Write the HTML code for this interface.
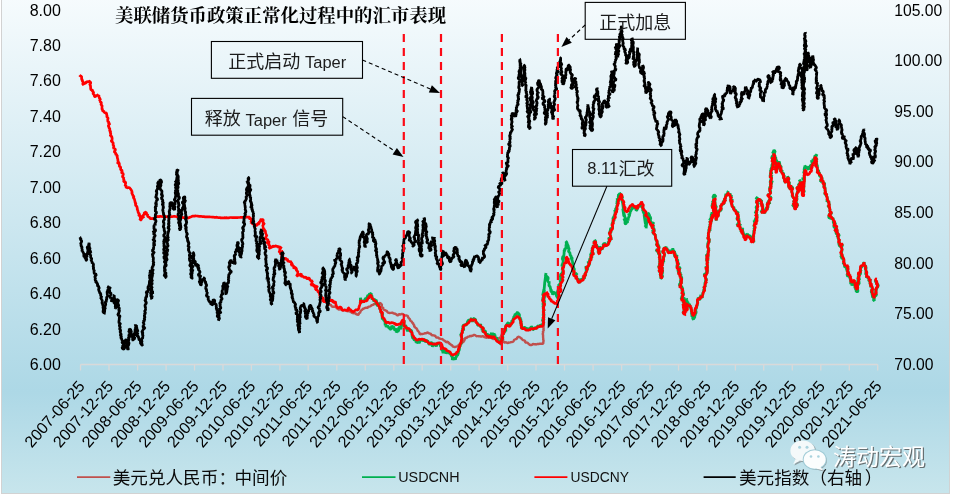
<!DOCTYPE html>
<html lang="zh"><head><meta charset="utf-8"><title>美联储货币政策正常化过程中的汇市表现</title>
<style>
html,body{margin:0;padding:0;background:#fff}
body{width:955px;height:498px;overflow:hidden;position:relative;font-family:"Liberation Sans",sans-serif}
#chart{position:absolute;left:1px;top:-3px;width:948.8px;height:496.7px;box-sizing:border-box;border:1.2px solid #d2d2d2;background:linear-gradient(to bottom,#f6fbfd 0%, #add8e6 79.5%, #c7e5ec 100%)}
svg{position:absolute;left:0;top:0;will-change:transform}
</style></head><body>
<div id="chart"></div>
<svg width="955" height="498" viewBox="0 0 955 498">
<g stroke="#d9d9d9" stroke-width="1.3" fill="none">
<path d="M80.5 364.5H877.7"/>
<path d="M80.5 364.5V370.5M109 364.5V370.5M137.6 364.5V370.5M166.1 364.5V370.5M194.5 364.5V370.5M223 364.5V370.5M251.4 364.5V370.5M279.9 364.5V370.5M308.2 364.5V370.5M336.8 364.5V370.5M365.3 364.5V370.5M393.8 364.5V370.5M422.2 364.5V370.5M450.7 364.5V370.5M479.1 364.5V370.5M507.6 364.5V370.5M536 364.5V370.5M564.5 364.5V370.5M593.1 364.5V370.5M621.6 364.5V370.5M650 364.5V370.5M678.5 364.5V370.5M706.8 364.5V370.5M735.4 364.5V370.5M763.7 364.5V370.5M792.3 364.5V370.5M820.8 364.5V370.5M849.3 364.5V370.5M877.7 364.5V370.5"/>
</g>
<g fill="none" stroke-linejoin="bevel" stroke-linecap="butt">
<path stroke="#c0504d" stroke-width="2.4" d="M320 297L320.8 297.3L321.3 297.9L321.3 299.1L322.3 299.3L322.7 300L323.3 300.5L324.2 300.7L325.2 300.9L325.9 301.2L326.2 302.1L326.6 302.8L327.2 303.4L327.6 304.1L328.4 304.4L329 304.9L330 304.7L330.8 304.6L331.2 305.7L331.9 306.3L332.5 306.9L333.4 306.7L334.2 306.6L335 306.9L335.9 306.8L336.5 307.3L336.8 308.7L337.7 308.5L338.3 309.3L339.1 309.5L340 309.2L340.7 309.5L341.5 309.5L342.1 310.4L342.9 310.6L343.8 310.1L344.7 310L345.4 310.4L346.2 310.5L346.9 310.7L347.5 311.7L348.7 310L349.3 310.9L350 311.4L350.7 311.9L351.5 312L351.8 313.1L352.9 312.6L353.4 313.3L354.4 313.1L355.1 313.3L355.9 313.4L356.3 314.6L357.3 314.2L357.8 315L358.6 314.7L358.9 313.8L359 312.9L360.1 312.9L360.3 312L360.6 311.2L361.1 310.6L361.6 310L362.3 309.6L362.8 308.8L363.6 308.7L364.4 308.2L365.2 308L366 307.7L366.9 307.7L367.8 307.7L368.2 306.8L369 306.6L369.9 306.5L370.6 306.2L371.2 305.6L371.9 305.1L372.7 305L373.4 304.6L374 303.9L374.9 304.1L375.6 303.8L376.4 303.3L377.2 303.5L378 303.4L378.9 303.3L379.6 303.1L380.3 302.8L380.6 303.5L381.3 304.1L381.9 304.7L381.8 305.7L381.3 306.8L381.5 307.6L383.4 307.6L383.2 308.6L383.6 309.3L384 309.9L384.8 310.1L385.5 310.6L386.3 310.6L386.9 311.2L387.4 312L388 312.6L388.8 312.7L389.4 313.2L390.4 312.9L391.3 312.9L392.3 312.5L393 313.1L393.7 313.7L394.6 313.4L395.3 314.1L396.2 313.9L396.7 315L397.6 315.5L398.3 315L399 314.1L399.9 314.7L400.6 314.4L401.4 313.9L402.2 314L403 314.1L403.6 314.5L404.1 315.4L404.9 315.7L405.8 315.5L406.7 315.5L407.5 315.8L408 316.5L408.1 317.4L408.8 317.9L409.1 318.7L410 319.1L410.1 320L410.4 320.8L411.2 321.2L412 321.7L412 322.6L412.7 323.1L413.4 323.6L413.2 324.8L414.3 324.8L414.2 326L414.3 326.9L415.2 327.2L415.4 328.1L416.5 328.2L416.8 329L417.3 329.6L417.4 330.5L417.9 331.1L418.6 331.6L419 332.2L419.5 332.9L419.5 333.9L420.7 334.3L421.4 333.8L422.3 334.2L423.1 333.8L423.9 333.6L424.7 333.3L425.5 333.2L426.4 333.4L427.1 332.3L428 332.7L428.7 333.1L429.4 333.5L430.2 333.6L430.9 333.9L431.4 334.8L432 335.3L432.8 335.3L433.7 335.4L434.4 335.7L435.3 335.7L435.7 336.6L436.2 337.4L436.9 337.8L438 337.2L438.6 338L439.2 338.5L440 338.6L440.8 338.9L441.5 339.1L442.4 339L443 339.6L443.5 340.3L444.3 340.4L444.8 341.2L445.6 341.2L445.8 342.4L447 341.9L447.9 341.8L448.2 342.9L449.2 342.8L449.4 343.9L450.2 344.2L450.9 344.5L451.4 345.2L452.3 345.3L452.6 346.2L453.3 346.7L454 346.9L454.8 347.2L455.5 346.8L456.3 346.5L457 346.6L458 346.6L458.3 345.7L458.6 344.8L459.6 344.9L459.9 344L460.8 343.8L461.6 343.7L462 342.9L462.4 342.2L463.4 342L463.7 341.2L464.3 340.6L464.6 339.9L464.8 339L465 338.2L465.8 337.7L466.7 338L467.3 337.3L468 336.7L468.8 336.6L469.5 336.3L470.2 335.9L471.2 336.3L471.9 335.8L472.7 335.7L473.4 335.2L474.2 334.9L475 335.2L475.7 335.5L476.4 336.3L477.2 336.1L478 336.1L478.7 336.2L479.5 336.4L480.3 336.2L481 336.6L481.9 336.5L482.8 336.1L483.6 336.3L484.3 337.2L485.1 337.4L485.9 337.6L486.7 337.7L487.7 337.1L488.4 337.8L489.2 337.8L490 337.8L490.8 337.6L491.5 338.2L492.2 338.4L492.9 338.8L493.6 339.1L494.5 338.4L495.4 338L496 338.9L496.9 339L497.6 338.1L498.6 338.9L499.3 338.1L500.1 337.5L501 337.8L501.1 338.7L502 339L503.2 339.1L503 340.3L503.3 341.1L503.5 341.9L504.2 342.3L504.7 342.6L505.5 342.2L506.3 342.4L507.2 342.8L508 343.1L508.7 342.5L509.5 342.6L510.3 342.4L511.1 342.1L511.8 342L512.7 341.8L513.4 341.5L513.8 340.7L514.1 339.8L514.9 339.5L515.7 339.1L516.5 339L517 338.2L517.4 337.4L518 336.9L518.8 336.8L519.4 337.2L520.2 337.4L520.7 338.1L521.5 338.4L521.9 339.1L522.5 339.7L523.2 340.1L524 340.3L524.6 340.7L525.3 341L525.2 342.5L526.2 342.5L527 342.6L527.7 342.9L528.2 343.6L528.8 344L529.3 344.6L530 345.1L530.8 345L531.6 345L532.3 344.6L533 344L533.8 344.2L534.6 344.3L535.4 344.2L536.3 344.5L537 344.2L537.7 343.9L538.5 344.2L539.3 343.9L540.1 343.6L540.8 343.8L541.6 343.5L542.4 343.9L543.1 343.7L543.4 342.9L543.2 342.1L543.5 341.3L543.6 340.5L543.1 339.7L543.3 338.9L543.2 338.1L543.1 337.3L543.1 336.5L543 335.7L543.2 334.9L542.6 334.1L543 333.3L543.2 332.5L542.8 331.7L543.4 330.9L543.8 330.1L543.3 329.3L543.6 328.5L543.6 327.7L543.2 326.9L543.8 326.1L543.5 325.3L543.7 324.5L543.4 323.7L543.5 322.9L543.5 322.1L542.8 321.3L542.6 320.4L542.9 319.6L543.3 318.8L543.4 318L544.4 317.3L543.9 316.4L543.9 315.6L543.7 314.8L543 314L543.3 313.2L543.1 312.4L543.1 311.6L543.6 310.8L543.6 310L543 309.2L543.3 308.4L543.1 307.6L543.8 306.8L543.5 306L543.1 305.2L543.4 304.4L543.8 303.6L543.4 302.8L543.5 302L544.1 301.2L544.5 300.4L543.1 299.6L542.9 298.8L544.1 298L544.1 297.2L543.7 296.4L544.5 295.6L543.5 294.8L543.5 294"/>
<path stroke="#00b050" stroke-width="2.8" d="M360.1 303L360.3 302L360.8 303.6L360.5 299.5L360.4 301L360.5 297.8L361.4 301.8L362.4 301L363.2 302.5L364.1 299.9L365 300.7L364.8 299.2L365.8 298.5L366.6 299.1L367.3 296.6L367.3 297L367.9 297.2L367.2 296L368.1 295.3L368.7 298.4L369.1 295L369.6 293.5L370.3 294.1L371.3 293.1L371 295.1L372 295.7L372 299.8L372.9 297.6L372.8 298.5L373.5 299.2L373.8 301.6L374.5 299.6L375.4 299.8L376.1 304L376.2 299.9L376.7 302.1L376.9 304.1L377.4 306.2L378.3 303.5L378.4 303.1L379 306.8L379.8 306.5L379.5 307.3L379.8 308.9L380 309.6L379.9 309.5L380.5 309.8L381.4 312.6L380.1 313.2L381.2 312.7L382.2 313.1L382.7 315.2L381.7 315.7L382.1 314.8L382.2 316.6L382.3 319.4L382.9 318.7L383.7 319.9L383.9 320.6L384.5 320.9L384.3 321.8L384.9 320.2L385.2 325.3L385.7 324L385.4 323.7L386.2 326.8L386.7 326.3L387.5 325.8L388.5 327.1L389.1 328.6L389.1 327.9L390 328.8L390.9 329.6L391.7 325.8L392.4 326.7L393.3 328.6L393.2 326.1L394 328L394.9 330.4L395.7 329.7L395.4 330.9L396.2 328.2L396.3 332.4L397.2 331L398 331.4L398.7 330.3L398.9 327.4L399.6 327.3L400.4 327.2L401 329.5L401.1 325.2L401.7 324.8L402 323.9L402.1 323.6L403.2 322.5L404.5 322.1L403.8 321.9L404.3 320.1L403.9 324.6L404.2 325.1L404.1 326.9L403.7 326.3L404.1 326.1L405.2 326.7L405.3 325.1L405.8 326.1L406.2 326.4L406.6 328.7L407.6 331.1L408.4 329.3L408.9 330.5L409.3 329.7L409.9 330.3L410.1 330.5L410.3 331.5L410.7 329.7L411.8 331.3L411.7 331.5L412 334.3L412.1 335.2L412.2 336.5L412.9 338.4L412.8 336.3L413.7 338.4L413.6 339.9L413.8 339L414.5 340.4L415.4 339.7L415.3 338.7L416 342.2L416.7 341.9L416.8 343L417.7 342.2L417.9 342.5L418.3 339.2L419.1 343.1L419.8 341.6L420.7 340.2L421.5 338.9L422.3 340.1L423 340.6L423.9 340.6L424.1 341.5L423.9 339.1L424.8 340L425.7 342.3L426.4 341.2L426.4 339.9L426.9 340.9L427.7 340.3L427.8 341.4L428.8 344.1L428.8 343.5L429.3 344.9L430.2 343.7L431 342L431.8 343.1L432.4 346.9L433.3 343.9L434.2 343.3L434.8 346.2L435.1 344.6L435.7 344.8L436.4 346.5L437.2 342.4L437.9 344.3L438.6 343.5L439.5 343L440.3 344.7L440.6 346.9L441 346.7L441.8 345.4L441.9 347.3L441.9 350.8L442.1 350.7L442.3 349.4L443.1 353.3L443.2 350.8L444 350.2L444.9 351L445.6 352.5L445.8 353.4L446.3 352.6L446.4 352.1L447.3 352.1L447.4 351.9L447.6 353.3L448.1 352.4L449 353.5L449 352.1L449.8 353.3L450.5 354.1L450.8 354.8L451.3 354.9L451.5 356.2L452.4 357L452.3 360L452.6 359L453.5 357.4L454.2 359.4L455.1 358.5L455.6 359.8L455.6 357.6L456.5 356.7L456.3 355.4L457.3 355.2L458.3 354.8L457.9 354.1L458.6 352.4L458.2 352.5L458.9 350.5L459.4 349.5L459.4 347L459.4 348L459.9 346.1L460.1 345.3L459.8 346.2L460.5 346.9L460 345.8L461 343.1L461.5 342.7L461 343.3L461.4 343L461.2 341.7L461.7 339.5L462.2 339.3L461.6 337.4L461.6 336.9L461.7 335.3L460.4 335.5L461.9 332.8L461.5 333.2L461.5 334.6L462.1 332.1L462.5 332.7L462.3 330.1L461.9 330.1L463 330.5L462.4 327.8L462.9 328.2L463.8 330.8L463 326.3L463 325.4L463.4 325.3L464 325.2L464.7 324.6L465.7 325.5L466.3 324.6L467.3 323.1L467.3 322.3L468 320.7L468.7 320.1L469.2 320.1L469.3 321.5L470.2 319.7L470.6 320.3L471.1 318.7L471.4 318.6L472.4 321.9L473.2 319L474 318.6L474.7 318.1L474.4 320.4L475 319.1L475.4 318.9L475.7 320.7L476 322.8L476.5 322.3L477.5 323.2L477.6 325.1L478.6 325.6L478.4 326L479.1 324.3L479.9 325.7L480.5 325.8L480.7 323.9L480.9 328L481.3 326.9L482 326.7L482 330.2L483.1 327.8L483.6 327.7L482.8 329.4L483.2 331.2L482.6 332.6L483.7 331.1L484.3 330.6L484.6 331L485.1 331L485.6 331.6L485.4 333.3L486 333.8L486.3 334.8L486.6 334.3L487.3 334.4L488.4 334.8L488 335.6L488.9 337.1L490 334.2L489.7 336.7L490.5 335.6L491.6 332.8L491.5 336.5L491.7 335.8L492.4 332.7L492.7 335.1L493.3 334.9L494.2 333.6L494.8 337.1L494.3 336L494.9 334.8L495.3 337.8L496.2 337.9L496.3 337.6L496.6 337.1L497 340.5L497.8 340.1L498.8 341.7L499.3 342.6L499.4 342L500.1 341.7L500.9 344.6L501.7 344.1L501.2 341.7L501.1 339.6L502 339.1L501.7 338.5L501.3 340.3L502.6 338.7L502.9 337.2L502.1 335.2L501.7 335.8L502.3 333.7L502.7 334.1L503.6 334.6L503.5 334.2L504.1 332.4L503.7 330.7L504.3 331.5L504.8 332.6L504.7 330.6L504.6 328L504.8 330.3L505.7 328.4L505.8 331.5L505.6 326.1L505.9 325.8L506.5 324.8L506.3 325.5L507 324L507.7 323.1L508.5 322.7L509.2 325L510.3 323.9L510.5 322.6L510.7 325.2L511.6 323.3L511.5 322.7L512 320.4L512.2 321.1L513.2 319.5L513.3 318.5L513.1 318L513.7 317.9L513.8 316.5L514.4 316.4L515.3 313.7L515.4 314.6L516 314.9L516.9 312.9L517.7 312.1L518.1 314.3L518.5 313.5L519.4 314.6L519.4 317.6L520.2 317.1L519.9 320.2L520.6 319.6L520.2 320.2L521.1 321.7L520.7 318.7L520.8 321.6L521.9 320.9L520.4 322.6L521.5 324.3L521.7 326.9L521.1 326.3L521.7 328.8L521.6 326.5L522.3 327.3L522.9 328.3L523.6 328.4L524.1 327.4L525.1 327.3L525.7 328.7L526.5 327.5L527.2 330.5L527.5 329.9L528 330L528.8 329.2L529.6 328.1L530.8 328.6L530.5 329.4L531.2 326.4L531.9 327.1L532.7 329.7L533.5 329.4L534.3 328L535 327.7L535.8 327.8L536.6 328.8L537.2 326.2L537.2 325.9L538.3 326.3L539 327.4L539.8 325.1L540.8 325.3L541.5 325.2L542 324.5L542.5 324.4L543.1 324L543.3 323.7L543.1 321.3L543.9 318.7L543.8 318.7L543.2 320.4L542.6 321.1L543.1 318.4L544 316.8L543.4 316.5L544.2 314.1L543.8 314.3L542.9 315.7L543.2 314.7L543.8 312.6L543.7 311.9L543.8 312L543.5 311.8L544 309.4L543.3 310.7L543.3 310.7L543.5 307.7L544.6 300.2L543.7 306.3L543.5 303.9L542.9 307.5L543.9 302.7L543.8 302.7L543.6 302.8L542.8 304.9L544.6 296.1L544.5 295.4L543.3 300L543.6 299.9L542.6 300.7L542.7 299.1L543.9 296.8L543.9 297.2L542.7 298.3L543.8 295.6L543.7 294.3L543.4 295.8L544.5 289.9L542.6 295.6L543.9 289.5L543.8 293L544.7 283L544.7 282.6L546 273.1L545.4 276.2L546 276.2L547.2 277.1L547.9 276.6L545.6 276.5L547.4 277L548.2 277.8L547.9 279.8L547.4 279.9L548.1 281.9L548.8 282.3L549.2 281.2L549 285.8L550 286.4L550.8 289.8L551.3 288.5L550.7 290.5L551.5 292L551.5 290.7L552.5 293.5L552.7 294.8L553.8 292.3L554.3 291.9L555.1 294.1L555.9 293.6L556.5 295.9L556.5 296L558.1 298.6L557.1 296.1L557.6 294.3L556.8 294L558.1 290L558.6 291.9L558.4 290.6L558.2 290.4L558.2 290.9L559.1 289L559.3 289.8L559.5 287L558.6 287.5L558.7 285.8L558.3 285.4L559.7 284.3L560.4 282.8L560.8 283.6L560 283.8L560.6 284.6L561.1 281.2L559.9 280L560.4 281.5L560.9 277.1L559.3 277L560.3 277.5L560.7 274L561.6 274.1L561.5 274.8L562.3 272.5L563.2 271.6L562.4 272.5L563.2 270.4L562.2 268.9L562.3 269.6L563 266.8L563.2 268.4L562.9 265.8L561 265L562.5 264.9L562.9 262.4L564.1 262.2L563 261.7L563.7 257.3L563.2 259.5L562.7 260.1L562.4 258.8L562.7 256.9L564 255.8L563.5 256.9L563.9 255.3L564.1 253.2L564.1 252.2L564.8 248.6L564.8 250.8L563.7 251.8L565.4 248.8L566.6 247L565.1 246.3L565.8 246.8L566.1 244.9L566.3 244.1L566.3 242.6L565.9 241.6L566.6 241.9L567.4 243.9L566.9 243.5L568 245.6L568.3 246L568.4 248.3L567.2 247L569.1 248.4L568.5 251.8L569.8 252.4L570.3 255.5L571.3 256L571.2 257L571.2 259.3L572.3 258.7L571.8 257.4L572.1 260.9L572.4 260.5L572.7 263.9L572.1 265.7L573.3 266.3L573.9 268.5L574.5 269.4L574.1 270.2L574.6 270.3L573.2 271.3L574.1 272.9L574.9 273.7L575.5 274.5L577.3 273.2L575.2 275.9L576.4 276.7L576.6 277.3L577.4 278.8L577.5 280.1L577.9 278.4L578.1 279.1L578.4 279.3L577.9 280.4L578.9 282.2L579.8 282L580.4 281.9L580.8 279L581.3 279.3L582 280.1L582.9 279.4L583.8 278.2L582.3 278.1L584 278.3L582.8 276.1L584.4 279L584.6 276.2L583.7 277L583.3 276.6L583.8 276.4L585.9 274.6L584.8 272.6L585.2 273.4L586.2 272L586.2 267.8L586 267.4L586.2 269.7L587.4 269.1L586.7 267.5L586.3 267.9L585.4 266.1L587.5 269.5L587.9 266.5L588.5 266L589.5 264.3L587.8 261.2L589 263.2L590.1 261.8L589.1 261.4L590 260.7L589.5 261L589.9 258.6L590.9 259.1L591.2 257.8L590.7 256.1L590.8 255.6L591.2 256.8L592.1 257.8L591.4 254.8L590.4 255.4L591.2 253.2L592.1 253L593.4 254.5L593 252.9L591.8 249.7L592.3 250.4L592.5 249.9L591.4 251.7L593.1 250.5L591.8 248.5L593.7 247L592.3 246.2L595.2 245.2L595.5 244.9L594.9 242.2L595.4 242.3L593.2 240.9L594.4 241.9L595.3 240.9L594.4 240L595.4 240.8L595.7 242.6L595.8 244.1L595.2 242.9L596 244.8L596.5 245.2L596.6 245.8L596.6 244.6L597.3 248.2L599.1 246.5L598 252.6L599 252L599.1 249.3L598.3 252.1L599.6 252.7L599.5 251.9L600 252L599.4 250.2L599.3 250.9L600.8 249.9L599.5 246.7L601.3 248.5L602 249.5L602.4 248.4L603.5 246.5L603.1 244L604 243.8L604.6 244L604.2 242.3L604.7 245.2L605.4 244.6L606.3 245.5L607.1 243.9L608 244.5L608.3 241.5L608.7 244.2L609.3 240.1L608.4 239.8L610.7 237.9L608.3 239.1L609.2 237.9L609.1 239.1L610.3 239.3L611.2 239.7L611.1 237.8L610.4 236.1L610.1 234L609.1 232L611 231.6L611.8 230.9L610.8 232L610.3 228.7L610.9 228.5L610 231.5L611.7 228.8L610.8 228.5L612.7 228.1L612.5 226.9L612.3 225.4L612.6 226.1L612.7 223.4L611.7 224.7L613 221.6L613.1 220.6L614.4 221.4L613.3 219.3L612.9 218.6L613.2 220.2L613.3 220.2L612.9 218.4L614.2 216L613.5 218.2L614.8 215.5L614.6 215.6L615.3 211.5L615.5 212.5L614.9 211L614.6 209.8L615.3 211.1L616 210.1L615.7 208.5L615.1 208.4L615.7 209.3L615.4 209.3L616.7 207.2L616.7 206.4L617 205.5L617.5 203.7L616.8 203.3L616.8 204L617 203.6L617.1 200.6L617.7 201L617.9 200.4L616.8 198.1L618.8 201.9L618 199.3L618.5 199.2L618.6 196L618.2 196.2L618.5 198.5L618.4 194.5L619.2 194.6L620.4 197.6L620 197.3L620.1 196L619.5 192.7L621.3 196.4L622.8 198.3L621.9 196.6L621.2 194.6L620.6 194.4L621 195.7L621.9 197.7L622.2 199.2L621.3 198.1L621.2 197.2L622.5 202.6L622.4 201.2L623.8 211.6L623.2 204.1L624.3 211.6L623.8 208.3L623.5 209.7L623.2 208.9L624.2 216.7L623.8 215.1L623.3 211.3L623.8 215.8L622.8 208.6L625.1 217.8L625.2 221.7L623.9 218.5L625.6 220.8L624.8 223.5L625.7 223.9L626.4 222.9L626.2 221.4L627.4 222.9L627.7 217.5L628.3 220.8L628.1 218.7L629 216.4L629.7 215.2L628.7 213.4L629 215.2L629.9 213.8L630.2 211.5L630.7 211.2L631.8 208.9L631.6 206.3L632.8 205.8L633.1 207.5L633.7 205.3L633.3 207.2L634 208.8L635.3 206.7L636.7 207L636 210.9L637 209.8L638.2 207.1L637.8 207.6L638.4 206.1L639.3 205.5L639.3 206L640.5 206L640.3 204L641.1 205.1L641.5 203.4L642 205.2L642.1 205.2L641.9 203.3L642.1 207.6L643.4 208.1L643.2 209.2L641.8 209.3L643.3 210.2L643.1 211.7L644.3 214.2L644.2 215.5L645.3 223.1L645.5 223.5L645.8 224.6L646.1 222.8L646.6 220.3L646.1 225.4L644.8 227L646 225.5L646.5 222.9L646.1 228.4L646.7 222.6L647.7 217.8L647.6 217.2L648.6 213.1L648.9 212.8L648.2 215.8L649.1 215.4L648.6 214.8L649.7 214.7L649 217.7L650.4 216.7L650.8 219.4L649.9 218.3L651.2 223.5L652.2 224.7L653.9 222.1L651.4 225.6L651.9 226.7L652.2 225.2L653.1 224.7L653.9 232L654.2 230L654 228.3L654.1 230.9L654.3 231.6L652.6 229.7L653.2 233.5L654.5 234L655.1 234.4L655.4 234.2L654.4 235.9L655.4 234.2L655.4 237.4L655.9 237.2L655.6 238L655.6 238.8L656.4 240.9L657.1 241.1L657.1 242.1L657 244.7L657.5 242.3L656.2 245.1L658.9 245.6L657.9 246.6L657.8 244.1L659.2 247.1L658.2 249.6L655.9 249.8L658.5 252.6L659.8 251.1L658.7 250.9L658.4 253.8L659.1 254.4L660.3 252.8L658.8 255.3L659.2 252.5L660 255.3L659.2 255.9L660.6 257.2L658.9 258.4L659.7 258.1L660.7 259.3L658.9 258.8L660.3 258.9L660.2 258.6L660.3 258.9L660 261.2L659.6 258.3L660.1 260.6L659.5 262.3L660.5 264.3L659.1 264.1L660.6 266.4L660.1 265.7L659.7 265.7L658.5 265.8L659.4 268.3L661.7 270.9L659.1 270.4L659.1 269.7L659.5 272.3L660.7 269.9L661 271.2L660.1 274.8L660.5 275L660.3 276.3L661.1 276.1L661 275.7L660.7 276L661.2 275.3L660.7 278.9L662.6 275.9L660.9 273.1L660.9 274.3L661.2 275.3L661.9 272.9L661.7 270.4L661.1 276.6L662.7 272.1L660.9 272.5L661.9 272.7L662.7 270.8L662.2 269.6L662.3 267.6L661.8 269.7L661.7 267.4L662.9 268.4L661.2 267.4L660.9 265.4L662.6 263.5L662.5 263.7L660.6 263.9L662.8 263.2L663.6 260.3L663.8 262L660.4 260.9L663.7 261.9L662.9 260.4L663.7 260.1L663.5 257.8L662.8 257.4L663.1 257.7L663.9 256.2L663.8 256.6L664.1 257L664.6 254.4L664.1 252.4L662.3 252.1L664.3 248.9L664.5 248.7L663.2 249.6L664.8 247.6L665.4 249.5L665.8 248.8L666.1 246.4L665.7 247.9L666.6 248.2L666.9 248L667.1 249.9L667.4 249.7L667.8 249.6L668 252.1L668.6 252.1L669.3 252.5L670.1 250L671.2 252.2L671.9 251.1L672 250.5L672.7 250.6L672.5 250.3L672.8 248.1L673 250L673.7 250.6L674 251.7L674.7 250.8L674 254.7L674.9 253.2L674.7 254.6L676.2 254.2L674.8 253.8L674.4 256.1L676.2 257.1L677 254.7L676.3 259.7L676.4 259.7L677.2 259.5L677 259.3L678.2 260.9L676.2 260.9L677.7 262.1L677.6 262.2L678.3 263.5L678.9 262.5L677.9 264.8L676.8 265.7L677.2 267.2L677.6 267.8L680.3 267.5L678.4 271.5L677.8 269.6L678.3 269.7L679.4 269.3L679.1 271.2L678.1 270.7L678.5 272.9L680.6 271.7L679.9 272.8L679.9 274.5L680 276.1L680.1 275.2L679.5 274.6L681.6 273.7L680.4 274.8L681.8 277.9L681.5 279.3L681.1 277.9L680.7 279L680.6 280.5L681.5 278.6L681.4 280.7L680.1 282L681.3 283.7L681.5 281.3L679.2 284.7L680.3 285.9L681.5 285.9L681.5 286.7L681.6 287.5L683 287.6L682.4 288.5L682.2 288.6L682.4 290.7L681.9 290.4L681.3 291L682.8 291L683.7 294.2L682.5 294.9L682.7 295L682.1 294.4L683.1 298.8L682.1 297.5L682.1 295.9L681.1 299.2L682.9 298.5L684.1 297.5L684.2 298.9L682.6 301.4L685 299.9L683.9 302.5L682.4 303.5L684.8 302.3L685.1 304.1L682.5 305.7L684.3 305.5L683.9 306.6L683.1 308.1L684 306.6L684.4 307.7L684.6 307.4L685.3 308.4L684.7 309.5L685.5 309.7L684.3 312.2L685.4 311.1L684.5 312.6L685.5 312.7L684.2 313.2L682.9 312.8L685.4 307.7L686 308.1L686.7 308L684.8 307.7L688.1 307.2L685.9 304.5L687 304.4L686 306L686.5 303.5L687.9 301.7L686.7 301.7L686.5 298.3L686.8 300.1L687.1 301.6L688.2 302.9L688 302.6L688.5 304.4L689.5 304L690.4 307.6L691.1 308.7L691.1 307.2L691 309.7L692 309.5L691.2 310.2L691.6 311.7L691.5 314.7L691.8 313L692.8 313.3L691.5 316.7L692.8 315.4L692.9 316.8L692.6 317.9L693.5 319.9L693.4 318.3L693.7 318.9L694.9 316.9L694.2 315.1L694.4 315.9L695.2 315.2L695.3 313.5L695.1 311.9L694.8 315.5L696.1 312.6L696 310.9L694.2 311.4L694.8 311.4L695.8 309.6L696.9 306L696.1 305L697.2 306.2L696.8 306L697.3 305L697.3 304.6L697.6 303.4L697.8 303L697.4 303.5L697.4 301.1L697.5 300.1L698.6 300.7L698.1 297.2L699.5 300.1L700.1 298.3L700.2 297.2L700.1 298.3L700.9 294.8L700.9 296.1L702.3 297.9L702.3 295.5L702.5 294.8L702.9 292.8L703.2 293.4L703 292.9L703.6 291.5L703.8 289.5L704.8 289.1L704.6 289.6L704.2 288.5L704.7 289.1L703.7 286.4L705.3 286.9L704.9 283.6L705 282.5L705.4 284.3L705.4 281.3L706.6 281.6L706.3 281.7L705.3 279.7L706.8 280L705.6 279L706.2 280.5L706.5 278.6L705.7 278.5L705.7 278.1L705.6 278.3L705.1 274.9L706.1 276L703.7 274.9L706.7 272.8L706.3 272.5L707.1 272.9L707.4 272.1L706 273.3L707.7 270.3L708.1 270.6L706.5 271.6L706.8 268.4L707.1 267.7L706.2 267.7L708.7 267L704.8 267.7L707.2 267.4L707.5 264.7L707 262.8L706.8 262.8L708.1 259.8L707 260.4L706.9 260.5L706.4 259.3L708.1 257.5L708 256.1L705.9 255.8L707.9 254.1L706.2 256.5L707.1 255.9L708.2 255.5L707.4 255.9L708.7 254.1L707.7 254L707.8 253.5L708.3 253.1L707.8 250.8L708.2 250.7L708.6 250.9L708.9 249.9L708.1 247.4L709.1 249L708.7 249.2L707.8 246.9L707.7 243.4L708.1 243L708 242.7L708.4 241.5L708.6 241.4L708.8 243.2L708.5 240.2L709.7 242.7L708.6 240.8L709.2 240.3L709.4 238.8L707.3 238.1L708.7 237L708.2 235.3L708.7 234.4L708.1 233.7L708.6 232.8L708.3 233L709.2 231.1L708.9 228.8L708.8 231.2L709.5 229.2L709.3 229.4L710.1 231L709.9 227.8L709.1 228L709.4 226.7L710.6 225.4L709.3 225.8L710.3 224.7L710.4 223.9L709.8 220.8L710.4 223.2L711.5 221.2L710.7 219.4L709.5 220.5L711.4 217.2L711.9 218.9L711 215.4L711.3 217.3L712.5 215.2L710.6 215.3L713.6 213.2L711.6 215L711.9 212.3L712.7 213.3L712.7 213.6L711.9 213.5L712.6 213.6L714.3 210.9L714.1 207.9L713.6 209.3L713.2 208.9L713.3 207.5L713.9 205.3L712.7 206.8L711.9 206.2L712.5 203.9L713.3 202.7L712.1 202.4L713.7 200.8L713.4 200.4L713.8 199L713.3 197.6L712.9 197.1L714.2 194.6L716.1 196.8L714.6 196.6L714.9 196.1L713.8 197.2L714.7 197.1L714.1 198.6L714.6 199.4L714.9 201.5L715.1 202.4L714.3 202.3L716.1 202.7L714.1 203.1L715.1 204.4L716.7 207.9L714.8 205.6L715.9 207.6L715.4 207.8L715.6 208.1L715.5 209.4L716.7 210.7L715.4 210.2L716.9 211.2L715.7 214.4L716.2 214.5L715.8 213.8L716 214L715.8 214.6L715.4 213.7L716.1 214.8L716.1 216.7L716.7 215.7L716.6 216.7L716.2 220.7L715.7 216.6L716.8 216.3L716.8 216.1L717.5 215.6L718.2 216L718.3 215.4L718.6 213.5L718 212.4L718.4 213.4L717.8 212.2L719.1 211.4L718.8 211.4L720.2 210.5L720.3 211.5L719.9 210.3L719.6 210.6L720.8 210.3L721.4 209.5L720.8 207L720.6 205.6L720.1 205.2L721.3 205.8L721.9 205.4L722 203.1L722.5 204.2L724 203.4L724.3 202.9L723.7 201.3L722.7 200.4L724.3 202.2L724.8 199.7L726.2 199.3L724 200.7L724.8 199.4L725.7 197.4L725.2 198.3L725.9 193.8L725.9 196.3L726.4 195.3L727.1 194L728.6 194.4L728.3 193.8L727.6 192.4L728.4 191.1L727.5 193L729.1 195L730 194.1L730 193.3L730.2 194.1L730.4 197L731.5 195L731.4 195.6L730.7 197L730.7 198.4L731.5 196.1L730.2 200.7L731.4 199.8L732.5 200.4L732.3 199.8L730.5 201L731.5 202.9L731.7 203.4L731.7 203.8L732.2 204.7L732.1 207L732.5 206.9L733.5 207L734.1 206.6L733.4 209.3L734.2 209.3L733.9 208.6L734.7 210.7L734.6 211.2L735.2 210L735.8 210.4L736.1 211.9L736.7 210.6L735.4 211.1L738.2 213.3L737.7 211.8L737.3 213.2L737.3 213.5L738.2 214.9L738.5 216.7L738.4 215.8L736.8 218.6L738 220L738 220.4L738.8 218.2L738.9 221.7L738.7 223.8L739.4 220.3L739.1 221.7L736.9 225.4L739 225.1L739.4 224.9L740.3 225.2L740.3 224.1L739.5 226.3L740 227L740.1 228L741.1 229.3L743.1 229.6L742.2 228.4L741.9 229.4L740.5 232.1L742.6 228.6L742.7 231.6L743.2 230.6L742.7 231.9L742.7 234.2L743.8 233.4L743.4 233.4L744.2 233.3L743.2 232.9L744.2 235.8L744.6 233.7L744.8 236.7L745.4 238L744.4 236.2L746.5 237L745.4 237.5L746.4 237.2L746.5 237.7L746.6 234.3L747.5 234.2L747.5 233.5L747.9 235.7L749.1 235.4L750 235.9L749.8 238.2L750.7 236.2L750.9 237.7L751.9 238.6L750.8 240.7L751.9 238.8L752.7 240.1L754.1 242.4L752.5 237.9L754.6 237.4L753.9 237.4L753.6 236.3L753.8 237.7L752.8 234.7L753.6 234.9L753.9 230.6L753.8 231.4L753.7 230.3L754.2 230.8L754.2 230.4L754.4 229.5L753.9 229.1L754.6 227.3L754.8 227.5L754.5 228.1L754.8 225.9L753.7 226.6L754.5 223.9L755.5 224.5L753.9 220.3L754.9 222.8L754.9 219.4L754.5 219.4L757.4 222.2L755 219.8L755.9 220.2L755.9 218.2L755.1 219.2L756.8 218.5L757.2 217.8L756.2 215.2L756.6 215.7L757.6 215.8L755 211.5L757.2 213.4L755.6 210.8L756.8 210.5L756.2 209.7L757.2 209.1L757.4 210.8L756 207.2L756.8 206.3L757.3 207.2L757.3 204.9L757.2 204.8L757.7 204.9L758.1 203.2L756.4 201.6L757.1 203.4L757.5 202L756.9 200.1L756.8 201.2L757.7 199.9L755.8 197.3L758 198.7L757.6 199.4L758.6 198.7L759.5 201L760 200.8L760.3 201.2L760.4 200.7L761.8 199.8L761.4 200.4L761.5 204.4L761.3 202.7L760.4 202.8L762.7 204.6L761.3 206.6L762.8 205.1L762.7 208.3L762.2 210.3L762.9 209.9L762.1 209.2L763.6 211.1L762.7 209.3L760.9 212.2L764 211.6L764.8 213.3L765.5 209.2L766.3 208.7L766.9 208.2L767.1 209.4L768.1 206.8L766.2 208.1L768.3 205.5L768.2 205.2L767.3 203.6L767 204L768 202.6L769.8 203L770.2 202.6L768.5 202.3L768 201.1L768.1 202.5L769.1 202.1L768.6 200.4L769.4 200.2L770.6 199.1L771.2 197.3L769.3 196.6L768.7 194.7L767.2 195.4L769.7 193.9L769 193.4L770.1 194L769.6 193.9L770.6 192.7L770.6 190.8L770.1 190.3L769.8 191.7L769.8 188.2L769.5 187.3L771.3 186.4L770.5 184.8L771.1 184.1L769.7 185.2L770.8 185.2L772.4 180.6L770.9 184.5L770.3 183.5L770.9 181.1L771.6 181.3L770.5 180.3L770.1 182.7L771.3 177.3L771.8 178.7L770.9 176.4L772.1 175L770.8 177.4L770.1 176L770.4 174.2L770.9 172L771.7 172.6L771.5 174.1L770.6 171.6L770 171.4L771.8 170L771 170L770.9 168.6L771.5 168.2L771.9 166.5L773.3 163.7L773.2 163.3L771.4 166L773.5 162.6L773.6 163.6L772.2 164.2L773.3 162.3L772.5 161.3L773.3 157.7L772.7 161.4L773.3 159.8L771.4 157.5L773.3 155.9L773.7 157L774 154.1L771.7 157L773.3 155.3L774.5 152.1L774.9 150.6L772.5 153.6L774 150.1L775.1 151.3L774.2 151.2L775.2 150.9L774.2 154.4L774.9 157L775.2 155.5L774.3 156.2L774 158.9L775.1 156.7L774.3 159.7L776.6 158.4L774.5 157.6L775.6 159.5L775.2 158.2L777.2 161.8L776 163.5L776.1 164.1L775.4 163.9L775.8 169.2L775.7 168.4L775.5 166.8L776.7 171.3L776.9 171.3L776.5 170.6L776.5 171.6L775.4 168.2L776.7 169.1L776.9 169.9L777.4 167.3L777.8 169.1L777.3 164.1L777.6 164.5L778.1 163.1L777.7 164.4L778.1 163.8L779 163.9L778.6 164L779.3 162L778.9 162.7L779.2 162.3L778.3 163L779.3 161.5L779.9 164.7L779.4 166.2L779.9 165.4L781.2 167L779.1 164.9L780.2 166.8L781.4 165.9L780.5 168.1L780.5 170.3L782.4 170.8L780.4 170.4L780.4 170.9L781.8 171.4L782.2 169.7L781.7 172.8L782.7 172.8L783.9 173.8L783.1 175.2L783.6 176.6L784.6 175L783.1 178.4L784.5 178.1L784.7 180.3L784.5 179.7L784.6 180.7L785.2 178.9L784.5 182.3L785.5 181.9L786.4 178.9L786 181.9L785.9 180.7L786.9 179.4L787.2 181.5L787.2 178.9L788.4 178.9L788.6 178.5L787.7 176.3L787.5 178.8L788.6 177.5L789 179.4L786.4 182L788.6 181.5L789.4 182.6L789.4 185.1L788.1 183.1L789.2 186.1L787.9 186.8L789.5 187.1L790.3 187.5L791.8 186.4L789.2 185.9L790.1 188.9L789.4 188.7L791.6 186.9L793 187.9L791.7 190.2L792.6 190.6L791.7 190.8L791.7 191.9L792.3 192.5L792 193.3L792.8 193.4L792.1 195.7L792.7 196.7L793 195.6L792.9 197L794.1 198.4L794.1 197.6L794.6 199.6L794.6 199.8L793.5 202.5L793.8 200.6L794.6 202.3L792.5 206.1L794.4 205.6L795.2 204.2L792.9 206.6L795.4 204.2L795.5 207L796.3 205.1L794.8 207.8L794.3 206.9L795.2 208.8L796.3 208.3L794.4 208.6L796.1 206.9L797.3 207.5L795.6 205.9L798 205.9L795.8 201.6L795.9 200L795.6 201L795.9 202.8L796.2 201.5L796.5 199.9L797.6 198.1L796.3 200.3L795.5 198.3L796.6 199.7L796.3 196.8L797.1 197.5L796.4 194L796.8 195L797.5 191L797.9 192.3L797.9 191.9L799 189.4L797.4 188.1L797.8 190.2L798 188.3L796.3 186.7L797.4 187.8L797.9 187.4L799.4 186.5L798.3 183.5L798.9 184.3L799.7 183.4L799.6 184.8L800.5 183.4L800.4 180.9L800.2 181.5L799.2 179.6L801.5 183.5L799.7 183.2L802.4 182.9L800 185.7L800.7 185.6L801.3 183.6L802.1 184.3L801.1 185.9L799.2 189.2L801.1 186.9L802.9 187.6L802.5 189.3L802 189.8L802.7 189.9L802.1 193.5L802.3 191.8L803.3 191.6L803.8 192.3L804.5 190.3L803.5 192.7L803.5 188.9L803.3 188.6L803.8 189L803.9 184.2L803.2 186L803.1 185.1L802.5 185L803.9 184.7L803.9 181.9L804.1 182.7L804 180.7L803.9 181.7L804.5 178.5L803.5 179.2L804.2 178.4L801.6 178.8L804.4 178.9L804.4 175L804 176.9L804.5 172.8L804.2 172.4L804.8 171L803.5 173.3L805 168.5L805.3 170.2L804.4 170.8L804.1 168.9L804.9 168.1L804.4 168L804.7 166.6L804.8 166L804.6 165.4L805.5 167L806.1 166L806.2 166.6L806.8 167.8L806.5 167.7L807.6 166.5L807.3 167.7L807.8 167.8L808.5 170.1L808.5 167.6L809.3 167L809.9 167.1L809.4 166.4L810 169.4L810.2 165.3L812.1 166.4L811.4 167.9L811.6 167.7L811 163.9L811.2 165.2L812.5 163.6L811.6 160.9L811.3 161.2L812.6 162.6L813 163.2L813.4 160.7L812.9 158.7L812.9 159.5L813.5 159.8L814.3 158.6L815.4 159.7L814.6 158L814.9 156.1L814.6 155.3L814.8 156.4L816.1 155.2L815.4 157.7L817 154.2L815.5 156.5L816.5 160.1L817.1 158.5L816 158.9L816.2 160L815.6 159.2L816.8 164.2L815.4 165.3L816.2 162.9L816.9 165L816.4 164L817.3 165.5L817.4 167.5L817.1 168.6L818.6 171L818.4 171.1L817.4 169.7L817.5 170.9L817.1 172.5L818.6 170.2L818.9 172.4L819.5 172.4L819.4 176.1L820.7 176.4L820.9 175.5L821.5 178.9L821 177.6L822.5 177.4L820.1 181.8L822.2 180.3L822.6 181.7L822.3 179.8L822.9 182.2L823.9 182L822.9 182.9L822.8 182.6L825.4 183.9L823.8 184.4L824.8 184.6L823.8 186.9L824.1 184.2L824 185L824.7 186.3L823.8 186.3L823.8 186.9L825 187L825.1 189.7L825.1 191.7L825.9 191.2L825.5 191.3L824.6 194.3L825.7 194.3L825.6 193.2L827 195.3L826.3 194.8L826.4 195.8L827.2 197.1L826.9 197.1L827.5 198L826.8 201.9L827.7 200L828.2 200.3L827.4 201.9L829.1 202.2L828.8 201.2L829.1 204.8L830.1 205L829.3 204.4L829.2 206.2L828 205.4L828.4 207L828.9 206.8L830.2 207.1L829.5 207.2L829.5 209L829.6 208.6L830 209.8L829.8 211.4L830.3 212.2L831 212.2L831.6 213.9L829.4 214.2L828.6 217.4L830.9 218.5L830.4 216L831.1 217.8L832.1 217.2L832 219.7L833.1 217.7L833.4 223.4L834.4 222.5L833.9 223.7L834.8 223.7L834.2 222.6L835.5 223L834.7 224.9L833.7 225.5L835.5 223.3L833.6 226.3L835.1 228.1L836.7 228.3L836.9 227.9L836.6 228.8L836.2 229.9L834.5 231.5L837.1 229.9L837.2 233.1L837.7 232.1L835.8 232.2L836.6 234.3L838.3 233.7L837.1 233.7L837.2 234.1L838 234.1L839.3 234.9L839.1 235.4L836.9 237.2L837.7 235.6L838.6 236.1L837.9 237.5L838.3 238.9L838.9 239.9L839.4 241.9L839.6 242.8L838.1 242.4L839.1 243.3L839.7 244.6L839.5 243.4L839.8 246.4L838.7 243.9L842.9 244.9L840.1 247.7L841 247.5L840.5 245.6L841.6 247.9L841.9 249.7L842.1 249.1L841.4 254.1L840.4 253.6L842.3 255.1L842 258.6L840.7 255.4L841.2 255.9L841.9 257.2L841.9 256.8L842 256L843 256.6L842.4 258.9L843.6 259.5L844 262.5L844 262.3L843.1 264.3L844.9 263.2L844.1 264.6L844.9 265.2L844.1 266.1L845.8 267.4L845.3 266.1L844.9 266.9L846 267.3L846.2 266.9L846.7 270.4L848.3 266.1L846.8 270.8L847.9 271.7L848.5 270.2L847.6 272.5L847.8 273.3L847.3 273L847.9 274.8L849.2 274.3L848.7 276L846.6 275.6L847.5 274.7L849.6 277.1L850.7 278.6L848.8 279.2L851 278.5L850.1 279.5L851.1 280.8L850.8 281.7L850.6 283.1L850.8 283.7L852.7 281.5L851.8 285.8L851.8 282.9L851.7 285.3L852.7 283.8L852.8 283.7L853.6 282L854.6 283.1L854.5 283.7L855.1 284L853.7 285L855.3 285.1L855 285.8L854.9 288.4L855.2 286.6L855.6 287.8L855.6 289.5L856.6 290.2L857.8 289.9L855.7 290.5L857.1 291.9L858 291.3L857.4 288.4L857.3 290.5L857.7 285.7L857.2 285.4L857.5 284.1L857.8 282.7L856.4 283.1L857.9 285.3L859.4 282.9L858.3 281.7L858.1 283.4L859.2 280.6L858.8 281.9L858.7 279.9L857.7 282.1L858.3 276.6L859.2 278.2L859.5 280.2L858.2 276.1L858.4 275.2L858.6 273.7L859.3 275L860.3 274L860.6 273.4L860.3 271L860.3 270.7L859.5 270.8L861.7 269.3L860 270.7L860.9 269.9L860.4 269.9L860.5 267.6L861.5 267.3L862.2 266L862.9 265.5L863.1 265.6L863.8 262.4L863.9 264L864.3 262L864.1 264.1L864.3 264.3L864.7 264.9L865.5 266.2L865.7 265.7L866.2 268.9L865.1 267L865.7 270L865.7 269.4L866.2 269.8L865.7 271L866.5 272.5L866.1 271.8L866.7 271.6L866.8 273.6L865.4 274.6L866.3 271.9L866.7 273.8L866.6 277.5L866.2 276.6L867.5 276.9L868.3 278.7L868.8 277.5L869.1 280.2L868.2 279.7L869.5 281.1L870.3 279.1L870.3 279.4L870.1 283.4L870.1 282.6L870 283.8L871.5 286.2L871.4 286L869.5 286.1L871.7 286.3L872.2 288.3L871.9 289.9L872.8 290.4L871.9 290.6L873.3 289L871.2 291.4L871.5 292.8L872.4 292.3L872.7 292.7L871.9 293.4L872.3 295L871.8 292L872.6 296.6L871.5 296.4L873.3 295.5L873 296.1L875.1 297.4L873.1 298L873.2 296.9L874.2 299.6L874.5 300.9L873.1 299.5L874.1 298.9L874.3 297.2L874.8 296.3L875.7 294.2L876.1 295.7L875.5 295.5L876.7 295.3L875.3 292.4L876.1 291.6L875.9 290.7L875.4 289L876.9 289.2L876.3 290L876.4 288.5L878 286.6L877.3 285.3L878.7 284.9L877.4 287L877.3 284.5L878.5 285.5L876.7 283.3L876.2 284.7L877 282.5L875.2 280.9L875.8 279.9L875.4 282.5L877 280.8"/>
<path stroke="#ff0000" stroke-width="2.7" d="M79.5 75.1L79.9 75.6L80 75.6L80.8 76.2L81.6 76.3L81.6 77.3L81.7 78.7L82.1 77.9L81.3 79.1L82.5 80L82.2 81.3L83 81.7L83.7 82.9L83.3 83.4L83.5 84.4L83.7 85.2L82.3 83.3L84.6 83.4L85.6 83.2L86.3 82L87.1 81.7L87.7 81.8L88.6 81.8L88.8 81L89.7 81.5L90.6 82.2L90.7 83.1L90 84.5L89.5 85.3L91.2 85.2L90.5 85.8L90.5 87.2L90.9 87.6L90.6 88.3L90.7 89L91.1 89.9L92.3 90L92.5 90.3L92.4 91.7L93.9 91.8L93.2 92.9L93.1 93.6L93.2 94L93.8 94.4L94.2 95.2L94.5 96.5L95.2 96.8L95.7 96.2L95.9 95.9L96.4 95.2L97.3 95.7L97.5 94.9L97.8 94.9L97.7 96.1L98.8 95.4L99 96L98.9 97.2L99.5 97.6L99.3 98.1L99.5 98.5L100.6 98.7L99.8 100L99.6 100.8L100.4 101L99.8 101.3L100.1 101.6L101.3 102.4L101.4 102.9L101 104.3L101.1 104.9L102.1 105.4L102.1 106.3L101.8 107.3L102.6 107.5L101.6 108.6L102.3 109.3L102.6 110.1L102.5 111.3L103.9 110.5L103.7 111.7L104.4 112.4L104.9 112.9L105.9 112.7L106.2 113L106.7 113.9L106.5 114.7L107 115.3L107 115.7L106.8 116.7L107.2 117.4L108.1 117.9L107.9 119.1L107.4 120.6L106.9 120.9L108.5 121.2L108.2 121.4L108.9 122.3L108.4 123L108.4 123.2L110 123.3L109.4 124L108.8 124.9L108.2 125.8L108.8 126.7L108.9 126.9L108.9 127.8L109.9 128.7L109.7 130.1L109.6 130.8L111.1 131.8L109.5 132.9L110.3 133L111.1 134.2L110.8 134.2L110.7 135L110 136.1L111.6 135.7L111.5 136.3L112.1 136.4L111.8 136.9L112.2 138.3L111.9 139.2L112.8 139.5L111.3 140.5L111.3 141.1L112.6 142.1L112.9 142.9L113.7 143.6L112.5 144.4L113.1 144.8L113.9 146.1L113.4 147.5L113.6 147.8L112.6 147.8L114.2 148L114.5 148.9L115 148.8L115.5 149.7L114.8 150.9L114.2 151.6L114.7 152.4L115.6 152.4L115.5 153L116 153L115.1 154.1L116.5 154.4L116.6 155.3L117.7 155.2L116.7 156.8L117.7 157.3L117.5 157.6L117.7 157.6L117.1 158.6L117.7 158.8L117.8 159L117.9 160.7L118.4 161.8L117.6 162.6L117.8 163.3L118.9 162.8L119.5 163L118.7 165L119.4 164.3L119.4 165.2L119.2 166.4L120.3 166.7L120.7 167.5L120.6 168.8L120.7 170L121.6 170.2L122.3 170.7L121.5 172.6L121.9 173L123.3 173.2L122.6 173.4L123.5 173.8L123 174.9L123 175.5L122.2 176.7L123 177.1L123.2 177.6L124 177.3L123.6 178.2L123.6 179.4L124.3 180L123.6 181L123.8 181.6L125.1 181.9L125.9 182.9L125.1 184L125.9 184.7L125.1 185.3L125.1 185.6L126.1 185.5L126.1 186L125.8 187.3L126.6 187.5L127.3 187.7L128.1 188L128.3 187.6L128.7 187.5L129.6 187.7L130 188.3L130.9 189.3L130.9 190L131.2 190.1L131.8 190.9L131.4 191.2L132.6 191.7L131.8 192.5L131.9 193.4L132.4 194.2L133 195.2L132.7 195.4L132.7 195.5L134 196.5L133.6 197.6L132.9 198.4L134.1 197.8L133.9 198.1L133.6 199.4L134.1 198.4L134.7 200.2L134.9 201.3L135.3 201.8L134.8 202.7L136 203.3L135.3 205.2L135.8 205.5L136.4 206L135.9 206.2L136.4 206.2L137.2 206.5L136.9 207.3L137.4 208.3L137.1 209.3L137.4 209.7L137.7 210.2L138 211.4L138.2 212.4L138.4 213.2L138.8 213.1L139.5 214.3L138.8 215.1L138.8 215.3L139.4 215.7L140.7 215.7L140.5 217.2L140.4 217.6L139.9 218.4L141.3 218.7L141.3 220.1L140.7 220L139.6 218.6L142.4 219L141.6 218L142 217.3L143.1 217.4L143.8 218L142.7 215.5L143.5 215.2L143.7 214.6L144.3 214.3L144.2 213.4L144.3 212.7L145.4 212.4L144.7 212.1L145.7 212.3L146.3 212.8L146.6 213.3L146.5 214.4L146.6 214.8L147.7 214.1L147.4 215.6L147.8 216.3L148.3 216.8L149 217.2L150 217.9L149.8 218.4L150.7 218.6L151.5 218.7L152 218.5L152.2 218L152.7 218.4L153 219L153.7 218.6L154.5 218.1L155.2 217.6L156 216.9L156.7 216.5L157.5 216.4L158.3 216.7L159.1 216.6L159.9 216.4L160.7 216.4L161.5 216.5L162.3 216.6L163.1 216.5L163.9 216.5L164.7 216.5L165.5 216.4L166.3 216.7L167.2 216.8L168 216.7L168.8 216.8L169.7 216.7L170.5 216.7L171.3 216.6L172.2 216.6L173 216.5L173.8 216.4L174.7 216.4L175.5 216.5L176.3 216.6L177.1 216.8L177.8 216.7L178.6 216.8L179.4 216.9L180.2 217L181 217.2L181.7 217.4L182.5 217.4L183.3 217.7L184.1 217.7L184.9 217.6L185.6 217.7L186.4 217.8L187.2 217.9L188.1 218.1L188.8 217.7L189.7 217.4L190.5 217L191.3 216.7L192.2 216.3L193 216L193.8 216.1L194.6 216.1L195.4 215.9L196.2 216L197 216L197.8 216.1L198.6 216.3L199.4 216.3L200.1 216.3L200.9 216.3L201.7 216.5L202.5 216.6L203.3 216.7L204.1 216.7L204.9 216.8L205.7 216.8L206.5 216.9L207.3 216.7L208.1 217L208.9 216.9L209.7 216.9L210.5 217L211.3 217L212.1 217.1L212.9 217L213.7 217.2L214.4 217.3L215.2 217.4L216 217.3L216.8 217.2L217.6 217.5L218.4 217.7L219.2 217.6L220 217.8L220.8 217.7L221.6 217.9L222.4 217.9L223.2 218L224 217.8L224.8 217.7L225.6 217.8L226.4 217.7L227.2 217.8L228 217.9L228.8 217.8L229.6 217.7L230.4 217.5L231.2 217.5L232 217.6L232.8 217.7L233.6 217.6L234.4 217.5L235.2 217.6L236 217.7L236.8 217.6L237.6 217.6L238.4 217.5L239.2 217.5L240 217.5L240.8 217.3L241.6 217.3L242.4 217.3L243.2 217.3L244 217.4L244.8 217.3L245.6 217.3L246.4 217.1L247.2 217.1L248 217.1L248.8 217.1L249.6 217.1L249.6 217.8L248.5 218.7L250.9 218.1L251 219.1L251.7 220L250.8 222.5L250.6 222.3L251.8 222.5L252.3 223.5L252.5 224.2L254.6 223.4L253.7 225.3L255.2 226.1L255.1 225.8L256.1 225.8L255.5 225.7L256.1 226.4L255.9 226.2L256.9 224.9L257.7 225.5L256.7 223.2L257.2 223.7L259.3 224.1L258.7 222.4L259.6 222.1L260.4 220.7L260.8 222L260.4 220.1L260.1 219.7L261.7 219.3L261.5 219.4L263.4 220.1L261.9 219.5L263.3 219.5L263 221.2L263 223L262 223.4L264.5 222.9L262.5 226L263.6 226.6L264 226.5L262.7 227L263.6 227.8L262.6 229L264.1 229.2L264.9 230.7L263.4 230.6L263.1 230.3L265.3 230.7L265.4 231.4L265.7 233.9L266.9 233.6L265.6 234.7L267 235L265.6 237.7L265 238L265.7 239.7L266 238.5L267 238.6L265.7 239L267.1 239.4L268.2 239.9L267.9 241.1L267.5 242.3L266.1 243.3L269.4 241.1L268.4 243L268.9 243.4L268.7 244.7L269.4 245.9L270.8 245.8L268.7 248.5L271 247.5L271.7 247.1L272.5 247L272.5 246.4L273.8 246L274.4 247.5L274.4 246.7L275.2 246.1L276.1 245.8L276.6 246.5L277.8 246.5L278.8 247.8L278.7 245.7L277.9 247.2L278.8 246.8L279.2 247.8L280.9 247.1L281.4 246.6L279.7 249.9L279.7 250.7L279 252.4L283.2 251.2L280 252.4L281.8 252L279.9 253.3L281.6 254.4L281.8 255.2L283.5 254.3L282.2 255.5L281.5 257.2L281.2 257.9L284.1 258L283.6 259.8L284.3 259.2L284.8 258.3L286.6 258.8L286 260.4L287.1 259.1L287.9 260L287 261L288.5 261.1L289.3 261.5L290.1 261.7L291.5 261.9L291.1 262.5L291.3 262.9L292.3 263.1L291.9 263.8L291 265.2L293.7 265.2L293.3 265.3L293.7 266.8L293.4 267L293.7 266.7L293.7 268.5L295.2 267.5L296 267.2L295.8 268.5L296.8 268.4L296.1 270L297.2 271L297.8 270.8L297.6 272.9L298 273.7L297.2 275L296.4 276.3L298.6 275.1L299.4 275.2L300 274.5L301.1 274L301.6 274.6L300.5 276.6L302.6 275.4L302.6 277L303.3 276.6L304.1 277.5L304.9 277.2L306 277.3L306.3 277.6L306.4 278.4L307.5 278.7L308.5 277.9L309.5 278.4L309.6 279L309.2 280L310.6 279.9L310.5 281L312.6 280.8L311.4 283.1L311.2 282.8L311.8 283.9L310.5 285.1L313.8 284.3L313.4 285.5L313.7 286.3L315.6 285.3L314.6 286.9L315.2 287.6L317.5 285.8L316.4 288.2L314.9 289.8L316.5 289.2L315.9 289.6L317.3 290.3L317.9 291L318.3 292.3L319.5 292L319 293.8L319.2 293.7L320 295L319.6 296.2L320.8 296.1L319.9 297.4L319.9 297.9L321.5 296.8L321.9 297.9L323 297.8L323.4 298.9L322.5 301.5L323.8 300.8L324.7 302.2L325.6 300.7L325.8 301.7L326.8 302.1L327.5 302.1L328.4 301L329.2 301.4L329.8 299.9L330.8 299.9L331.7 301.1L332.3 300.4L333.3 300.2L333.6 300L332.7 301.2L332.1 301.4L334.1 302.5L335.6 301.6L335.6 302.9L335.2 303.9L335.9 303.9L336.1 305.5L336.5 306L336.9 306.8L337.4 307.2L337.7 307.8L338.5 307.8L339.4 307.5L340.2 307L341 307.5L341.4 307.9L341.7 309.1L342.1 309.8L342.7 310.1L343.4 310.1L344.2 310L345 309.9L345.7 310.3L346.2 310.6L346.3 311.2L346.6 310.3L347.6 310.4L348.3 309.8L348.1 308.9L348 307.8L349 308.1L349.1 309.2L349.9 308.8L350 309.7L350.7 309.9L351.2 310.4L351.3 310.8L351.9 311.3L352.7 311.4L352.9 312.1L353.7 311.5L353.9 311.5L354.7 310.9L355.1 311.1L355.3 309.9L356 309.9L357 309.8L358.1 310.1L358.2 309L358.9 308.4L359 307.5L359 306.6L359.2 306.5L359.7 305.1L359.9 304.4L360.1 304.3L360.3 303.4L360.8 303.1L360.5 302.1L360.4 301.2L360.5 300.4L361.4 300.9L362.4 301.4L363.2 301.8L364.1 301.5L365 301.6L364.8 300.8L365.8 301L366.6 300.9L367.3 300.2L367.3 299.6L367.9 298.9L367.2 298.1L368.1 298.2L368.7 298.2L369.1 297L369.6 296.1L370.3 295.6L371.3 294.9L371 296.9L372 297.1L372 298.6L372.9 298.5L372.8 299.2L373.5 299.3L373.8 300.2L374.5 300.6L375.4 301.1L376.1 301.7L376.2 302L376.7 302.9L376.9 303.8L377.4 304L378.3 304.7L378.4 306L379 306.2L379.8 307.1L379.5 307.8L379.8 308.4L380 309.3L379.9 309.2L380.5 310L381.4 310.4L380.1 311.5L381.2 312.1L382.2 312.4L382.7 313L381.7 314.4L382.1 314.9L382.2 316.1L382.3 317L382.9 317.3L383.7 318.4L383.9 318.4L384.5 318.7L384.3 319.6L384.9 319.9L385.2 320.8L385.7 321L385.4 322L386.2 322.7L386.7 322.8L387.5 322.4L388.5 322.3L389.1 322.3L389.1 323.5L390 323.1L390.9 323L391.7 322.5L392.4 322.7L393.3 322.9L393.2 323.2L394 323.3L394.9 323.7L395.7 323.1L395.4 324.9L396.2 324.7L396.3 324.3L397.2 324.6L398 324.6L398.7 324.2L398.9 323.9L399.6 324.1L400.4 324.4L401 323.7L401.1 322.5L401.7 321.9L402 321.2L402.1 320.1L403.2 320.2L404.5 321.2L403.8 322L404.3 322.9L403.9 323.4L404.2 323.9L404.1 324.6L403.7 325.2L404.1 325.9L405.2 326.2L405.3 326.7L405.8 327.2L406.2 327.4L406.6 328.2L407.6 328.5L408.4 328.1L408.9 328.8L409.3 329L409.9 329.5L410.1 330.4L410.3 331.2L410.7 331.7L411.8 331.9L411.7 332.2L412 332.6L412.1 333.6L412.2 334.5L412.9 335.8L412.8 335.8L413.7 336.3L413.6 336.8L413.8 338L414.5 337.9L415.4 338L415.3 338.6L416 339.7L416.7 340L416.8 340L417.7 340.2L417.9 339.8L418.3 339.4L419.1 339.3L419.8 339L420.7 339.6L421.5 339.1L422.3 339.3L423 339.2L423.9 339.5L424.1 340.5L423.9 340.7L424.8 340.7L425.7 340.4L426.4 340.6L426.4 341.2L426.9 341.6L427.7 341.7L427.8 342.3L428.8 342.7L428.8 343.6L429.3 343.6L430.2 343.4L431 343.6L431.8 343.6L432.4 344L433.3 344.3L434.2 343.9L434.8 344.2L435.1 343.9L435.7 344.1L436.4 344.1L437.2 343.5L437.9 342.8L438.6 343.3L439.5 342.6L440.3 343.2L440.6 343L441 344L441.8 344.1L441.9 345.1L441.9 345.6L442.1 346.1L442.3 347.3L443.1 347.4L443.2 348L444 348.6L444.9 348.5L445.6 349L445.8 349.2L446.3 349.2L446.4 350.5L447.3 350.8L447.4 351.5L447.6 351.3L448.1 351L449 351.2L449 351.5L449.8 351.8L450.5 352.7L450.8 353.7L451.3 353.4L451.5 354.4L452.4 354.8L452.3 355.9L452.6 355.2L453.5 354.7L454.2 354.4L455.1 354.1L455.6 354.3L455.6 354L456.5 353.4L456.3 352.5L457.3 351.8L458.3 351.6L457.9 350.8L458.6 350.3L458.2 349.1L458.9 348.4L459.4 347.6L459.4 346.4L459.4 346.1L459.9 346.1L460.1 345.3L459.8 344.8L460.5 344.1L460 343.7L461 343L461.5 342.9L461 342.1L461.4 341.5L461.2 340.4L461.7 339.7L462.2 339.2L461.6 337.9L461.6 337.3L461.7 336.3L460.4 335.2L461.9 335.3L461.5 334.6L461.5 334.1L462.1 333.3L462.5 332.3L462.3 331.7L461.9 330.6L463 330.3L462.4 329.1L462.9 329.2L463.8 328.3L463 327.3L463 326.4L463.4 326.3L464 325.5L464.7 325.1L465.7 324.9L466.3 324.3L467.3 324.2L467.3 323.4L468 323.1L468.7 322.6L469.2 321.9L469.3 321.6L470.2 320.5L470.6 320.4L471.1 318.6L471.4 319.7L472.4 320.3L473.2 320.3L474 319.9L474.7 319.1L474.4 319.7L475 319.8L475.4 320.2L475.7 320.6L476 322L476.5 322.8L477.5 323.7L477.6 324.1L478.6 324.6L478.4 325.1L479.1 325.2L479.9 325.4L480.5 325.4L480.7 326L480.9 326.7L481.3 326.9L482 327.3L482 327.8L483.1 327.9L483.6 328.8L482.8 329.8L483.2 330.9L482.6 332L483.7 331.6L484.3 332L484.6 332.2L485.1 332.4L485.6 333.3L485.4 333.8L486 335L486.3 335.4L486.6 335.9L487.3 336.1L488.4 335.9L488 336.8L488.9 336.7L490 336.3L489.7 337.5L490.5 336.9L491.6 336.2L491.5 337.6L491.7 337.6L492.4 337.4L492.7 337L493.3 336.8L494.2 337.1L494.8 337.5L494.3 338.3L494.9 338.2L495.3 339.1L496.2 339.8L496.3 340.5L496.6 340.8L497 341.2L497.8 341.8L498.8 341.8L499.3 342.9L499.4 343.3L500.1 342.9L500.9 343.1L501.7 342.6L501.2 341.3L501.1 340.5L502 340.6L501.7 339.3L501.3 338.9L502.6 338.5L502.9 337.8L502.1 336.9L501.7 336L502.3 335L502.7 334.4L503.6 334L503.5 333.2L504.1 332.4L503.7 331.2L504.3 331.3L504.8 330.6L504.7 330.2L504.6 329.6L504.8 328.6L505.7 328.3L505.8 327.8L505.6 326.8L505.9 326.1L506.5 325.6L506.3 325.4L507 325.2L507.7 325.5L508.5 325.8L509.2 326.4L510.3 326L510.5 324.8L510.7 324.5L511.6 324.3L511.5 323.3L512 323L512.2 322.8L513.2 322.1L513.3 321L513.1 319.5L513.7 319.7L513.8 318.6L514.4 318.9L515.3 318.2L515.4 318.3L516 317.5L516.9 316.6L517.7 316.3L518.1 317.1L518.5 317.4L519.4 317.5L519.4 318.8L520.2 319.1L519.9 320.4L520.6 320.3L520.2 320.8L521.1 321.4L520.7 322.4L520.8 322.9L521.9 323.4L520.4 324.6L521.5 325.4L521.7 326.5L521.1 327.3L521.7 327.9L521.6 328.1L522.3 328.4L522.9 329.2L523.6 328.3L524.1 328.4L525.1 329L525.7 330.1L526.5 330L527.2 330.1L527.5 330.1L528 330.5L528.8 329.9L529.6 329.8L530.8 330L530.5 329.5L531.2 328.3L531.9 329L532.7 329L533.5 328.6L534.3 328.7L535 328.1L535.8 328.6L536.6 328.2L537.2 327.7L537.2 326.8L538.3 326.8L539 326.7L539.8 326.4L540.8 326.1L541.5 326.7L542 326.3L542.5 326.1L543.1 325.2L543.3 324.5L543.1 323.4L543.9 323L543.8 322.6L543.2 321.6L542.6 321.3L543.1 321.1L544 320.4L543.4 319.9L544.2 319L543.8 318.7L542.9 317.9L543.2 317.2L543.8 316.2L543.7 315.9L543.8 315.2L543.5 314.3L544 313.3L543.3 312.3L543.3 311.6L543.5 310.9L544.6 309.8L543.7 309.4L543.5 308.8L542.9 308.1L543.9 307.1L543.8 306.8L543.6 306.1L542.8 305.7L544.6 305.4L544.5 303.5L543.3 302.7L543.6 301.9L542.6 301.2L542.7 300.5L543.9 300.6L543.9 300.1L542.7 298.8L543.8 298.3L543.7 297.3L543.4 296.8L544.5 296.1L542.6 296.1L543.9 295L543.8 294.5L544.7 293.6L544.7 294.6L546 294.3L545.4 292.4L546 293.6L547.2 292.7L547.9 292.7L545.6 293.3L547.4 293.5L548.2 293.7L547.9 295.5L547.4 296.1L548.1 297.1L548.8 296.2L549.2 297.3L549 298.1L550 298.9L550.8 299.6L551.3 298.8L550.7 300.9L551.5 301.1L551.5 301.5L552.5 301.3L552.7 302.3L553.8 302.1L554.3 303L555.1 303.8L555.9 302.9L556.5 303.7L556.5 304.1L558.1 303.9L557.1 303L557.6 301.8L556.8 301.7L558.1 300.2L558.6 300.1L558.4 298.8L558.2 297.6L558.2 297.6L559.1 296.3L559.3 296.4L559.5 295.5L558.6 294.5L558.7 293.3L558.3 292.6L559.7 291.8L560.4 291.4L560.8 291.8L560 291.8L560.6 291.8L561.1 289.8L559.9 287.7L560.4 286.9L560.9 284.9L559.3 284.1L560.3 284.5L560.7 283.5L561.6 282.1L561.5 282.7L562.3 281.5L563.2 281.5L562.4 281.2L563.2 279.9L562.2 279L562.3 278.6L563 277.9L563.2 278.1L562.9 276.1L561 275L562.5 274.5L562.9 274L564.1 273.5L563 272.6L563.7 271.5L563.2 270.8L562.7 269.2L562.4 268.1L562.7 267.7L564 267.3L563.5 267.7L563.9 265.7L564.1 264.6L564.1 264.1L564.8 263L564.8 264L563.7 263.3L565.4 263.2L566.6 262.3L565.1 261.6L565.8 261.2L566.1 260.4L566.3 259.5L566.3 258.6L565.9 257L566.6 257.3L567.4 257.4L566.9 259L568 258.5L568.3 259.5L568.4 260.6L567.2 261.7L569.1 261.3L568.5 263L569.8 263.7L570.3 264.9L571.3 265.3L571.2 266.7L571.2 266.4L572.3 266.2L571.8 266.5L572.1 267.5L572.4 268.1L572.7 269.4L572.1 270L573.3 270.9L573.9 271.2L574.5 271.5L574.1 272.8L574.6 273.2L573.2 274L574.1 275.9L574.9 275.8L575.5 276.6L577.3 276L575.2 278L576.4 278.5L576.6 278.3L577.4 279.3L577.5 279.7L577.9 281.5L578.1 280.6L578.4 280.6L577.9 282.4L578.9 282.3L579.8 282.1L580.4 281.7L580.8 280.8L581.3 280.5L582 280.4L582.9 280.1L583.8 279.3L582.3 278.4L584 279L582.8 277.6L584.4 277.6L584.6 277.4L583.7 276.6L583.3 276.2L583.8 275.7L585.9 275.8L584.8 274.1L585.2 273.5L586.2 272.3L586.2 270.9L586 270.9L586.2 270.9L587.4 270.3L586.7 268.5L586.3 268.1L585.4 267.7L587.5 267.3L587.9 266.3L588.5 265.4L589.5 265L587.8 264.2L589 263.8L590.1 263.4L589.1 261.9L590 261.9L589.5 261.2L589.9 260.5L590.9 260.4L591.2 258.7L590.7 257.8L590.8 257L591.2 257L592.1 256.5L591.4 255.9L590.4 255.4L591.2 255.3L592.1 254.3L593.4 254.8L593 253L591.8 251.6L592.3 250.6L592.5 250.5L591.4 251.1L593.1 250.1L591.8 248.7L593.7 248L592.3 246.7L595.2 246.6L595.5 246.3L594.9 244.7L595.4 244.2L593.2 242.9L594.4 242.5L595.3 241.3L594.4 242L595.4 241.4L595.7 242.6L595.8 243.5L595.2 243.5L596 245L596.5 246L596.6 245.2L596.6 246.6L597.3 248.2L599.1 249.1L598 250.9L599 251.2L599.1 251.7L598.3 252.9L599.6 254.3L599.5 253.9L600 252.4L599.4 251.2L599.3 249.9L600.8 250.5L599.5 248L601.3 248.7L602 249.2L602.4 247.8L603.5 246.2L603.1 245.8L604 245L604.6 244.6L604.2 243.6L604.7 244.8L605.4 245.4L606.3 246.1L607.1 244.9L608 245.1L608.3 243.8L608.7 242.7L609.3 241.5L608.4 241.3L610.7 240.7L608.3 239.9L609.2 240.2L609.1 239.5L610.3 238.9L611.2 239.9L611.1 239.2L610.4 235.6L610.1 235.1L609.1 232.8L611 232.5L611.8 232.4L610.8 232.5L610.3 230.9L610.9 231.4L610 231L611.7 230.6L610.8 229.8L612.7 229.5L612.5 228.9L612.3 227.9L612.6 227.9L612.7 226.2L611.7 225.1L613 224.1L613.1 223L614.4 223.9L613.3 223.3L612.9 222.1L613.2 221.7L613.3 221.1L612.9 220.1L614.2 219.9L613.5 219.3L614.8 218.7L614.6 218.1L615.3 217.7L615.5 217.2L614.9 216.1L614.6 214.6L615.3 214.8L616 214.4L615.7 213.7L615.1 212.8L615.7 212.6L615.4 213L616.7 211.9L616.7 210.3L617 209.6L617.5 209L616.8 208.3L616.8 208.2L617 207.2L617.1 206.1L617.7 205.6L617.9 204.6L616.8 204.2L618.8 203.7L618 202.3L618.5 201L618.6 201.4L618.2 200.4L618.5 199.7L618.4 199.2L619.2 199.1L620.4 198.7L620 197.6L620.1 197.2L619.5 196.2L621.3 195.7L622.8 195.3L621.9 195.2L621.2 194.2L620.6 194.5L621 194.8L621.9 195.1L622.2 196.3L621.3 198.1L621.2 199.3L622.5 199.8L622.4 200.8L623.8 200.5L623.2 201.2L624.3 201.7L623.8 202.4L623.5 203L623.2 204L624.2 204.7L623.8 206.7L623.3 207.2L623.8 206.8L622.8 206.6L625.1 207.1L625.2 208.6L623.9 209.3L625.6 210L624.8 211L625.7 211.1L626.4 211L626.2 211.5L627.4 211.9L627.7 210.8L628.3 211.9L628.1 209.3L629 208.5L629.7 208.1L628.7 206.8L629 207.3L629.9 206.6L630.2 206.3L630.7 205.6L631.8 205.3L631.6 204.7L632.8 204.2L633.1 204.9L633.7 205.2L633.3 205.3L634 206.8L635.3 206.7L636.7 206.4L636 208.8L637 208.2L638.2 207.7L637.8 205.9L638.4 205.3L639.3 205.2L639.3 204.2L640.5 204.8L640.3 203.4L641.1 203.2L641.5 201.6L642 202.4L642.1 203.8L641.9 203.8L642.1 204.3L643.4 204.6L643.2 206.3L641.8 207.9L643.3 207.9L643.1 209.3L644.3 210.1L644.2 210.2L645.3 211L645.5 211.4L645.8 211.5L646.1 212.9L646.6 213.7L646.1 214.4L644.8 215.9L646 215.5L646.5 215.2L646.1 217.1L646.7 216.5L647.7 217L647.6 218L648.6 218.2L648.9 219.2L648.2 220.6L649.1 221.4L648.6 221.1L649.7 221.1L649 223L650.4 222.8L650.8 223.8L649.9 225.1L651.2 224.8L652.2 225.4L653.9 224.8L651.4 227L651.9 226.8L652.2 228.3L653.1 228.5L653.9 229.9L654.2 230.7L654 231.3L654.1 230.5L654.3 230.8L652.6 233.2L653.2 233L654.5 233.9L655.1 235L655.4 235.5L654.4 236.1L655.4 235.7L655.4 237.8L655.9 238L655.6 239L655.6 238.7L656.4 240.3L657.1 240.5L657.1 242L657 243.3L657.5 244L656.2 245.5L658.9 245.5L657.9 245.5L657.8 246.9L659.2 247.7L658.2 250.2L655.9 250.1L658.5 250.4L659.8 250.9L658.7 251.2L658.4 253.5L659.1 253.4L660.3 253L658.8 253.7L659.2 253.9L660 253.9L659.2 255.2L660.6 256.2L658.9 256.9L659.7 258.4L660.7 258.9L658.9 258.7L660.3 259.6L660.2 259.4L660.3 259.7L660 260.3L659.6 260.8L660.1 262L659.5 262.3L660.5 262.9L659.1 264.3L660.6 265.1L660.1 265.8L659.7 266.3L658.5 267.7L659.4 268.1L661.7 269.2L659.1 270.4L659.1 271L659.5 271.7L660.7 271.4L661 272.6L660.1 273.6L660.5 274.5L660.3 275.3L661.1 275.9L661 275.9L660.7 275.9L661.2 275.8L660.7 277.8L662.6 277.5L660.9 275.3L660.9 275.3L661.2 274.4L661.9 273.7L661.7 273L661.1 273.6L662.7 273.4L660.9 272.7L661.9 272.2L662.7 270.6L662.2 270L662.3 269.5L661.8 269.3L661.7 268.6L662.9 268.8L661.2 266.6L660.9 265.9L662.6 265.6L662.5 264.6L660.6 263.3L662.8 262.6L663.6 262.1L663.8 262.2L660.4 260.6L663.7 261.1L662.9 260.2L663.7 260.2L663.5 258.4L662.8 257.1L663.1 257.1L663.9 256.7L663.8 257.2L664.1 255.4L664.6 254.9L664.1 253.6L662.3 251.5L664.3 250.6L664.5 250.3L663.2 248.9L664.8 248L665.4 249L665.8 248.4L666.1 247.7L665.7 247.9L666.6 249.2L666.9 248.3L667.1 250.2L667.4 250.4L667.8 251.7L668 252.4L668.6 252.8L669.3 252.7L670.1 252L671.2 252.9L671.9 252.3L672 252L672.7 251.9L672.5 251.6L672.8 250.6L673 251.7L673.7 252.2L674 252.3L674.7 252.2L674 254.4L674.9 253.8L674.7 255.5L676.2 255.3L674.8 256.6L674.4 256.9L676.2 257.1L677 257.2L676.3 259.6L676.4 260.4L677.2 260.6L677 261.1L678.2 262.4L676.2 263.1L677.7 263.5L677.6 263.6L678.3 264.9L678.9 265.4L677.9 265.3L676.8 267.8L677.2 268.2L677.6 268.6L680.3 269.4L678.4 270.4L677.8 271L678.3 270.8L679.4 271.2L679.1 272.5L678.1 273.6L678.5 273.8L680.6 273.8L679.9 275L679.9 275.3L680 276.8L680.1 277.3L679.5 277.3L681.6 277.7L680.4 277.5L681.8 279.2L681.5 280.4L681.1 281L680.7 280.7L680.6 281.1L681.5 281.3L681.4 283.1L680.1 284.7L681.3 285L681.5 285.1L679.2 286.5L680.3 287.1L681.5 287.7L681.5 287.5L681.6 288.7L683 290L682.4 291.4L682.2 291.6L682.4 292L681.9 292.4L681.3 292.7L682.8 293.9L683.7 294.9L682.5 295.8L682.7 296.1L682.1 297.4L683.1 298L682.1 298.4L682.1 298.9L681.1 299.9L682.9 300.5L684.1 300.4L684.2 301.8L682.6 302.7L685 301.9L683.9 304.3L682.4 305.6L684.8 305.7L685.1 306.2L682.5 307.9L684.3 307.8L683.9 307.9L683.1 308.2L684 309.3L684.4 308.8L684.6 310.4L685.3 310L684.7 311.1L685.5 312.1L684.3 314.1L685.4 314.4L684.5 315.1L685.5 314.2L684.2 314.4L682.9 312.3L685.4 311.2L686 311.3L686.7 310.8L684.8 309.9L688.1 309.7L685.9 307.6L687 307.5L686 307.3L686.5 306.4L687.9 304.6L686.7 304.3L686.5 303.9L686.8 303.9L687.1 305.2L688.2 304.4L688 307L688.5 306L689.5 305.7L690.4 306.2L691.1 307L691.1 306.8L691 308.3L692 309L691.2 308.9L691.6 310L691.5 312.3L691.8 312L692.8 313.2L691.5 314.5L692.8 314.2L692.9 314.9L692.6 316L693.5 315.1L693.4 315.4L693.7 314.8L694.9 315L694.2 314.2L694.4 313.2L695.2 313.1L695.3 312.6L695.1 311.9L694.8 310.5L696.1 309.5L696 309.6L694.2 308.5L694.8 308.6L695.8 307.9L696.9 307.5L696.1 305.8L697.2 305.4L696.8 304.4L697.3 303.9L697.3 303.7L697.6 303.5L697.8 302L697.4 301.8L697.4 300.6L697.5 298.8L698.6 299.5L698.1 298L699.5 299L700.1 299.3L700.2 298.4L700.1 296.8L700.9 296.9L700.9 296.6L702.3 297.4L702.3 295.5L702.5 295.6L702.9 294.3L703.2 293.3L703 292.8L703.6 292.1L703.8 291.1L704.8 291.2L704.6 290.2L704.2 289.1L704.7 288.8L703.7 287.3L705.3 286.5L704.9 285.5L705 285L705.4 283.9L705.4 282.4L706.6 283.3L706.3 282.6L705.3 281.7L706.8 281.1L705.6 281.1L706.2 281L706.5 279.9L705.7 279.3L705.7 278.8L705.6 278.4L705.1 277.3L706.1 276.5L703.7 275.7L706.7 274.8L706.3 273.5L707.1 273.2L707.4 272.4L706 271.8L707.7 271.4L708.1 271.3L706.5 270.3L706.8 269.7L707.1 269.4L706.2 268.9L708.7 268.5L704.8 268.4L707.2 268.1L707.5 266.3L707 264.8L706.8 263.7L708.1 261.9L707 262L706.9 260.9L706.4 260.1L708.1 259.4L708 258.5L705.9 257.6L707.9 256.6L706.2 256.6L707.1 255.9L708.2 256.1L707.4 256.4L708.7 255.5L707.7 254.6L707.8 254.3L708.3 253.9L707.8 252.1L708.2 252.7L708.6 251.5L708.9 250.4L708.1 249.5L709.1 250.2L708.7 250.1L707.8 247.2L707.7 246.1L708.1 245.3L708 245L708.4 243.7L708.6 243.4L708.8 243.3L708.5 242.3L709.7 241.5L708.6 241.4L709.2 240.5L709.4 239.8L707.3 238L708.7 237.5L708.2 235.3L708.7 234.7L708.1 233.9L708.6 233.2L708.3 232.7L709.2 232.1L708.9 230.3L708.8 230.4L709.5 230.7L709.3 229.9L710.1 229.7L709.9 229.4L709.1 229.2L709.4 228.4L710.6 227.7L709.3 226.1L710.3 226.1L710.4 224.9L709.8 223.6L710.4 223.9L711.5 223.7L710.7 222.8L709.5 222.2L711.4 220.7L711.9 219.2L711 218.6L711.3 218.7L712.5 218.6L710.6 217.5L713.6 217.3L711.6 215.5L711.9 215.5L712.7 216.4L712.7 215.7L711.9 215.8L712.6 215.1L714.3 214.5L714.1 212.5L713.6 211.6L713.2 210.2L713.3 209.6L713.9 209.1L712.7 208L711.9 207.3L712.5 206.5L713.3 204.8L712.1 204.5L713.7 203.5L713.4 202.4L713.8 201L713.3 200.1L712.9 199.5L714.2 200.1L716.1 199.1L714.6 198.7L714.9 199.3L713.8 199.7L714.7 199.7L714.1 201.4L714.6 201.9L714.9 202.5L715.1 204L714.3 205L716.1 205.4L714.1 205.6L715.1 207.7L716.7 207.6L714.8 208.7L715.9 209.8L715.4 209.9L715.6 210.9L715.5 210.7L716.7 211.3L715.4 212.9L716.9 212.6L715.7 214.2L716.2 214.7L715.8 214.9L716 215.2L715.8 214.6L715.4 216.1L716.1 216.6L716.1 218.2L716.7 217.8L716.6 218.6L716.2 220.1L715.7 218.1L716.8 218.2L716.8 217.3L717.5 216.5L718.2 216.4L718.3 215.5L718.6 215.1L718 214.3L718.4 213.7L717.8 212.6L719.1 212.7L718.8 211.6L720.2 211.3L720.3 211.5L719.9 210.6L719.6 209.6L720.8 209.1L721.4 209L720.8 207.2L720.6 204.9L720.1 204.6L721.3 205.6L721.9 204.9L722 203.8L722.5 203.7L724 203.3L724.3 202.9L723.7 202L722.7 201.2L724.3 202.1L724.8 200.8L726.2 201.1L724 199.5L724.8 198.7L725.7 198.8L725.2 197.5L725.9 196.6L725.9 196.3L726.4 195.2L727.1 194.5L728.6 195.5L728.3 193.8L727.6 192.6L728.4 193.2L727.5 194.6L729.1 194.8L730 194.3L730 195.4L730.2 196.6L730.4 197.6L731.5 197L731.4 197.5L730.7 198.6L730.7 199.2L731.5 199.3L730.2 200.9L731.4 201.2L732.5 200.6L732.3 202.1L730.5 203L731.5 203.5L731.7 203.5L731.7 205L732.2 206.2L732.1 206.8L732.5 206.9L733.5 208L734.1 208.1L733.4 209.2L734.2 209.8L733.9 210.2L734.7 210.5L734.6 211.4L735.2 211.1L735.8 211.3L736.1 212.5L736.7 212.6L735.4 213.7L738.2 213.6L737.7 215.1L737.3 216.3L737.3 216.5L738.2 215.9L738.5 217.2L738.4 218.1L736.8 218.7L738 219.8L738 220.5L738.8 221.1L738.9 221.9L738.7 223L739.4 222.9L739.1 225L736.9 225.6L739 226.2L739.4 226.6L740.3 226.9L740.3 227.7L739.5 228.9L740 228.5L740.1 229.2L741.1 230.1L743.1 230.5L742.2 230.8L741.9 231.4L740.5 232.3L742.6 232L742.7 233L743.2 233.4L742.7 233.6L742.7 234.1L743.8 235L743.4 235.8L744.2 236L743.2 236.3L744.2 237.8L744.6 238.1L744.8 238.8L745.4 240L744.4 239.2L746.5 240L745.4 238.4L746.4 238.1L746.5 237.8L746.6 235.3L747.5 236.1L747.5 236L747.9 236.7L749.1 237.1L750 238.1L749.8 238.8L750.7 238.9L750.9 240.1L751.9 240L750.8 242.7L751.9 241.3L752.7 241.6L754.1 242.2L752.5 240.9L754.6 239.5L753.9 239.7L753.6 238.8L753.8 238.7L752.8 237.5L753.6 235.9L753.9 234.3L753.8 234L753.7 233.9L754.2 233.2L754.2 232.4L754.4 231.7L753.9 231.6L754.6 230.4L754.8 231.6L754.5 230L754.8 228.7L753.7 228.1L754.5 228.5L755.5 227.6L753.9 224.8L754.9 224.4L754.9 223L754.5 223.3L757.4 223.8L755 222.7L755.9 222.8L755.9 221.2L755.1 220.9L756.8 221.2L757.2 220.3L756.2 218.1L756.6 217.6L757.6 217L755 214.7L757.2 215.3L755.6 215.2L756.8 214.3L756.2 213.2L757.2 212.7L757.4 212.8L756 211.6L756.8 210.9L757.3 209.6L757.3 208.5L757.2 207.5L757.7 207.1L758.1 205.9L756.4 205L757.1 205.3L757.5 204.5L756.9 203L756.8 203.4L757.7 203L755.8 201.4L758 201.1L757.6 200L758.6 199.4L759.5 199.2L760 199.7L760.3 200.3L760.4 201.2L761.8 201.7L761.4 202.7L761.5 204.4L761.3 203.9L760.4 204.1L762.7 204.2L761.3 206.4L762.8 206.7L762.7 208.3L762.2 209L762.9 209.1L762.1 210.1L763.6 210.4L762.7 211.6L760.9 212.5L764 212.5L764.8 212.4L765.5 211L766.3 210.4L766.9 209.2L767.1 209.3L768.1 209L766.2 208.5L768.3 206.6L768.2 206.5L767.3 205.6L767 204.2L768 203.2L769.8 203.5L770.2 203.6L768.5 203.2L768 202.8L768.1 203.3L769.1 202.2L768.6 201.1L769.4 200.5L770.6 199.6L771.2 198.8L769.3 197.8L768.7 196.5L767.2 194.8L769.7 195L769 194.4L770.1 194.9L769.6 194L770.6 193.2L770.6 193L770.1 191.4L769.8 191.5L769.8 189.8L769.5 188.2L771.3 189.2L770.5 187.7L771.1 187.3L769.7 186L770.8 186.5L772.4 186.1L770.9 186.4L770.3 184.9L770.9 184.4L771.6 183.6L770.5 182.5L770.1 182.3L771.3 180.4L771.8 179.9L770.9 179.3L772.1 178.7L770.8 177.5L770.1 177.8L770.4 175.9L770.9 175.3L771.7 174.7L771.5 174.7L770.6 173.3L770 172.7L771.8 172.4L771 172.6L770.9 171.6L771.5 170.2L771.9 169.2L773.3 169L773.2 169.2L771.4 167.6L773.5 167.5L773.6 166.8L772.2 165.9L773.3 165.9L772.5 164.7L773.3 163.9L772.7 162.8L773.3 162.3L771.4 160.4L773.3 160.5L773.7 160.3L774 160.2L771.7 158.6L773.3 157.8L774.5 157.1L774.9 155L772.5 154.6L774 154.6L775.1 154.2L774.2 155.4L775.2 156.2L774.2 157.2L774.9 158.6L775.2 159.2L774.3 160.9L774 161.2L775.1 161.4L774.3 163.8L776.6 161.9L774.5 162.9L775.6 162.9L775.2 164.1L777.2 164.7L776 166L776.1 167.3L775.4 168L775.8 169.2L775.7 170.3L775.5 170.2L776.7 172.1L776.9 172.4L776.5 172.5L776.5 172.9L775.4 171.5L776.7 171.6L776.9 169.8L777.4 168.7L777.8 168.6L777.3 167.8L777.6 166.7L778.1 165.1L777.7 165.5L778.1 164.9L779 163.8L778.6 164.4L779.3 162.9L778.9 163.1L779.2 162.5L778.3 163.7L779.3 165L779.9 166L779.4 166.4L779.9 166.6L781.2 166.3L779.1 166.3L780.2 167.6L781.4 167.4L780.5 169L780.5 169.9L782.4 169.9L780.4 170.2L780.4 171L781.8 172L782.2 171.7L781.7 172.8L782.7 174.1L783.9 174L783.1 175.9L783.6 176.3L784.6 176.2L783.1 178.1L784.5 178.6L784.7 179L784.5 180.3L784.6 181.3L785.2 181.3L784.5 181.9L785.5 182.3L786.4 181.5L786 181.7L785.9 180.6L786.9 180L787.2 180.4L787.2 179.2L788.4 179.2L788.6 178.2L787.7 177.7L787.5 178.4L788.6 178.5L789 179.2L786.4 181.1L788.6 182L789.4 183.3L789.4 183.3L788.1 183.2L789.2 185.1L787.9 186.4L789.5 186.6L790.3 186L791.8 186.6L789.2 187.6L790.1 189.1L789.4 189.4L791.6 188.2L793 188.6L791.7 189.9L792.6 190.3L791.7 190.9L791.7 192.2L792.3 192.6L792 193.9L792.8 194.6L792.1 195.8L792.7 196.1L793 196.7L792.9 197.3L794.1 198.1L794.1 199L794.6 199.7L794.6 200L793.5 201.7L793.8 201.9L794.6 203.2L792.5 204.6L794.4 203.9L795.2 204.1L792.9 205.4L795.4 205.4L795.5 206.4L796.3 205.4L794.8 207.5L794.3 208.6L795.2 209.1L796.3 208.2L794.4 207.8L796.1 207L797.3 207.7L795.6 205.4L798 204.8L795.8 203.7L795.9 202.5L795.6 201.5L795.9 201.6L796.2 200.2L796.5 199.7L797.6 199.8L796.3 200.2L795.5 199.4L796.6 199.4L796.3 197.5L797.1 196.3L796.4 195.6L796.8 194L797.5 192.4L797.9 192.3L797.9 192.3L799 191.6L797.4 190.8L797.8 191.2L798 189.4L796.3 187.9L797.4 187.7L797.9 187.8L799.4 186.8L798.3 185.4L798.9 185.3L799.7 184.5L799.6 184.7L800.5 183.4L800.4 182.7L800.2 182.6L799.2 183L801.5 183.5L799.7 183.8L802.4 185.2L800 186.3L800.7 187.3L801.3 187.5L802.1 187.9L801.1 188.6L799.2 190.4L801.1 189.9L802.9 190.6L802.5 191.5L802 192.2L802.7 192.8L802.1 193.6L802.3 195.4L803.3 195.8L803.8 195.5L804.5 195.3L803.5 194.7L803.5 193.3L803.3 192.2L803.8 191.2L803.9 190L803.2 188.4L803.1 188.3L802.5 187.7L803.9 187.3L803.9 186.6L804.1 186.2L804 185.4L803.9 184.4L804.5 184.4L803.5 183L804.2 183.3L801.6 182.3L804.4 182.3L804.4 180L804 180.4L804.5 179.9L804.2 177.8L804.8 176.8L803.5 176.7L805 175.1L805.3 174.9L804.4 174.3L804.1 173.1L804.9 172.9L804.4 172.9L804.7 172.2L804.8 170.9L804.6 169.9L805.5 170.5L806.1 171.1L806.2 172.8L806.8 172.5L806.5 174.3L807.6 174.5L807.3 173.7L807.8 174.5L808.5 175.2L808.5 173.4L809.3 173.7L809.9 172.9L809.4 172.2L810 172.2L810.2 171.5L812.1 171.5L811.4 170.8L811.6 170.3L811 168.8L811.2 168.1L812.5 167.5L811.6 166.1L811.3 165.6L812.6 165.3L813 165.1L813.4 164.2L812.9 163.6L812.9 162.8L813.5 163.5L814.3 162.2L815.4 161.5L814.6 160.4L814.9 160L814.6 158.8L814.8 157.5L816.1 157.4L815.4 158.1L817 158.3L815.5 160L816.5 161.8L817.1 161L816 160.7L816.2 161.8L815.6 162.8L816.8 163.9L815.4 165.7L816.2 166.7L816.9 166.8L816.4 167.2L817.3 167.2L817.4 169.3L817.1 170.3L818.6 170.5L818.4 170.6L817.4 171.4L817.5 171.7L817.1 173.2L818.6 172.5L818.9 172.9L819.5 173.7L819.4 175.2L820.7 175L820.9 175.1L821.5 177.2L821 177.8L822.5 178.1L820.1 180.3L822.2 180.2L822.6 181.2L822.3 181.1L822.9 181.3L823.9 181.8L822.9 182.9L822.8 183.7L825.4 184.5L823.8 184.6L824.8 184.2L823.8 185.3L824.1 185.8L824 186.4L824.7 187.1L823.8 186.9L823.8 187.6L825 188L825.1 190.1L825.1 191L825.9 191.4L825.5 192L824.6 193.4L825.7 193.8L825.6 194L827 193.7L826.3 195.2L826.4 196.5L827.2 196.3L826.9 197.7L827.5 198.7L826.8 200.1L827.7 200.1L828.2 200.9L827.4 201.3L829.1 201.9L828.8 202.8L829.1 204.9L830.1 204L829.3 204.4L829.2 205.2L828 206.2L828.4 205.7L828.9 206.8L830.2 207.4L829.5 208.1L829.5 207.6L829.6 208.2L830 209.7L829.8 210.5L830.3 211.9L831 212L831.6 213L829.4 214.2L828.6 216L830.9 215.5L830.4 217.3L831.1 217.2L832.1 217.1L832 218.4L833.1 219.2L833.4 220.5L834.4 220.9L833.9 220.8L834.8 221.7L834.2 223L835.5 222.4L834.7 222.4L833.7 223.6L835.5 223.3L833.6 225.3L835.1 225.9L836.7 226L836.9 227.5L836.6 227.5L836.2 228.5L834.5 231L837.1 229.3L837.2 231.2L837.7 231.2L835.8 231.5L836.6 232.2L838.3 231.5L837.1 232.2L837.2 233.6L838 234.1L839.3 235.1L839.1 235.1L836.9 236L837.7 236.1L838.6 236.1L837.9 237.7L838.3 237.7L838.9 239.4L839.4 239.3L839.6 240.4L838.1 241.5L839.1 242.5L839.7 242.5L839.5 243.3L839.8 244.4L838.7 244.3L842.9 244L840.1 246.3L841 246.2L840.5 246.3L841.6 247.6L841.9 248.3L842.1 249.6L841.4 251L840.4 253.3L842.3 253.7L842 254.4L840.7 254.6L841.2 254.4L841.9 255.3L841.9 255.8L842 255.9L843 257L842.4 257.4L843.6 258.3L844 259.7L844 260.7L843.1 262.3L844.9 262.8L844.1 263.5L844.9 263.3L844.1 265.1L845.8 265.1L845.3 265L844.9 265.7L846 265.2L846.2 266.5L846.7 265.9L848.3 265.7L846.8 267.5L847.9 268.2L848.5 268.6L847.6 270.2L847.8 270.4L847.3 270.9L847.9 272.3L849.2 272.7L848.7 273.5L846.6 274.5L847.5 274.2L849.6 275.3L850.7 275.8L848.8 277L851 276.1L850.1 277.9L851.1 278.7L850.8 280.6L850.6 281.2L850.8 281.6L852.7 280.3L851.8 282.2L851.8 282.9L851.7 282.6L852.7 282.1L852.8 280.6L853.6 280.6L854.6 280.2L854.5 282.6L855.1 282.8L853.7 283.2L855.3 283L855 284.8L854.9 285.1L855.2 285.7L855.6 286L855.6 287.4L856.6 288.3L857.8 286.9L855.7 289.5L857.1 288.8L858 288.3L857.4 286.5L857.3 286.4L857.7 285.6L857.2 284.1L857.5 283.8L857.8 284.2L856.4 283.6L857.9 283.2L859.4 282.6L858.3 282.6L858.1 281.6L859.2 280.6L858.8 280.8L858.7 278.9L857.7 278.8L858.3 277.6L859.2 276.5L859.5 275.2L858.2 274.4L858.4 273.2L858.6 272.2L859.3 272.7L860.3 272.4L860.6 271.6L860.3 271L860.3 269.5L859.5 269L861.7 268.5L860 268.9L860.9 267.7L860.4 267.3L860.5 266.3L861.5 265.8L862.2 265.7L862.9 265.3L863.1 264.4L863.8 263.5L863.9 262.4L864.3 263L864.1 264L864.3 265L864.7 265.8L865.5 265.6L865.7 267.4L866.2 267L865.1 268.7L865.7 269.1L865.7 269.6L866.2 269.9L865.7 270.5L866.5 270.8L866.1 271.4L866.7 271.9L866.8 273.2L865.4 273.4L866.3 272.7L866.7 273.1L866.6 275.7L866.2 277L867.5 276.5L868.3 276.9L868.8 277.2L869.1 279.2L868.2 279.2L869.5 279.7L870.3 279L870.3 279.9L870.1 281L870.1 282.2L870 283.6L871.5 283.7L871.4 285L869.5 285.2L871.7 285.9L872.2 286.8L871.9 287.8L872.8 287.3L871.9 288.1L873.3 288.5L871.2 290.2L871.5 290.5L872.4 291.4L872.7 291.8L871.9 292L872.3 292L871.8 291.6L872.6 293.9L871.5 294L873.3 294.3L873 295.5L875.1 296.8L873.1 296.5L873.2 295.7L874.2 298.1L874.5 297.2L873.1 296.5L874.1 296.2L874.3 295.9L874.8 293.9L875.7 294.3L876.1 295.1L875.5 293.6L876.7 292.7L875.3 291L876.1 290.9L875.9 290.2L875.4 289.2L876.9 288.5L876.3 287.9L876.4 287.4L878 286.7L877.3 285.6L878.7 286L877.4 285.5L877.3 284.5L878.5 284.2L876.7 284.1L876.2 283.5L877 281.6L875.2 280.2L875.8 279.8L875.4 278.8L877 279"/>
<path stroke="#000" stroke-width="2.8" d="M79.7 237.1L79.9 237.4L80.9 237.9L81.2 237.6L80.5 238.7L80.5 239.3L80.7 239.8L81.8 240.9L80.9 243.3L80.9 243.5L80.3 244.2L81 244.3L81.1 245.6L81 246.2L82.2 246.7L81.8 247.6L81.8 248L82 249.1L81.8 249L82.5 249.4L82 250.4L82.1 251.4L82.9 250.8L82.5 251.6L83 252.1L83.6 253.2L82.7 253.4L84.4 253.9L83.6 255.1L84 255.7L83.9 257L84.8 256.6L85 258.1L86.3 258.4L86.2 259.3L85.5 260.4L86.8 260.2L86.6 259L86.4 258.5L84.9 257.3L86.8 256.9L87.2 255.7L85.5 254.9L86.2 254.1L87 254.5L87.3 253.7L87.7 251.9L87.9 251.5L88.1 249.9L87.1 249.3L88.9 249.7L87.7 248.9L87.1 248.3L87.5 248.3L87.1 247.3L87.9 246.6L88.6 246L88.8 246.2L89.3 244.6L89.1 243L88.8 243.8L88.8 242.9L88.8 243.6L89 243.8L88.5 245.3L89.3 245.9L89.3 246.7L89.2 247.9L89.7 247.6L90.1 248.9L89.3 249.5L90.2 250.1L89 251.6L90.2 251.3L91.2 251.4L90.4 252.3L89.8 253.8L89.8 255.1L90.8 254.6L90.4 256.9L90.6 256.1L90.7 257.7L91.6 258.3L91.7 259.3L90.9 259.8L90.9 259.5L91.7 261.3L92.3 262.7L92.1 262.2L92.1 262.3L92.2 263.1L91.8 262.4L92.9 263L92.4 263.8L93 263.3L93.5 264.8L93.1 266.8L93.8 267.4L93.3 268.3L93.8 269.8L94.5 271.2L94 271.4L94 272.3L93.8 272.1L94.4 273.3L95 272.6L94.2 273.3L93.9 273.6L96.5 274.4L95.1 276.4L94.9 276.8L94.7 277.4L95.1 277.2L95 277.6L95.7 278.9L95.1 279.1L95.3 280.4L96.1 281.2L96.3 281.9L95.6 283.3L96.5 282.4L97.3 283.6L97.3 283.8L97.9 284.3L97.3 285.5L98 286.2L98.3 285.6L98.8 287.1L99 287.5L99.3 287.9L98.4 289.6L98.9 290.1L98.8 290.5L99.3 291.3L99.7 292.7L99.8 293.3L101.1 293.5L100.5 294.5L100.9 295.4L100.2 296.2L100.9 296.3L100.6 296.6L101.5 296.5L101.6 297.3L100.1 297.3L101.1 298L101.5 299.5L101 300L102.1 299.9L102.2 301.2L102.4 302.2L101.9 303.1L101.7 303.6L102.9 303.3L102.5 304.2L102.9 305.3L103.4 307L102.6 307.2L103.4 308.3L104 308.3L103.4 309.1L103.3 309.7L103.7 310.4L102.8 311.5L103.9 312.9L105.2 312.9L104.1 313.5L104.2 312.8L104.6 311.9L104.7 309.4L104.7 308.7L105.2 308.9L105.2 308.2L104.9 307.8L105.1 306.9L104.4 307.4L105.4 305.4L105.8 304.1L105.3 303.3L105.3 303.4L105.3 301.7L105.7 301.7L107 301.2L105.5 300.1L106.2 299.9L106.7 299.4L106.8 298.8L106.6 297.7L106.8 297.1L106.9 296.9L107.6 296.7L107.7 295.4L106.8 295.2L107.4 294.6L107.3 293.7L107.1 292.4L107.3 291L107.8 291.4L107.5 290.7L107.3 290.4L109.2 289.1L108.3 289L108.8 288.4L107.5 287L108.9 287L108.9 287.7L109.8 287.5L110.5 288.6L110 288.6L109.1 288.6L109 289.6L109.7 291L109.9 292.6L110.2 292.9L110.8 292.7L111 294.3L110.1 295.9L108.8 297L110 296.5L110.8 298.5L110.7 298.3L110.7 298.1L111.6 298.1L112.7 299.4L111 300.5L111.6 301.1L112.2 300.8L113.1 300.7L113.6 299.5L113.1 298.4L113.9 298.2L113.8 298.3L114.2 297.3L113.9 296.3L114.2 294.9L114 295.2L114.3 296.7L114.4 298L114.4 299.3L114.2 298.4L113.7 299L115.8 299.5L114.9 299.5L115 300.8L114.1 302.2L114 303.4L116.5 303.1L115.3 302.2L114.7 303.9L115.7 304.4L116 305.2L115.6 306L116.2 306.9L115.9 308.2L115.5 307.9L115.3 308.8L115.3 308.3L116.3 307.8L114.9 306.2L116.2 305.2L116.9 304.9L116.7 303.9L116.3 301.7L116.3 302.9L115.9 301.3L116.5 301.2L116.3 301.1L116.7 300.8L116.5 299.5L117.4 299.7L118.7 300.2L118.6 300.4L118.5 300.9L118.7 301.3L117.1 302.2L117.2 302.5L117.6 302.9L118.3 304.6L118.6 304.4L118.7 305.6L118 306.1L118.5 307.3L119.5 308.2L118.8 309.6L118.8 310.2L120.2 310.9L119.2 311.2L119.2 311.4L118.8 312.9L118.5 313.5L117.7 315.1L119.4 315.5L120.2 316.2L118.9 317.8L119.4 317.2L119.3 318.7L119.2 320.3L118.8 321.6L118.9 321.4L119.1 323.3L119.8 322.2L118.3 323.2L119.8 323.2L120.7 324.3L119.8 324.5L120.1 324.9L119.2 325.7L118.9 326L120.1 326.5L120.2 327.7L119.5 329.1L120.7 330.3L120.3 331.8L120.4 331.5L119.9 332.4L120.7 332.8L120.5 333.6L121.7 333.3L120.8 334.3L121.2 333.9L120.2 335L121.6 336.7L120.6 338.1L121.1 338.4L122 339.1L121.5 340L121.4 339.9L122.2 340.2L122.2 340.4L122.6 341.1L122.2 341.6L121.9 341.5L122.5 343.2L123.7 343.3L123.8 345L122.8 345.5L122.6 346.3L122.1 347.9L122.6 348.5L123.8 349.2L124.6 347.8L124.3 347.3L124.3 346.5L124.3 346.2L124.5 345.7L123.9 344.1L124.1 342.6L124.3 341.9L123.7 340.5L124.8 341.3L126.5 341.3L125.3 340.1L126.1 339.8L126.4 340.1L126.7 341.4L126.3 342.8L127.3 344L127 343.4L127 343.1L126.9 345.8L126.1 347.4L126 346.6L126.6 347.3L127 347.5L128.6 348.7L128 349.5L127.7 349L127.1 348.5L128 347.5L127.8 346.5L128.2 345.4L128.9 344.9L128.4 343.5L129.2 343.8L128.7 342.1L128.4 341.9L128.6 341.9L128.4 341.4L129 339L128.6 338.3L128.4 337.3L129.9 337L129.7 335.7L127.9 334.9L129.1 334.9L129.5 334.5L129 333.8L128.8 333.8L130.4 333.4L129.3 332L129.3 331.8L129 331.8L128.7 330.7L130.4 331L129.6 330.1L129.2 328.9L131 329.8L128.8 329.8L129.4 329.1L129.2 329.7L130.3 331.3L132.3 330.4L131 330.9L131.1 331.4L131 333.1L131.9 333.6L130.9 334.6L131.4 335.6L132.1 335.4L131.9 336.5L133 337.4L132.2 338.4L133 338.8L132.4 340L132.6 340.1L133.3 339.7L133.8 338.9L134.4 339.2L134.5 338.5L134.7 337L133.9 337.5L133.1 335.7L134.4 335.2L134.1 333.6L135.5 333L134.6 331.4L135.2 331.3L135.3 331.8L135.1 330.4L134.8 330L135.9 328.7L135.3 328.1L135.8 327.1L135.8 327.2L135.6 326.5L136.1 326.2L135.4 325.1L134.9 325.7L136.5 326L137 326.8L135.7 326.5L137 328.1L136.6 329.6L137.4 330.2L138.4 330.3L136.5 332L135.6 332.7L137.1 332.9L138.1 334.3L136.4 334.4L135.6 334.3L136.4 334.7L136.9 335.8L138 336.1L138.6 336.8L138.5 337.5L138.3 338.2L138.8 338.3L139.2 340.2L139.8 339.9L139.5 340.1L140.8 340.2L140.2 340.6L140.9 340.3L141.2 340.1L140.2 341.1L140.7 342.2L140.8 343L140.8 343.9L143 344.5L141.2 345.6L141.6 344.8L140.2 342.5L140.8 342L140.9 342.8L142.2 342L141.6 340.9L142 339.9L142.4 339.7L141.3 339.1L143 337.6L142.5 336.8L141.9 336.9L142.3 336.9L142.9 335.8L143 334.8L141.8 334.9L142.9 334.7L141.8 334.2L143.3 333.2L141.7 332.1L142.4 331.1L143 329.8L143.2 329.3L144.2 328.6L145.1 327.3L143.7 327.4L142.6 326.8L143.7 325.7L143.6 325.9L143.5 325L144.1 324.8L143.5 322.8L142.9 321.9L144.3 321.8L144 321.9L144.1 321.3L143.7 320.7L143.7 320.3L144.8 320.3L144.2 318.2L145 317.5L144.3 315.7L145 314L144.4 314.3L144.6 313.9L145 313.6L145.5 313.2L144.8 311.4L144.7 310.4L145.2 310.6L145.6 309.4L145.3 308.7L144.9 308.7L145.6 308L145 306L144.7 305.8L145.2 305.1L145.3 304.8L145.5 305.1L145.5 303.9L146.6 303.5L146.3 302.9L145.9 302L146.2 301.2L144.7 301L145.7 299.4L145.7 298.3L145.5 297.6L146.6 296.8L146.6 295.3L146.9 294.3L146.9 293.5L146.2 292.4L145.7 292L146.6 291.8L147.1 292.2L147.8 292.9L147.5 291.9L148.1 292.2L147.6 291.3L148 291.4L147.6 290.5L148.7 290.2L148 288.5L148 287.7L148.2 286.1L149.1 286L148.7 285.2L149.2 284.7L149.3 284L149.8 282.6L148.9 283.4L149.8 283.8L148.8 283.2L149.9 282.8L149.3 282.6L149.7 280.6L151.1 280L150.6 278.7L149.2 278.5L150.1 277.3L149.9 275.9L148.4 276L149.4 275.6L150.3 275.3L151 274.8L150.4 273.8L150.4 273.2L149.6 272.3L149.9 273.2L151 271.6L150.2 269.8L150.3 271.5L150.4 272.7L150.7 273.3L150.3 272.3L151 274.2L151.2 275.4L149.6 275.8L149.8 276.4L150.9 277.1L150.5 277L151 276.8L151 277.7L151.5 277.4L150.5 279.4L151.4 280.2L151.4 279.3L149.7 280.8L151.6 282.5L150.7 284L150.5 284.8L150.6 284.8L150.7 284.9L151.8 285.8L151.1 285.6L150.9 287.2L152 287.7L150.3 288.1L150.7 289.4L151.1 290.2L150.9 291.1L151.2 290.8L151.2 291.3L150.4 293.6L150.5 292.9L150.6 293.9L152 294L150.9 294.6L151.5 295.7L151 295.1L150.7 295.9L151.7 297.6L151.4 297.2L151.9 299.2L151.1 297.8L150.6 298L152.5 297.1L151.6 295.7L151.3 294.8L151.7 295.7L152.5 295.6L151.4 295.2L151.3 293.7L152.3 292.9L153.6 292.4L152.1 292L151.3 291.5L152.9 290.5L151.9 290.3L151.3 289.5L151.6 288.7L151.5 288.1L152.4 288.2L151.9 287.3L151 285.6L152.1 283.9L152.1 282.8L152.5 282.7L152 282.5L151.9 281.8L152.5 281.3L152.7 281.5L152 280.3L151.8 279.2L151.4 278.4L151.9 277.9L152.1 276.8L152.4 275.9L152.5 274.6L152.1 273.4L153 273.6L153.1 273.2L152.3 272.8L151.5 270.5L151.6 271.1L152.6 271.3L152.2 270.9L153.6 270.5L153.1 270L152.5 269.8L152 268L152.6 266.5L153.9 266.2L152.6 266.3L153.7 265L154.1 264.8L152.8 263.3L153.1 263.2L154 263.1L152.9 260.8L152.6 260.5L153.5 260.7L153.2 259.6L153.4 258.9L153.3 257.4L152.3 256.7L152.9 256.8L152.5 254.6L151.9 254L154.1 253.4L153.1 253L154.3 253L154.2 252.7L153.4 251.8L153.7 252L152.1 250.4L153.5 249.4L153.5 248.4L153 247.9L154.4 247L154.1 246.9L153.4 245.9L152.8 246L154.7 244.9L155.3 244.6L153 243.7L153.9 243.1L154.4 241.8L154.8 241.2L154.6 240.2L152.7 240.6L154.2 238.5L153.8 237.3L154.7 236.5L155.1 235.7L155.1 234.9L153.7 234.8L154.1 234.5L153.3 233.1L154.1 233.8L154.7 231.9L152.6 232.3L154.6 230.9L155.3 230.7L156.3 230.1L154.7 229.7L153.9 228.4L154 227.3L153.9 225.8L154 225.7L154.8 225.1L155.2 225L155.3 225.5L155.3 224.6L154.8 224.2L156 221.3L155.8 220.2L155.5 219.9L154.4 218.5L154.9 219.8L154.4 218.7L154.9 217.8L155.9 218.4L155.4 217.6L155.3 216.6L155.3 216.7L155.3 216.2L155.4 214.4L156.7 212.4L155.9 211.6L155.1 212.3L155.7 211.2L155.1 210.5L155.6 209.6L155.3 209.7L155.8 208.6L155 207.2L156.2 206.2L156.4 205.6L156.3 205.2L155.8 204.3L156 203.9L157.6 203.9L155.6 204.2L155.9 202.6L156.2 201.6L156.4 200.8L156.2 200.7L157.4 199.8L157.5 199.5L157.4 198.6L156.7 198.1L155.8 197L155.6 196.6L156.4 196L156.3 194.5L157.1 193.5L156.5 192.8L156.9 192.1L156 190.8L157.2 190.1L156.7 189.5L157.7 189.8L157.4 187.8L158.9 187.5L157.4 186.5L157.2 186L158 185.6L158.7 184.3L157.4 183.9L158.1 182.9L157.7 182L158.9 182L159.6 182.6L160.5 182.3L160.6 181.3L159.5 180.6L160.2 179.9L160.9 180.1L161.5 181.3L161.5 182.8L159.8 183.5L160.6 183.5L160.2 184.3L161.7 184.4L160.8 185L160.7 186.1L160 186.9L160.2 188.4L160.1 188.8L161 190.1L161.3 190.7L161.3 190.5L162 190.9L161.8 192.3L162.4 192.7L161.7 193.3L161.3 195.4L162.1 194.9L162.4 195.3L162.5 196.3L161.1 198.6L162 197.5L161.2 198.3L162.4 199.5L162.5 199.9L163 201L162.1 201.1L162.7 202.1L163.2 202.6L163.4 203.1L162.5 204L162.3 205.1L164.3 205.5L163.4 205.3L163.1 206.5L163.6 207.4L162.8 208.6L163.7 209.1L162 209.1L163.2 209.9L162.6 211.1L163.4 211.5L162.9 212.3L163.7 213L163.4 213.8L163.7 214.9L164.2 215.1L164 216.3L163.7 216.5L164.6 216.9L164.5 218.2L163.7 218.8L164.7 218.6L164.1 219.9L163.9 220.4L163.7 220L163.3 222L163.8 222.8L164.2 224L164.8 224.2L164 224L163.8 225.2L164.1 225.7L163 226.3L163.9 227.6L164.2 228.9L164.2 229.6L164.2 230.5L164.7 231.5L163.7 231.3L165.1 231.1L165 232.4L164.4 234.3L163.3 233.8L164.4 234.3L163.3 235.6L163.5 235.7L162.9 235.8L164 236.2L164.9 237.4L165.1 238.7L164.2 239.5L163.9 240.9L163.6 240.7L163.8 242L164.6 242.3L163.7 243.4L164.2 244.9L163.8 246.3L164.6 247L165.8 246.7L163.7 246.6L164.4 247L164.2 248.5L163.4 248.9L164.1 250.1L163.7 250.4L163.5 250.1L164.2 250.1L164.8 250.7L163.5 252.9L163.9 253.6L165.7 253.3L164.7 254.7L164.3 255L165.1 256.2L163.3 257.4L164.4 257.9L164.4 258.7L165.6 260.2L164.6 260.9L165 262L164.1 261.8L164 261.9L165.8 263.1L165.6 263.3L165.6 264L165.2 264.8L164.6 266.4L164.5 267.1L164.4 268L164.2 268.5L165.5 268.3L164.8 268.8L165.1 269.2L165.4 270.7L164.5 270.5L164.7 271.4L165.2 272.8L164.8 273.4L165.5 274.6L164.9 275.2L165.4 276.6L167.1 276L166.5 275.9L166 276.5L164.8 277.8L165.8 277.4L165.3 276.6L165.4 276.4L164.7 276.6L165.1 276L163.6 274.9L164.7 274.7L165.9 273.8L165.9 272.5L164.9 272.3L164.5 270.9L164.5 269.5L165 269.4L164.8 269L164.2 267.5L164.8 267.3L166.3 265.2L165.9 265.8L165.8 266L166.5 265.2L165.1 263.7L166.2 262.7L165.4 261.5L166.7 261.2L165.2 260L166.4 260.3L167.2 259.9L166.7 258.4L166 256.9L166.2 256.7L166.4 255.6L166.8 255.8L167.4 253.8L165.2 252.7L166.7 253.2L166.9 252.9L167 251.9L166.4 250.7L168.8 250.3L167.6 250L167.7 249.4L167.7 249.9L166.8 248.5L166.4 247.4L166.2 246.9L167.4 246.9L168.1 245.7L167.6 244.4L167.4 243.8L167.7 243.1L166.8 243L167.4 241.5L166.4 241.1L166.2 240.7L168.3 240.4L168.3 239.8L167.5 239L166.5 238.4L168 237.6L168.6 236.7L167 236.6L167.9 235.3L167.7 234.2L168.2 232.8L168.2 232.1L168.4 231.8L168.8 230.5L168.7 229.9L169.1 229.7L169.2 228.9L168.3 228.3L167.8 227.5L169.3 226.4L168.4 226L169.7 226.8L168.6 225.5L169 224.4L167.6 224L168.9 223.5L169.1 222.7L168.7 222.4L169 221.6L168.5 220.7L169.1 219.4L168.8 218.5L169.3 217.5L168.7 217L168.6 216.6L168.9 215.8L170.2 213.9L169.4 213.9L169.5 212.4L169.2 211.8L169.1 211.6L169.3 211L169.9 211L169.6 210.1L170.2 208.2L170.2 207.4L170.7 207L169.7 207.3L169.8 206.1L170.5 204.6L170.3 204.8L169.5 204.8L170.1 203.8L169.3 203.9L170.6 203L171.1 201.9L171.3 202.5L172.1 202.7L172 203.2L172.4 204.4L172.1 205.7L172.6 206.3L173.2 205L173.5 206.3L174.4 206.8L174.6 206.8L172.7 208.1L173.8 209.1L174.5 209.9L174.8 209L174.2 208.2L174.8 208L174.9 206.4L174.5 206.2L174.4 205.8L174.8 205.8L173.4 204.8L175.3 204.5L174.8 203.1L174.7 202.7L175.5 201.5L175.9 201.1L174 199.9L174.9 198.8L175.3 198.2L175.3 197.4L175.6 196.5L175.8 194.9L175.6 194.4L175.5 194.6L175.2 191.8L174.7 191.6L175.3 191.2L175.3 191.3L175.7 190.2L175.3 190.4L175.9 189.9L176 189.3L175.7 188L175.4 186.8L177.1 186.8L176.4 186.1L175.8 185.7L175 185.5L175.7 183.8L177.2 182.7L176.4 182.1L175.5 181.8L175.5 181L175.7 181.3L176.5 181.3L176.3 180.3L177 179.3L176.7 179L176.9 177.6L177.5 175.5L176.4 175.2L176.7 174.5L176.1 173.6L177.9 172.9L176.7 172.2L177.9 171.4L176.4 170.9L177 170.4L178 169.6L178 170.3L176.5 172L176.6 173.1L176.7 173.9L177 174L177.8 175.3L178.4 175.3L178 176L178.2 176.3L178.3 176.6L178.1 179.4L178.6 181L178.7 181L178.1 181.6L178.1 181.1L178.3 181.4L178.9 182L178 181.8L178.8 183.2L178.7 183.6L178.5 184L177.8 185.1L176.6 185.7L177.5 186.1L177.3 186.2L178.5 187.1L176.4 189.6L176.5 190.1L178.8 190.9L177.9 191.1L176.8 193L179 193.1L178.6 193.5L178.4 194.1L178.5 196.3L178.6 195.8L177.6 197L178.9 196.8L179 196.3L179.4 197.6L179.5 198.3L178.8 198.9L178.2 199.9L177.6 201L178.7 202.7L178.4 203.4L178.3 203.6L179.1 204.9L179.2 205.1L178.2 206.3L178.5 207.9L178.8 209.4L177.8 209.4L178.7 210.2L179.8 210.7L178.5 211.8L177.8 212L178.3 211.6L178.4 211.7L179.1 212.9L177.9 213.8L178.5 215.7L179.7 216.7L179.3 217.1L179.1 218.2L178.2 218.1L178.1 219L178 218.6L178.3 219.1L178.8 218.8L177.7 219.7L178.6 219.6L179.2 220.8L179.1 221.1L179 221.9L178.6 222.3L178.4 222.8L179.9 224.2L179.1 225.4L179.7 226.1L180 227.5L180.7 227.4L180.5 228.6L180.6 229.7L179 229.6L179.5 229L179.4 229.2L179.4 227.9L179.7 228L179.8 228.1L180.9 227.7L180.9 227.2L180.4 224.3L180.5 223.5L179.6 221.6L180.3 220.6L180.5 219.9L180.7 219.1L180.8 218.8L180.4 218.2L180.9 216.3L179.6 216.2L180.8 216.6L181.3 215.1L182.2 215.4L181.7 214.6L181.3 213.4L181.9 213.1L182.3 212.7L181.7 212.7L181 211L182.1 210.3L181.2 208.8L182 209.4L182.6 208.8L182.4 207.6L183.7 207.2L182.6 206.9L183.4 206.4L183.7 204.9L183.1 204.8L183.4 204.4L183.3 203.9L182 202.4L183.7 201.3L183 201.8L183.6 200.8L184 201.3L183.7 199.6L184.1 199.7L183 198.3L183.7 197.6L184.2 196.7L185.3 197.3L184.7 198L183.8 198.5L184.8 199.1L184.6 200.2L185.7 200L184.9 201.5L184.8 202.3L183.6 203.1L184.4 203.6L184.1 204.6L184.9 205.6L184.8 205.7L184.4 207.7L185.6 207.2L185.3 207.7L185 208.3L185.1 209.7L184.4 208.9L184.8 209.8L184.9 210.7L185.1 211.3L185.8 212L185.4 212.9L185.6 214.3L185.1 214.4L186.1 215L185.5 216.4L186.9 217.7L186 218.2L185.4 218.9L185.7 219.9L185.2 219.7L186.9 219.6L186.1 220.4L186.2 221.3L186.8 222.1L186.4 223.1L186 224.7L184.9 224.8L185.2 225.5L185.9 226.7L186.7 227L185.9 228L185.2 228.9L186.2 229.2L186.1 228.6L185.7 229.8L186.9 230.5L186.4 230.6L186.1 230.3L186.4 232.1L186.5 232.3L187.3 233.9L187.7 234.6L186.9 234.7L186.7 235.2L186.6 236L186.4 237L187.9 238.4L186.8 239.7L187.9 239.6L187.2 240.6L187.9 241.1L187.8 240.6L188.7 240.8L187.5 242L189.4 242.7L188.7 243.4L188.7 244.7L188.4 244.9L188 246.8L188.7 246.5L189.3 247.4L188.4 248.3L188.7 249.3L188.1 250.6L189 250.7L189 251.1L189.3 252.4L189.2 252.5L189 252.7L189.9 252.6L190.3 253.4L189.5 254.5L189.4 255.6L189.9 257.1L190.5 257L189.4 258.2L189.6 260.5L190.8 261.6L190.5 261.7L191.1 261.9L190.5 262.3L190.9 263.3L189.9 263.9L190.8 264.2L190.5 264.5L189.8 265L189.9 265.8L190.2 265.9L190.9 266.3L191.4 267.4L191.8 269.5L190.1 270.7L190.8 270.8L192.1 271.8L192.1 272.3L191.7 272.9L190.2 273.5L191.1 274.7L191.5 274L191.8 274.8L191.9 276.3L190.7 276.4L191.2 277.3L191.6 277.7L191.5 278.7L192.7 277.9L191.7 277.4L191.7 276.5L192 276.5L191.8 275.9L190.8 274.8L191.6 274L192.4 273.6L191.9 272.5L191.6 271.7L192.9 270.5L192.7 269.8L193.2 270L191.7 269.5L191.1 269.1L191.8 267.7L192.1 267.4L192.8 266.9L192.8 266.3L190.9 264.5L190.5 263.2L192.6 263.7L192.6 262.7L192.9 263.5L192.7 263.3L193.4 261.6L192.8 260.1L192.9 259.2L192.1 258.9L192.5 258L193.3 257.6L193.7 257.9L192.2 257L191.6 256.4L193.9 254.9L193.9 254.4L192.8 252.6L193.8 252.7L193.5 254L193.5 255.1L193.8 255.1L194.3 255.8L192.6 256.8L193.8 258.1L193.6 259.1L194 260.6L194.4 260.7L194.6 261.1L195.2 261.6L195 260.9L194.4 261.4L195.9 262.5L195.5 262.8L194.7 263.2L195.7 264L194.9 265.1L196.8 265.5L196.2 266.2L196.6 264.2L197.2 264.7L196.9 265L198.3 265.2L198.6 266.1L196.9 267.5L197.7 267.5L199.2 267.5L198.2 269.4L198.6 269.4L198.5 270.7L199.1 270.2L200.1 272.1L199.5 273.1L198.8 274.4L197.6 275L198.1 275.1L199.6 275.8L200.8 275.3L200.3 276.8L199.9 276.6L199.8 277.4L200.1 278.1L200 279.6L199.8 280.6L200.5 280.2L199 282.4L201.1 283L200.3 283.9L200.4 284.3L201 285.1L201.5 284.8L201.1 283.7L201.8 282L202.1 281.6L201.5 280.8L200.2 279.6L201.4 279.8L202 280L203.3 279.2L202.7 280.7L203.9 279.2L203.6 278.8L204 279.3L204.3 278.6L204.4 277.8L204.4 277.7L203.3 278.2L204.5 278L204.6 279.7L204.8 281.4L205.1 281L204.3 281L206 282.4L205.2 283.7L205.9 283.8L206.7 285.2L205.8 287.1L205.8 287.6L206.4 287.5L206 287.6L205.6 289L207.1 289.7L206.5 290.3L206.6 290.9L206.6 292.2L206.6 292.1L207.7 293.4L206.2 294L206.9 294.2L206.3 295.9L207.4 296.4L207.9 296.7L208.4 296.1L208.6 295.9L207.9 297.6L207.8 297.7L208.3 297.7L208.2 299.1L208.2 300L208.9 300.1L208.8 301.5L209.2 301L210 302.5L210.4 302.4L211.4 302.4L211.4 302.7L210.2 303.5L211.8 304.4L212 304.8L212.3 304.7L213.6 303.6L212.9 303.6L213.9 303.5L213.4 302.2L212.6 301.5L213 300.9L213.3 299.2L213.9 300.4L214.4 299.8L214.2 299.9L214.8 300.6L214.4 302.3L214.5 302.3L214.3 302.9L215.3 303.8L215.5 304L216 304.2L216.4 305.8L215.7 306.6L216.1 306.8L216.7 307.1L216.2 308.4L216.7 309.3L217.3 311.3L217.7 311.2L217.2 312.3L217 312.3L217.1 313.2L218.1 312.5L217.5 313.1L217.7 315.1L217.1 316.1L217.4 316.6L218.7 316.9L218.7 317.8L219.2 317.7L218.6 318.7L218.6 320L218.3 320.6L218.4 320L219.5 319.4L219.6 319.5L219.1 317.3L218.7 316.4L219.2 315.4L219.3 315.1L218 315.3L218.7 313.7L219.1 313.5L221.4 311.8L219.5 311.9L219.1 311.2L219.3 310.5L219.8 309.3L219.2 307.8L219.9 309L220.7 308.1L221 307.7L220 306.3L220.1 305.4L220.3 304.8L219.7 303.2L220.3 302.3L220.7 302.4L221.1 302.1L221 301.5L220.9 300.8L221 300L220.9 299.4L221.7 299.5L222.3 299L221.1 297.1L220.3 296.1L221.3 296.1L221.5 295.3L221.2 294.5L222.7 294L223.4 293.7L221.8 292.9L222.3 292.2L222 291L222.8 289.9L222.9 290L222.9 288.8L222.7 288.5L223.2 287.6L222.6 286.4L223 285.5L223.4 285.9L223.3 285L223.6 284.6L223.5 284L224 282.4L224.6 283.3L225.1 283.5L224.7 283.3L225.2 283L225.2 285.8L226.3 286.9L225.9 287.2L225.7 289.1L225.9 289.5L226 289.7L225.5 290.3L225.6 290.7L225.7 291.3L225.9 292.1L226.4 292L225.9 292L225.6 292.9L226.1 294.8L225.9 293.9L225.8 293.5L226.7 292.7L226.6 291L227.5 290.3L227 290L227.2 289.1L226.9 288.4L227.3 288.9L226.7 288.7L227.4 288.1L227.4 287.2L228.1 285.7L226.7 285.9L227.3 284.9L226.9 284L227.8 283.1L228.9 282.5L228.5 281.9L228.5 281L228.1 281.1L229.1 281L228.2 279.6L228.7 278.6L229.1 278.9L228.5 277.5L228.4 276.8L228.9 276.5L228.7 275.4L229 274.1L229.6 274.2L229.8 272.8L231.7 272L230.1 270.4L229.6 270.1L229.4 269.4L229.1 268.5L229 267.7L228.4 266.6L229.5 266.2L230.4 265.8L229.9 265.2L229.6 264.3L229.2 261.8L231.6 262.4L232.1 262L230 261.5L230 261L230.8 260.6L231.6 260.9L231.5 261.9L232.2 262.6L233 262.7L233.2 260.9L233.2 261.5L233.7 261.9L234.2 262.2L234.5 263.4L235 264.2L234.7 263.8L235.3 263.5L234.8 261L235 260.5L234.2 259.9L234.2 259.1L235.7 258.4L233.7 258.3L234.8 257.6L234 255.7L234.8 255L235.4 255L235.7 253.9L235.9 253.2L236 253.2L234.9 252.4L235.5 251.8L237.1 251L236.2 250.5L235.6 250.3L236.4 249.7L237 250.5L236 249.9L237.5 248.3L237.1 246.5L236.9 245.3L237.2 244.6L237.7 244.8L238.2 244L237 243L237.8 242.4L238.6 242.8L237.7 244.4L238.2 244.3L237.3 246L237.7 246.3L237.9 246.8L239.5 248L238.3 248.9L238.2 249.4L239.5 250.7L239.2 250.8L238.9 250.6L239.2 251.5L239.4 250.7L239.3 252.3L240.3 254.2L239.6 254.3L239.7 256L240.2 255.9L240.1 256L239.3 256L240.6 256.2L240.9 257.6L241.6 256.7L241 257.3L240.4 256.3L240.8 256.1L241.1 255.8L240.7 254.8L241.5 253.9L241.6 252L241.8 251.2L242.7 250.1L240.8 250.7L242.6 249.8L240.6 248.4L241.6 248.1L242.3 248.2L242.3 247.1L242.8 247.3L242.3 246L242.5 245.2L242.1 244.3L242.8 244.5L242.9 243.7L242.1 241.6L242.1 241.3L241.7 240.7L241.7 240.1L241.6 239.2L242.6 238.7L243 237.3L242.8 236.4L242.8 235.8L242.9 234.7L242.6 233.1L242.7 231.3L243.1 232.6L242.8 231.7L243.1 231.6L243.7 230.6L243.1 230.2L243.6 228.9L243.7 229.4L242.4 228.2L243.1 226.9L242.6 227.3L243.6 226.8L244.3 225.2L244.7 224.3L244.7 223.7L244.3 223.4L244.1 223.3L243.6 222.7L243.1 221.7L245.2 221.5L243.8 221.2L244 220.4L244 219.7L244 219.5L244.2 217.9L244.2 216.2L244.9 216.3L245 215.4L244.8 215.6L245.7 214.3L244.2 213L244.8 213.1L245.6 212.5L245.9 211.5L245.2 209.3L244.9 208.8L245.9 208.4L245.2 208L245.3 207L245 205.9L245.3 205.2L245.2 205.2L244.6 204.4L245.1 203.8L245.7 203.7L244.1 202.8L244.8 201.2L245.8 201L245.5 200.3L245.4 200.6L246.5 200.1L245.6 199.9L246.4 199L246.3 197.9L246 196.7L245.9 197.4L246.8 196L246.2 195.4L247.8 195.7L246.4 193.6L246.3 193L246.7 191.9L248.2 190.6L247.7 189.9L246.8 190.5L246.3 189.7L246.9 188.4L246.9 187.7L248.9 187.4L247.5 185.6L247.6 185.6L249.3 184L247 182.3L246.5 182.8L247.5 182.2L247.8 181.3L247.8 181.4L248.5 180.5L249 180.5L248.2 179.2L248.1 177.8L249 177.7L247.9 177.2L248.6 177.5L248.9 178.8L248.1 180.1L248.3 181.5L248.6 182.7L248.4 182.7L248.9 183L248.4 184.5L250 185.2L250.1 185.4L249.9 186.4L249.1 187L250.8 187.8L249.1 186.9L250 187.6L249.7 188.6L249.6 189.8L250.3 189.1L251.2 190.1L249.9 190.7L249.7 191.7L249.5 193.6L249.8 193.7L249.5 194.8L250.2 195.7L249.9 197.1L251.2 198.2L250.6 198.6L250.7 200L250.1 201.1L250.9 201.9L251.2 201.2L251.5 200.8L250.2 202.3L252.1 202.4L251.2 203.3L251.4 203.5L250.9 204.2L252 205L252.1 205.5L251.4 206.2L250.2 206.3L252.1 207.8L252 208.5L251.6 209.1L252.8 210.5L252.4 211.1L252.4 211.6L253.1 211.4L253.1 212.5L252.9 213.2L253.8 212.9L253.3 214.1L253.2 214.8L253.6 216L253 217.4L252.8 217.2L253.6 217.7L253.1 218.5L253.3 220L252.9 220.9L254.6 221L252.6 222.1L252.7 223.7L253.1 222.7L253.5 223.2L254.2 224.2L254.7 225.8L254 225.9L254.8 227.5L254.6 228L254.5 227.9L254.8 228.4L255.1 228.7L255.6 229.5L254.9 229.6L255.4 230.5L255.7 230.3L254.7 231.5L255.4 232.1L255.3 233.3L255.4 234.5L254.6 236.3L256.1 236.5L256.7 236.3L257 236.8L256.2 237.6L256.2 238.4L256.5 238.7L255.8 239.5L256.1 239.7L256 241.3L257 241.3L256.9 242.6L256.2 244.1L257.2 243.4L257.4 244.3L256.7 245.1L256.9 245.3L256.7 245.9L257.2 246.7L257.1 247.8L257.1 248.9L256.9 249.2L256.7 251L258.1 252L258.2 252.1L257.1 251.5L258.3 252.9L259.2 254.3L258.6 255.1L257.3 256L257.4 257.5L258.5 257.6L258.7 258.3L259.6 259.3L258.2 257.8L258.8 256L258.1 254.3L258.4 253.9L259.8 255L259 253.8L259.1 253.1L259 253L259.4 251.2L257.8 250.5L259.8 250.8L259.1 249.4L259.3 248.2L258.7 247.1L260.5 247.5L259.9 247.2L259.3 245.8L260 245.3L258.9 245.2L259.1 243.6L260.2 243.9L261.7 242.8L260.1 242L260 240.4L259.8 239.5L260.6 238.8L260.2 238.2L259.9 238.2L259.8 237.6L260.9 236.7L261.1 235.6L260.7 234L260.6 234.2L260.6 232.6L260.4 232.1L261.5 230.4L261.1 230.2L260 230.1L261.5 229.9L260.8 230.3L261.9 230.3L261.9 231.6L261.3 232.4L261.6 233.1L262.1 232.2L262.1 233.4L263 234.6L262.1 235L262.1 237.6L262.6 237.4L263.3 239L263.5 238.9L262.6 239.1L263.5 238.4L263.9 239.2L263.3 239.5L263.1 240.4L262.7 241.3L263.6 241.1L265 242.6L263.6 244L264.7 244.7L264.7 245.5L264.4 246.9L266.5 246.5L263.8 248.5L265.9 248.7L264.9 249.1L265.4 249L265.9 251.3L265.3 252L264.9 252.2L265.2 253.2L264.9 253.3L265.5 254.9L265.2 255.1L266.8 256.2L265.6 256.6L266.3 257.3L265.7 258.6L265.5 259.5L266.2 260.3L266 260.6L265.9 262.9L266.1 262.5L266.1 263.3L266.3 264.1L266.9 265L265.8 265.2L265 265.1L265.9 266L266.2 266.3L267 267.6L268 268.6L266.5 269.5L266.3 270.3L266.6 270.8L267.4 271.2L267.1 271.6L267.2 271.6L266.9 272.6L267.8 273.6L268.3 274L266.5 274.5L267.1 274.8L267.7 276.2L267.3 277L267 278.5L266.2 278L268.5 278L268.5 279.6L267.9 280.4L268.2 280.3L267.5 281.6L268 281.3L268.5 281.5L268.7 283.2L268.9 284.5L269.1 286.4L268.6 286.5L268 287.7L268.7 287.5L269.5 288.3L269.4 288.7L268.8 289L268.8 290.1L269.3 290.6L268.7 290.2L269.2 292.2L269.9 292L269.7 293.2L270.5 293.8L270.4 295.3L269.9 295.3L270.3 296L270.6 296L270.2 297L271.3 297.5L270.8 298.9L270 300.4L271.2 300.5L272 301.3L271.2 301.7L271.8 302.2L270.7 303.3L272.1 304.5L271.7 304.4L271.9 304L271.3 302.7L271.7 302.5L270.8 302L272.8 300.5L272.3 299.4L271.4 299.6L272.4 299.7L273.3 299.3L272.5 298.5L272.8 297.3L273 296L272.6 295.4L273.2 294.8L272.5 293.7L274 293.3L273.5 291.7L273.2 291.3L272.6 290.5L272.8 290.2L273.1 288.5L273.5 289.4L272.3 287.6L272.7 286.3L272.4 285.9L274.5 286L273.5 285.2L273.9 284.8L273.4 283.1L273.2 283.1L273.9 282.8L274.2 281.5L273.5 280.7L272.8 279.4L273.8 278.7L272.8 277.6L273.9 277.1L274.8 277.7L273.7 277.2L274 275.9L274.3 275.5L273.2 273.8L274.8 274L275.1 273.7L274.2 272.2L274 271.8L275.1 270L274.4 269.9L274 269.3L274.1 268L274.1 267.6L275.3 266.7L274.9 265.9L275.4 265.4L275.4 264.4L275.4 264.1L275.4 263.4L274.7 263.1L276.2 262.6L274.7 262.3L275.4 261.5L275.8 261.8L275.2 260.6L275.6 260L275.8 258.8L276 260L276.2 260.5L276.6 260L275.3 261.4L278.4 261.2L277.3 261.3L277.4 262L277.6 262.8L278.6 263.4L278.8 263.3L278.5 262.9L278 264.6L278.1 264.5L278.5 265L278.8 266.9L280 266.8L280.4 268.6L279 268.8L279.6 267.7L280 270L279.4 269.2L279.6 268.1L280 267.9L281 267.8L280.4 267.4L280.8 266.8L281 266.7L280.9 266.4L280.9 265L280.2 263.3L281.7 262.4L281.5 261.6L280.8 260.4L281.9 259.8L281.5 259.3L281.1 258.9L281.5 258.6L282.2 257.9L281.9 256.8L282.1 255.4L282 254.4L282.9 253.9L283.6 252.8L282.1 252.8L281.8 252.7L282.4 253L283.6 252.7L281 253.3L282.5 254.7L282.3 255.7L282.7 257.4L281.3 258.1L283.4 257.5L283.2 259.1L283 259.6L282.8 260.5L283 261.5L282.9 262.2L283.9 262.8L284.3 263.6L284 263.4L282.2 264.2L283.4 264.9L283.6 266.1L284.7 266.7L283.3 267.2L283.6 267.8L284.4 268.2L284.2 269.1L284.6 270.2L284.5 271.1L284 271.9L284.5 272.1L284.9 271.4L285.6 272.6L284.8 274.3L284.9 274.1L284.7 275.5L285.6 276.5L286.2 276.4L285.4 277.8L285.1 279L285.5 279.9L285.2 280L285.5 281.3L284.9 281.4L285.4 281.8L285.4 283.2L286.1 283.8L285.9 284.7L286.1 285.2L286.2 285.2L284.5 282.5L285.5 282L286.8 282.3L287.3 282.2L287.5 282.5L287.3 284.3L287.8 283.9L288.2 283L287.9 281.2L288.8 281.7L288.9 282.6L289.1 283L289.5 283.7L289.8 284L291 284.5L290 285.1L290.3 285.8L290 287.1L290.7 287.9L290.3 289L291 289.2L290.9 289.8L291.5 290.7L291.9 291.7L292.2 292L291.5 292.3L290.7 292.9L291.3 293.2L292.6 294L291.9 295.2L291.4 295.6L292.9 295.9L292 296.7L292 297.6L292.7 298.2L292.9 299.5L293.2 299.5L293.1 300.4L293.2 301.1L292.5 301.3L293.9 301.9L294.3 302.3L294.8 301.6L294.4 302.8L295.7 304.3L295.5 304.7L295 305.8L295.2 307.1L296.3 308.2L295.1 309.2L297.3 310.2L296.8 311.2L296.5 311L296.8 310.3L297.2 312.1L295.4 313.5L296.9 314L296.4 314.5L298.2 314.8L297 315.8L297.9 316.7L297.3 318.7L296.1 318.5L297.6 318.6L297.2 319.8L297.8 320.3L297.5 320.8L297.1 320.4L297.4 321.4L297.6 322.3L299.2 322.2L298.9 324L297.2 325L298.4 325.8L298.9 325.2L298.1 326.2L299 326.6L297.8 327.9L298.4 327.2L298.4 329.1L298.5 329.5L298.8 331L299.4 330.5L299.3 332.3L299.6 332.8L299.6 331.5L299 330.4L298.5 329.9L300.1 329.6L299.2 329L298.7 329.5L300.3 329.3L299.3 328.3L298.2 327.5L299.9 326.9L299.3 325.3L299.2 325.4L299.2 324.4L300.5 322.9L298.4 321.9L299.3 321.4L300.5 320.6L299.8 320.3L299.8 319L300.5 319.2L298.9 318L299.1 317.1L298.9 318.2L300 317.1L301.1 316.2L300.3 316.4L299.6 314.5L300.4 313.4L300.6 312.1L299.1 312.6L300.8 312.3L300.6 311.1L300.9 309.8L300 309L300.4 308.1L300.3 307.7L300.4 306.8L301.1 306.9L300.8 305.4L301.8 305.6L302.2 304.9L301.6 306L302.6 305.6L303.9 304.4L303.9 304L303.6 303.7L303.2 303.7L303.9 303.4L303.9 304.1L303.6 304.8L304.3 305L303.5 305.5L304.9 305.9L303.7 307.3L304.8 307.6L305.5 309.1L305.9 310L304.3 310.7L304.5 310.9L304.9 311.4L305.6 312.2L305.3 314L305.3 313.8L304.8 313.9L306 314.8L305.2 316.5L305.5 316.4L305.4 317.1L306.3 317.9L306.3 318.2L307.1 319.1L307.3 317.4L306.3 316.5L307.3 315.9L307.6 315.3L307.3 314.9L307.2 313.1L307.7 313.1L308.9 312.5L308 312.8L308 311L309 311.1L308.7 311.6L308.2 311.2L308.3 310.1L309.3 309.9L309.1 308.1L309.5 308.4L309.1 307.4L310 305.3L311.1 305.3L310.7 306.8L311.6 307.2L311.5 308L312.3 308L311.9 308.1L312.4 308.1L311.9 309.9L312.8 310.2L312.7 310.6L312.1 310.8L313.4 312.7L313.4 313.6L313.3 314.1L314 313.8L314 315.1L313.6 316L314.8 316.7L314.6 317.6L315.3 317.1L316.2 318.5L315.4 318.5L316.2 318.1L317 318.3L317 318.8L316.9 320.4L317.9 321.3L316.3 322.6L316.9 322.1L317.6 322.7L317.5 322.1L317 321.4L316.2 321.7L316.5 321.3L317.6 320.8L317.5 320.1L317.8 319L317.1 316.8L318.7 317L318.4 316.5L318.8 314.2L318.5 312.8L319.3 311.9L318.2 311.9L319.7 312.3L320.4 311L320 310.5L319.3 309.4L319.4 308.8L319.4 309L319.3 308.6L318.3 307.8L317.8 306.9L319.2 306.5L319.1 306.7L319.5 305.9L319.3 306.3L319.5 305.4L319.5 305L320 302.9L320.4 301.7L320.1 301.4L320.4 300.7L320 300.6L320 299.7L319.9 299L321 299.2L320.9 298.8L319.9 297.6L321.1 296.4L321 295.1L320.2 294.1L320.6 293.1L320.7 293.2L320.1 292.5L319.8 293L321.4 291.7L320.7 290.5L320.6 289.7L320.5 288.5L321.7 287.2L321.7 285.7L321.4 286L321.3 285.6L322.5 285.8L323.3 284.7L322.1 283.9L320.6 283.1L320.9 281.8L321.9 281.4L322.3 280.7L321.6 279.9L321.5 279.5L322.6 279.1L322.5 278.5L321.7 277.8L322.9 276.4L323.2 275.3L322.9 274.4L323.2 274.3L321.7 272.6L323.5 272.4L322.5 271.9L323.6 271L325.1 270.5L324.5 270.3L323.9 269.7L323.6 268.2L324.1 267.9L323 268L322.7 269.3L323.6 270.3L325 270.9L324.7 271.4L323.3 272.1L325.5 271.6L323.8 272.7L325.2 273.9L324.7 274.5L324.7 275.1L325 275.4L324 276.6L325 278.3L324.1 278.7L324.3 279.1L325.2 280.1L325.2 280.7L325.8 281.5L324.7 282L325.1 284.1L325.2 284L325.4 284.9L325.4 284.6L324.5 284.9L324.5 284.8L325.7 285L325.3 286L326.3 286.6L326 288.4L325.7 290L325.2 291.2L326.9 290.2L326.8 290.3L327.1 290.5L327.1 290.2L325.9 292.1L325.8 292.5L325.9 292.3L325.7 294.8L325.6 295.7L326.2 297.8L325.9 298.6L325.9 298.3L326 298.4L326 299.6L327.1 299.7L326 300.7L327.5 301.7L327.1 302.6L327.2 303.9L326.4 304.3L326.6 304.3L328.3 305.5L327.6 305.6L326.4 307.5L327.6 308.7L326.9 308.6L327.5 309.2L327.5 309.4L327.6 309.9L327.9 311L327.8 310.6L328.1 310.1L328.3 309.1L328.2 308.6L327.6 308.1L327.3 306.7L327 305.5L327.8 304.9L328.7 305L327.9 304.1L328.9 302.9L327.7 302.1L328.7 301.5L328.5 299.7L327.9 299.2L327.3 298.2L328.1 297.9L328.3 298.6L328.8 298.3L329.4 298.4L329.1 296.1L328.3 294.6L329.1 295.2L328.8 294.5L329.4 293.6L330.2 292.9L330.1 292.7L328.8 290.5L329.7 289.4L329.7 288.7L330 288.3L329.6 287.8L329.9 287.2L330.3 286.1L329.4 285.7L329.5 284.6L329.8 284.7L330.5 284.3L330.2 283.3L330.5 282L330.7 281.6L329.2 280.6L331 281L330.6 279.4L330.3 278.9L331.3 278.6L331.4 278L332.1 277.6L331.7 276.4L332.4 276.6L333.1 275.6L331.9 275.5L332.9 274.1L333.9 274.5L332.8 273.1L333.4 272.3L333.2 272L332.8 270.9L332.7 269.9L332.9 268.8L333.7 267.7L334.1 267.2L333.8 265.9L334.2 266.8L335.4 264.9L335.4 265.1L335 263.5L336.2 262.9L335.2 261.5L334.5 259.9L334.6 259.6L335.4 260.4L335.9 260.4L335.9 260.6L336.1 259.2L336.7 258.4L336.9 258.4L336.5 258.4L337.4 258.1L337.7 257L336.9 255.9L337.2 254.6L337.4 253.6L338.8 251.6L337.8 252.3L338.7 252.1L338.1 251.9L338.2 252L338.8 249.8L339.1 248.3L339.7 248.8L340.6 250L340.1 250.1L339.5 251.8L339.8 251.4L339.2 252.7L340.7 252.9L340.3 254.4L341 255.2L339.2 256.9L340.6 257.9L340.6 257.5L340 259L339.7 259.9L340 260.1L341.2 260.2L340 260.9L341 260.8L341.7 261.7L341.9 262.5L341.3 264.2L341.1 263.7L341.1 264.6L341.7 265.2L341.9 267L341.8 266.9L342.7 268.3L341.2 268.3L342.6 268L342.7 269L342.7 269.1L341.5 270.1L342.5 270.7L342.8 271.6L342.5 271L342.9 272.6L343.6 272L343.4 273L344.1 273.4L345.3 274.2L344.5 275.5L345 276.3L343.4 276.6L345.2 276.8L344.7 278.8L345.4 280L345.8 279.3L346.3 279.3L345 278.7L346.3 277L346.7 276L346.6 274.9L347.3 273.8L346.6 273.9L347.4 273.3L347 273.5L348.3 272.5L347.8 272.1L347.1 272.1L348.1 271.4L347 271L347.6 270.8L346.3 269.2L347.4 268.4L347.8 268L348.5 266.8L347.8 265.8L348.5 265L349.1 263.5L348.8 263.9L349 264.1L348.6 262.8L349.3 261.8L349 260.6L349.8 259.5L348.8 258.9L350.1 259.3L349.1 259.2L349.5 259.6L349.3 259.9L349.4 260.5L349.9 261.8L350.4 262.2L349.5 263.4L349.8 263.9L349.7 265.2L350 264.8L351.5 265.4L350.9 266.5L351.2 266.5L351 266.2L350.9 267.5L350.9 269.5L352 270.9L351.9 271.9L352 272.7L352 272.1L350.7 272.9L351.8 273.1L351.8 272.5L352.1 271.8L352.5 271.4L352 270.9L352.5 270L352.2 268.9L352.9 268.9L353.5 268.2L354.5 268L355.2 267.9L354.4 267L354.1 266L354 267.1L354.3 267.3L354.4 267.7L353.9 268L354.5 268.9L354.6 270.2L355.3 269.8L355.2 270L356 271.3L355.9 271.8L356.7 272.4L356.1 273.1L356.1 274.7L356 275.5L356.6 276.3L356.1 276.4L356.2 275.1L356.9 274.2L355.8 273.8L357 272.2L357 271.7L357.6 271.9L356.9 270.3L356.6 269.4L357.2 268.1L357.5 266.4L357.3 266.6L356.8 266L356.4 265.1L356.6 265.1L356.2 263.7L357.5 262.6L358.4 262.5L358 262.3L357 262L358.4 261.1L357 260L356.9 259.8L358.1 259.7L357.6 258.4L357 256.9L359.2 256.8L358.2 255.6L358.6 254.5L358.4 254.9L358.6 253.5L358 253.2L358.4 252.7L359 252.3L358.8 251L358.7 250.5L359.4 249.9L358.5 250.5L358.5 250.8L359 249.1L359.1 247.8L359.9 246.6L358.9 244.8L359.1 244.7L359.2 243.7L359.1 244L359.5 243.6L358.9 242.3L359.3 241.8L358.7 241.7L359.7 240.5L359.6 239.1L360.6 238.5L359.6 237.4L360.4 237L360.6 236.6L360.3 235.5L361.6 236.5L361 234.9L361.6 234.2L362.3 233.8L363 233.9L362.3 232.7L362.3 231.8L363.3 232L363.2 232.7L363.2 233.3L364.1 233.1L363.7 233.4L363.2 235.5L363 237.7L363.7 237.4L365.1 237.4L364.3 238.3L364.8 238.2L364 238.9L364.9 239.5L364.7 240.7L364.3 241.4L364.1 242.5L364.8 243.2L365.1 243.9L364.4 245.9L364.1 245.3L364.9 245.4L365.7 246.8L365.9 246.3L365.2 247.1L364.6 245.2L364.9 245.3L364.1 244.5L365.1 244L365.1 242.7L365.2 241.7L366.4 242.8L367.6 241.7L366.8 240.7L366.8 240.4L367 239.6L366.2 239.9L367.1 239.5L367.6 239.7L367.2 238.4L366.6 236.8L366.3 235.2L366.9 234.2L367.3 233.9L367.9 234.8L368.3 233.9L368.2 233.7L369.1 232.5L368.2 232L369.1 231L368.1 230.5L368.6 229.4L369.8 229.3L368.7 229.1L369.2 227.9L369.6 228.5L368.8 226.7L369.3 226.1L369.2 224.9L368.7 224.3L369.5 223.5L369.5 222.9L368.9 224.3L371 225L370.3 224.7L370.4 225.2L370.2 226.2L371.1 227.4L370.6 229.6L370.8 228.8L371.6 229.1L371.7 230.2L371.9 230.6L371 232.5L372.4 232.2L372.2 232.1L373 233.2L371.9 233.9L372.9 234.6L373.3 235L372.8 235.3L372.7 235.2L372.5 238L373.5 237.4L374.2 239.1L373.6 239.8L373 240.6L374.6 241.7L374.4 242L374.9 242.1L373.6 240.9L374.9 239.7L375.2 240.6L376.2 240.2L374.6 241.6L375.3 242.2L376.1 243.9L375 245.1L375.7 244.8L375.2 245.1L375.4 244.3L375.7 244.7L375.5 246.8L375.9 247.6L376 248.4L376.8 249.1L376.6 249.4L375.9 249.8L375.3 251.2L377.1 251.4L376.5 252.5L376.5 253.2L376.7 255.1L376.3 256L376.2 256L376.7 254.9L376.8 254.8L377 256.8L376.8 257.7L377.5 257.7L377.3 258.8L377.8 258.6L377.4 259.1L377.8 258.8L377.4 260.7L377.1 261.1L378.9 261.6L377.4 262.9L378.1 264.6L378.3 265.7L378.5 266.4L377.8 267.3L377.7 268.4L378.5 269.7L376.8 270.8L378.6 271.3L378.5 269.9L379.8 270.8L378.4 271.9L380 272.7L379.7 273.7L378.6 274.2L379.6 274.2L379.1 273.4L379.3 272.5L380 272.5L379.6 272.7L380.8 271.4L381 270.6L381.1 269.2L381.4 268.5L381.1 267.2L381.4 267.3L381.6 266.5L382 265.4L381.8 265.3L383.4 265.1L383.1 263.8L382.1 262.3L383 262.9L383.6 263.3L385 262.5L384 261L383.6 259.9L383 259.7L384.5 259.8L383 258.9L383 257.2L385.2 256.5L384.5 255.9L385.2 256.2L385.1 255.3L385.4 255.3L386 254.9L386.1 255.6L386.7 254.3L387.2 253.9L387.7 252.8L387.6 251.4L387 251.7L387 252.9L388.1 253.9L389.7 253.5L388.5 254.5L389.1 255L388.5 256.1L388.9 256.3L388.9 257.4L390.3 258.6L389.6 260.1L390.4 259.4L390.7 258.9L389.9 260.5L390.1 261L389.8 261.9L390.8 262.5L390.5 263.7L392 265L391.1 265.7L391.8 265.7L391.4 265.7L390.9 266.4L391.8 267.1L391.9 268.3L392.7 268.3L392.4 269.7L393.6 269.2L393.6 267.8L392.7 265.8L394.2 266.8L393.8 265.9L393.6 264.8L394.9 265.2L395.2 264.4L396 263.7L395.4 262.5L396.5 262.3L396 261L395.1 259.6L396.5 259.7L396.4 260L396 259.2L396.5 259.8L397 259.9L396.6 260.4L396 260.8L396.6 261.7L396.4 262.4L397.2 263.7L397.7 265.2L397.3 265.6L396.3 265.8L398.2 265.8L396.8 266.9L397.5 267.1L398.4 268.4L398.5 268.2L398 266.5L399.3 267.2L400.3 265.9L399.4 265.2L399.5 265.1L400.1 265.2L401.4 265.9L401.2 264.3L401 262.8L401.1 262.1L401.9 261.6L403 259.9L402.1 258.9L401.9 259.3L402.3 257.5L402.8 258L402.5 258.1L401.7 257L403.5 257.3L402.4 257L402.6 255.5L402.4 253.6L402.9 253.3L402.9 251.2L403.6 250.6L403.2 250.9L402.2 250L402.8 249.7L403.3 250.4L403.9 250L403.3 249.7L404.5 248.2L403.3 247.5L403.4 246.9L402.4 246.6L402.9 245.8L403.5 245.2L403.4 243.7L404.4 242.7L403 241.8L404.1 241.4L403.7 240.8L404.1 240.3L403.5 240L404.5 239L404.5 237.9L405.5 238.5L405.6 236.6L405.7 236.9L404.9 236.5L405.8 235.9L406.5 235.7L407.5 234.9L406.6 234.1L407.2 233.8L407.9 234L407.4 232.7L407.8 231.6L408.8 231.7L410.2 233.1L409.3 233.4L409 234L409.2 235.2L408.9 235.6L409.7 236L409.3 236.7L409.7 237.5L410.7 238.6L410.2 239L408.6 239.7L409.5 240.3L410.8 240.2L410.7 240.9L411.1 241.7L411.1 242.3L412 242.7L413.3 243.9L412.4 245.7L412.3 245.6L413.7 246.5L413.3 244.3L413.5 244.6L413.4 245.2L414 245.8L414.1 244.8L414.1 244.1L413.7 242.9L413.3 242.6L414.3 243.1L414.2 242.3L416 241.5L415.6 240.9L414.6 239.7L414.6 239L414.7 238.3L413.5 236.3L414.1 236.4L414.6 236.2L414.5 236.3L414.6 235L413.9 234.5L415.7 235L415.3 233.1L415.9 232L416 232L414.6 231.6L416 231.2L416.8 230.5L416.2 230.1L415.6 227.8L415.4 227.4L417.1 226.1L415.7 225.9L416.4 225.1L416.4 224.3L416.2 223.6L415.4 222.3L416 221.1L416.9 220.8L417.7 220.1L416.8 219.8L418 219.9L417 221.7L417.9 222.2L418.2 222.2L416.3 223.1L417.2 223.2L417.7 225L417.3 226.2L418.1 225.6L417.3 227L417 228L417.2 228.5L417.5 228.7L417.6 229.8L417.1 231.2L417.6 232L418.1 232.4L417.2 233.4L415.6 234.6L418.3 234.6L418.7 235.2L418.5 235.7L418.5 235.3L419.3 236.2L418.4 236.4L418.4 238.5L418.4 239.8L418.7 241.3L419.4 241.5L418.6 242.1L418.2 242.3L417.7 242.9L419.2 243.9L419.7 242.2L418.2 242.6L418.6 244.6L419.4 244.9L418.9 245.6L420.1 246.9L419.4 248L419.6 248L419.7 247.9L419.1 249L419.2 250.3L419.3 251L419.8 251.5L419.6 250.9L420.9 251.9L420.6 253.3L420.1 254.5L420.7 256L421.9 256L422.7 255.6L420.9 253.9L420.1 252.2L420.9 251.4L421.9 250.5L421.4 249.9L422.1 249L421.8 249.5L421.1 248L420.9 247L421.5 247.1L421.4 246.2L421.4 246.2L420.3 244.3L420.9 243.6L421 243.9L422.9 242.7L421.5 241.8L422 241L422.3 240.3L422 240.1L421.5 239.5L421.7 237.7L420.7 237.9L422.5 237.5L422.4 237L422.3 236.9L422.9 236L423.4 236.5L422 234.7L422.6 233.4L422.8 231.9L422.8 231.5L422.8 230.9L422.9 229.8L423 229.4L424.3 229.4L423.5 229.6L423.4 229.4L423.3 229L423 227L423.5 225.9L422.3 224.9L423.9 224L423.6 223.7L424.1 223.1L424 222.1L422.3 222.1L423.2 221.1L424.5 220.4L424.7 219L424.4 218.5L424.1 218L423.9 217.5L424 217.8L424 218.2L424.4 219.1L424.4 220.1L424.6 220.8L424.1 222.1L424.3 222.6L425.1 223L424.8 223.8L426.8 224L425.8 224.6L426.4 226.6L425.2 228.5L425.8 228.3L425.9 229.3L424.8 230.6L426.2 230.1L424.7 230.3L426.8 231.7L427 232.2L425.6 233.6L426 234.2L426.2 234.1L424.7 234.6L426.1 234.7L427.1 235.4L425.9 235.7L427 237.5L426.8 238.1L426.7 239.1L427.3 239.1L427.8 239.9L426.7 242L427.6 243L428.6 243.3L428.6 243.1L429.3 244.4L429.1 244.6L429.2 244.7L429.6 245.4L428.6 246.4L429 246.8L428.5 248.7L429.2 248.4L429.5 248.4L429.7 249.1L429.6 249.9L430.2 250.1L430.1 251L429.2 250.2L431 250.3L431.1 249.2L430 248.4L429.8 248.2L430.3 247L430.5 246.2L431 245L432 246L431.7 246.1L431.3 244.9L431.3 244.4L430.9 242.8L430.2 242L432.6 241.9L432.8 241.6L432.6 241L432.2 240.8L432.9 240.5L433 240L432.6 238.5L432.9 237L432.2 238.3L434 238.2L434.6 238L434.4 237.5L433.9 238.7L434.2 239L434.4 239.9L434.8 241.3L433.9 242.7L433.7 242.2L434.1 242.8L435.1 244.6L434.2 245L433.2 245L433.9 244.7L435.7 246.4L434.5 248.2L435.4 248.3L435.1 249.8L436 250.5L435.4 250.6L436.5 251.4L435 251.8L435.4 252.6L435.2 253L435.6 254.2L436.1 254.7L434.9 256.2L436.3 256.5L437.2 257.2L436 258.2L436.8 259.8L438.1 260.2L437 260.8L437.4 260.4L437.6 263.1L436.5 264.2L438.1 263.6L438.4 263.6L438.8 264L439.3 264.8L439.7 263.8L439.3 266.2L439.7 267.4L440.4 267.7L441.2 269.3L440.5 269.6L440 268.4L440.8 267L440.8 265.9L441.2 265.3L441.2 265L442.6 264.5L441.7 264.8L442.6 263.8L441.5 260.8L440.5 259.3L440.5 260.3L439.7 259.5L441.5 259.6L441.4 259.9L441.6 257.9L441.9 258L441.8 257.6L442.3 258.1L441.9 256.9L441.8 256.2L442.3 255.8L442.2 253L443.1 252.4L443.4 250.8L442.8 251.2L443.3 251L443.4 251.5L443.2 252.5L443.5 253.6L441.9 254.2L443.6 255.8L443.9 255.5L442.6 255.4L444 255.5L444.9 254.7L444.1 253L444.9 253L444.6 253.5L446.7 252.7L445.5 254.5L446.1 254.7L447.1 255.5L448 256L447.7 256.2L447.3 257.6L447.9 257.8L448.4 257.1L449.3 257.2L449.4 257.8L449.1 258.5L449.8 259.4L449.2 260.4L449.9 261.4L450.6 262.4L450.6 262L451.3 260.4L450.4 259.4L451.2 260.4L451.5 259.1L452.3 258.1L452.4 257.1L453 257.4L453.9 257L453.9 256.5L452.9 255L454.4 253.4L454.2 252.7L455.2 253.1L453.2 252.6L454.9 253.4L454.6 251.9L453.6 251.8L453.8 250.5L454.7 250.1L453.8 248.6L454.7 247.8L455.2 247.4L455.5 247.4L455.9 246.7L456.3 248.6L457.1 249.5L457 248.7L457.3 250.3L457.1 251.2L457.5 252.8L457 253.3L457.6 254.4L457.6 255.4L457.2 255.6L457.8 255.8L458.9 256.3L459.5 256.8L459 257.6L459.4 257.8L458.6 259.1L459.3 259.7L460.1 260L459.7 261.7L461 262L461 261.5L461 261.5L462 262.1L461.8 263.1L461.5 264L460.6 265.6L462.5 265.6L463.1 264.8L464.1 264.6L463.8 265.5L463.8 266.3L464.3 267L464.6 267.5L464.7 265.9L465.2 266.1L464.4 266.7L465.4 265.5L464.8 264.2L465.9 263.5L464.3 262.2L465.4 262.1L465.9 261.5L464.2 260.8L465.6 261L465.8 260.2L466.1 260L466.4 261L466.9 261.4L467 262.4L467.4 262.5L467.6 263.6L467.2 264.7L467.8 265.4L468.5 266.2L469.8 266L468.8 266.8L469.1 267L469.7 267.6L470.1 269.3L470 269.8L471 271.4L471.2 271.1L470.7 271.1L470.8 270.2L471.5 269.5L470.9 268.1L470.5 267L471.7 266.3L471.3 265.6L472 264.5L472.3 263.7L472.2 263.6L472.7 262.5L472.2 261L473.1 261.3L473.8 260.1L473 260.1L472.8 259.5L474 259.3L474.1 258.6L474.1 257.7L474.7 256.1L474.8 256.7L475.5 256.8L476.3 256.1L477 256L477.4 256L478.3 257.2L478.8 258.8L478.4 259.4L478.9 260.5L478.9 261.1L479.2 262.4L480 261.6L480.3 262.9L479.8 262.7L480.6 261.9L480.1 260.8L481.8 260.6L481.6 260L481.9 259.4L482.9 260.8L481.9 259.1L482.4 258.5L482.6 257L482.6 257.1L483.5 257.9L484.1 257.3L484.8 256.5L484.6 256.1L484.2 255.7L484.1 254.5L482.9 253.8L483.9 254.7L483.3 253.3L483.6 251.9L483.8 252.3L483.1 250.9L484.5 250.1L484.5 248.9L484.4 248L485.4 248.2L486.2 247.2L484.6 244.6L486 245.7L486 244.3L487.1 245L487.4 243.6L487.8 243.3L487.7 243.5L487.8 242.2L487.4 240.5L487.8 240.9L488.6 240.3L488.6 240L488.8 238.6L488.6 237.5L488.8 238.3L488.6 237.3L489.4 236.2L488.7 235.6L488.9 235.2L488.6 234.1L489.6 233.6L490.1 232.7L490.3 231.4L489 230.8L489.3 228.8L489.7 228.6L488.5 228.9L489.8 227.9L489.9 227.9L489.2 226.3L490.2 226.1L489.7 225.6L489.2 224.6L490.6 223.2L489.9 222.2L491.5 221.8L491.3 222.5L491 220.7L490.9 220L491.3 219.8L491 219.7L492.7 219.5L492.6 218.5L491.9 217.9L492.1 217.1L493 216.7L493.4 215.5L494.1 214.6L493.7 213.7L493.3 212.8L494.1 213.1L494.1 211.7L493 211.7L494.2 211.1L493 210.8L494.7 210.6L493.4 208.9L494.4 207.7L493.9 207.5L494.6 206.7L493.9 205.5L494.7 206.6L494.1 205.4L495.6 204.4L495 203.8L493.8 203.1L494.6 202.9L493.5 202.3L494.2 202L495.4 201.4L495.4 200.7L494 200.3L494.9 198.4L495.2 198.5L495.7 197L496.6 196.9L496.3 198.4L495.8 198.7L495.8 199.4L496.7 200.1L496 201L496.7 201.1L496.4 201.8L496.3 202.3L496.4 202.7L497 204.2L496.7 205.7L497 206.6L497.4 206L497.4 207.5L497.5 207.8L497.4 206.8L496.9 205L497.9 204.5L498 205.4L498.2 204.5L498.6 203.9L497.3 203.5L498.5 202.5L498.7 201.9L499 201.4L499.1 200.6L498 200.8L497 199.1L498.5 198.2L497.7 197.9L498.6 195.6L499.3 195.6L498.9 195.5L499.4 194.7L498.7 194.3L500.2 194L499.4 193L498.5 192.4L498.6 192L499.5 191.2L500.1 190L499.4 189.6L500.1 188.2L499.3 188.2L498.1 187.6L498.6 186.1L499.8 186.1L499.8 185.4L500.9 184.9L500.7 183.9L499.4 184.3L499.9 183.4L500.5 183.1L500.2 183.7L500.5 183.9L501.8 184L501.9 182.9L501.8 181.4L501.5 181.1L501.6 181.1L500.6 179.7L502.1 179.8L501.1 179.3L502.2 177.3L502.4 176.5L502.4 175.9L502.8 175.8L503.5 175.3L502.9 173.9L502.2 173.3L502.1 173.4L503.3 172.9L503.5 172.9L504.2 174.3L503.3 175.3L504.3 176.1L504.8 176.7L504.5 177L504.4 178.4L504.8 179.3L505.7 179.5L505.1 179.9L504.4 180.3L503.8 180.2L505.1 179.9L503.8 179.1L504.5 177.1L504.5 176.1L505.7 175.7L505.8 174.4L506.8 174.2L506.9 174L507.4 174L506.3 173.2L506.6 172.7L506.2 172.4L506.1 171.2L506.3 169.7L507.1 169.7L506.3 169.8L507.1 168.4L505.8 167.2L506.8 167.4L507.1 167.1L508.4 166L508.3 165.5L506.9 165.6L507.1 163.5L506.3 163.7L506.1 163.4L506.5 162.8L507.9 162.4L508 161.9L507.9 160.5L507.9 160.1L508 158.5L508.4 158.6L508.5 157.7L507.3 157L507.6 155.6L507.5 154.5L507.8 153.2L507.5 153.5L508.1 151.9L509.5 152L508.1 149.8L509 150.2L509.7 149.4L509.3 148.6L509.6 146.9L510.3 146.1L510.1 146.2L510.9 145.8L508.5 144.6L508.8 143.7L510.3 142.7L510.1 142.3L509.8 142.5L510.2 142.4L509.3 140.6L509.4 140.7L509.8 140.1L510 139.8L510.1 139.1L510.4 137.8L508.9 137L510.9 137.4L509.5 136.2L510.2 134.4L510.4 133.4L509.7 132.9L511.7 131.9L510.8 131.6L511.8 131L511.6 130.2L512.8 130L512.1 128.9L511.5 127.6L511.5 126.7L512.5 126.2L512.7 125.8L511.7 125.7L511.3 124L511.6 123.9L511.7 123.8L511.6 123.2L512.2 121.8L511.9 121.3L511.6 120.5L511.8 119.6L510.6 118.7L513 118L511.9 117.7L511.6 116.5L511.1 114.9L510.8 114.6L511.7 115.1L512 114.1L512.4 113.1L513.3 113.6L513.6 114L513 114.4L513.6 114.2L513.9 115.3L514.1 116.1L514.9 115.8L515.7 115.9L516.5 115.5L515.9 115L516.1 114.3L516.4 113.5L515.3 112.9L516.1 112.1L517.3 111.6L517.2 110.4L516.2 110.7L516 110.1L516.7 108.9L516 108.3L516.7 107.3L516.8 107.1L517 105.6L517.2 105L518.1 105L518.1 104.1L517.4 102.5L518.2 101.5L517.8 100.3L517.3 99.7L518.5 99.9L518.1 99.2L518.4 99.5L519 98.9L518.2 98L518.2 96.5L518.8 97.3L517.9 95.8L517.8 94.8L518.9 93.9L519 93.4L518.2 93.7L519.2 92L519.3 91L519.1 91.1L519.2 90.5L519.6 89.4L519.2 88.5L518.6 88L519.1 86.2L519.4 87.3L518.5 85.8L519.4 85.4L518.9 84.2L519.5 84L519 83.5L519.2 81.4L519.7 81.8L520 79.7L519.6 79.9L519.5 80L518.1 78.2L518.7 77L519.8 75.7L518.8 75.8L519.2 74.1L519.8 73.5L519.3 73.3L519.8 72.6L518.8 71.8L519.2 71L519.6 70.7L519.5 70.2L519.9 69.7L520.4 68.2L519.3 68L521.5 66.6L520.4 65.9L520.2 66.1L519.8 66L520.5 65.3L520.2 64.3L520 62.2L520.2 61.5L520 61.1L519.9 60.2L519.9 59.3L519.5 59L519.8 59.2L520.1 60.5L519 61L520.1 61.6L520.9 61.8L520.1 62.5L520.2 63.5L521 63.3L520.9 63.8L519.7 64.8L520.6 65.7L520.9 66.1L520.3 67.5L522.4 68.1L520.6 68.9L519.4 70.8L521.2 71.1L521.5 71.3L520.7 71.8L520.9 72.4L520.7 74.2L522 74.7L520.8 75.6L520.8 76.9L521.9 77.1L522 77.5L522.9 78.2L521.4 77.2L521.8 77.2L522 78.8L521.1 79.8L522 81.1L521.2 82.3L522 82.3L522 83.1L523.1 83.5L521.4 84.6L521.8 84.7L522.8 85.5L523 86L522.1 85.4L522.4 83.5L521.9 83.2L522.5 81.1L523.8 80.2L523.7 79.9L523.7 79.5L523.5 79.6L523.4 78.8L522.9 78.8L523.1 77L523.5 76.3L523.4 75.2L524.1 75.3L525.1 74.8L524.1 74.1L524.5 73.2L524.1 72.1L524.9 72L524.2 71L525.1 69.7L524.6 69.8L525.4 68.8L524.4 69.3L524.1 68.4L525.4 68.1L524.2 66.7L525.1 65.2L524.3 65.4L523.9 66.9L525 68.9L523.8 69.5L524.4 70.5L525.7 69.7L524 70.2L523.9 71.1L523.5 71.5L525.2 72.2L524.2 71.9L525.1 73.4L524.8 74L524.9 75.1L524.9 75.8L524.1 76.9L525.3 77.2L525.5 77.9L526.3 77.4L525.7 78.4L525.6 79.5L525 80.6L524.9 81.1L525.7 82.5L525 82L525.5 82.2L526 83.5L525.9 83.3L524.9 84.7L526 84.9L526.2 85.4L525.9 86.8L525.9 88.2L526 89.8L525.3 90.8L526 91L525.8 91.3L526.9 90.9L525.9 92.4L526.7 93.4L526.4 94L527.2 94.9L526.5 95.9L526.6 95.9L525.1 96.3L526.8 97.3L527.1 97.6L527.4 98.1L526.7 99.5L527 100.5L527.3 100.6L527.6 100.4L527.4 101.1L527.5 101.9L527.3 102.8L526.4 103.8L527.1 102.7L527.8 102.5L526.1 104.1L528 103.6L527 105.7L527.3 107L527.4 108.5L527.6 109.2L528.2 110.2L528.6 110.7L527.4 110.6L527.2 111.2L526.9 111.9L527.8 112.2L528.6 113.1L529.1 115.1L527.9 116.3L527.4 117.6L528 117.3L528.5 118L528.2 118.3L528.4 118.5L528.7 119.5L528.8 120.3L529.7 120.2L528.1 121.5L529.1 123.4L528.5 123.8L529 124.8L528.3 125.6L528.6 126.1L527.9 126.7L529.6 127.6L528.9 128.4L529.8 128.6L530.3 127.3L528.5 126L529.4 124.9L529 124L529.4 123.4L529.3 122.7L527.5 121.4L529.6 121.7L530.2 121L529.1 120.4L529.2 119.8L528.6 119.4L529.2 118.6L528.2 116.6L529.9 115.7L529.8 115.6L528.3 115.8L529.3 114.5L529.1 114.1L529 113.6L530.4 113.3L529.8 112.8L530.8 112.3L530.9 111.8L530 110L530.1 108.2L530.1 107.4L531.1 106L530.2 105.8L530.6 103.9L529.6 103.6L530.7 104L530.3 104.3L530.7 103.8L532.1 102.5L531.6 103.3L530.8 102.7L531.3 101.3L530.7 100.6L530.2 100.4L530.4 99.4L530 98.6L530.3 98.1L530.8 96.8L531.9 95.5L531.4 94.4L530.9 94.7L530.8 93.7L531.1 94L530.7 93L530.3 91.8L530.7 91.4L531.1 90.2L530.5 90.2L531.2 89.5L531.3 89.1L531.6 88.5L531.7 86.8L531.3 88.5L532.2 89.5L532.3 89.7L531.4 89.8L532.6 90.6L531.9 90.8L532.7 92.1L532.3 92.5L532.9 93.7L532.1 94.3L531.2 95L532.6 94.6L532 94.5L531.7 95.8L532.3 97.2L532.3 98.6L532.9 98.6L531.3 99.6L531.1 99.9L532.3 100.5L532.5 100.7L531.9 100.8L532.8 101.1L533.6 102.7L533.3 102.8L532.4 104.3L532 104.7L532.8 104.4L531.8 105.1L533.1 106.2L533.4 107.3L532.9 108.1L533.3 109.7L533.4 109.8L534.6 110.5L534.6 110.4L534.1 111L534.8 111.4L535 113.4L534.3 114.3L534.1 115.3L535.1 115.5L534.1 116.7L533.7 116.5L535 117.4L535.5 117.9L535.4 117.9L534.2 118.9L534.9 120.1L534.4 119L535.4 119.1L534.6 118.6L535.6 118.1L535.4 117.4L535 116.1L534.7 115.2L535.5 114.7L536.8 114.4L536 112.4L535.6 111.2L535.1 111.4L535.3 111.4L535 111.5L536.7 111.5L536.3 110.1L536.3 109.2L537.5 109.3L535.9 107.9L535.7 107.3L535.9 106.3L537.1 105.6L536.7 104.8L536.9 103.1L537 103.4L537.4 102.3L537.1 102.8L536.2 100.2L536.9 99.5L536 98.7L537.4 98.9L537.9 98.1L538.2 97.5L538.3 97L537.6 95.9L536.9 95.2L537.9 94.3L536.6 93.1L537.5 93.2L538.6 92L538.3 93L536.8 91L537.6 91.2L537.3 90.7L536.8 89.8L537.5 88.7L539.2 86.9L538.5 86.4L538 86.4L538.6 85.8L538.5 85.3L537.8 85.2L537.5 82.7L538.3 82.3L538.4 81.4L538.5 80.8L539 80.2L539.2 80.5L539.4 81.1L539.5 82.4L539.9 82.7L539.9 82.8L539.8 83.1L540.7 84.1L540.6 85.4L541.4 86.6L541.4 87.8L541.2 89L541.1 88.7L541.5 89.8L541.7 89.6L541.5 89.5L542.4 89.6L542.9 91.7L542.8 93.3L543.1 94.2L542.2 94.7L543.6 96.1L543.6 95.5L543.1 96.2L544.7 97.3L543.6 97.4L542.8 97.1L542.1 98.5L543.8 99.7L543.1 100.3L543.9 100.1L544.6 100.1L545 101.7L544.8 101.8L543.1 102.8L543 104.4L544.9 105.7L544 106.6L544.1 106.4L545 106.5L545.4 106.8L544.7 107.1L544.3 108.1L545.3 108.3L544.8 109.7L545.5 111.3L545.8 111.5L544.3 112.3L544.2 113.3L545.4 114.1L545.5 113.5L545.3 114.9L546.3 114.9L546.7 116.1L545.3 117.3L545.4 117.7L544.6 117.4L545.4 117.8L546.1 118L545.4 118.8L545.3 120.1L546.1 121.6L546.4 122.3L544.8 124L545.9 124.4L545.7 122.9L545 122.7L545.7 122.1L545.7 120.9L547.1 120.7L545.9 119.8L545.3 119.5L546.3 118.5L546.4 117.7L548.1 116.7L547.7 116.5L547.5 115.6L546.8 114.8L547.6 113.6L547.2 112.8L547.4 112.7L546.3 112.5L546.9 111.5L547.8 110.8L547.6 110.9L547.8 110.3L547.8 109.2L548.7 108L547.9 107.2L548.9 106L547.8 105.5L548.1 105.7L548.5 106.3L548.1 103.8L548.9 104.2L548.9 102.7L549.4 103.3L547.9 102.1L549.4 100.7L549.6 99.9L550.1 99.4L549 98.5L549.9 99.2L548 100.6L548.7 100.7L547.9 101.8L550 102.6L549.7 102.6L549.9 102.9L551.3 102.9L550.6 103.6L550.4 104L550.8 105.5L551.1 106L551 107.3L550.8 108L552 108.4L552 108.4L551.9 109.7L551.8 111.3L551.2 112.8L552.6 113L551.9 113.3L552.2 113.5L552.1 114.4L552.4 114.6L552.6 115L553.3 116.3L554.1 117.2L552.3 117.4L553.4 117.7L553.3 116.3L552.7 117.2L552.5 117.9L553.1 119.2L553.8 117.9L553.5 118.1L553.3 118.3L552.4 117.1L552.5 117.5L552.8 115.2L552.8 114.8L552.9 114.8L551.9 115L552.3 114.3L552.7 113.7L552.6 111.7L553.5 110.7L553.7 110.6L554.7 110.1L554.8 109.8L553.6 108.6L554.2 107.7L553.6 107L553.4 106.3L554.1 105.3L554.3 106L554.2 105.4L554.1 105.7L554.6 104.3L554.1 103.2L553.8 102.7L554 102.2L553.4 101.3L554.3 101.5L554.7 100.2L555.3 98.9L554.8 97.2L553.8 96.8L554.5 95.9L554.8 94.5L555 94.3L554.9 94.3L554.7 93L554.9 92.7L554.6 91.9L554.3 91.9L554.9 90.6L555.6 89.9L555.7 89.1L555.7 89.6L557.4 88.9L555.5 87.9L556.1 86.2L555.4 86.1L555.6 85.1L555.5 84.9L556 85.7L555.5 83.3L555.8 82.6L555.6 82.2L555.7 80.6L556.7 80.4L556.7 79.5L556.4 79.3L555.5 77.8L556.6 76.3L556.5 76.5L556.7 75.6L555.9 75.4L556.6 76.3L557 75.3L557 73.9L556.8 74.4L556.3 73.6L556.9 71.7L558.8 72.5L558.1 71.4L556.6 70.2L557.8 69.1L557.2 67.8L557.4 67.3L558.4 67.3L558.5 66.8L558.6 65.4L558.2 65.6L559.7 65.5L559.2 64.3L559.7 63.8L561.1 63.5L559.2 62.9L560.5 62L560.3 61.1L560.7 59.3L559.8 58.6L560.5 58.5L560.7 57.8L560.2 57.7L560.8 58.6L560.5 59.3L560.7 60.4L560.2 61.5L558.9 62L560.5 62.5L560.5 62.2L560.7 63.5L562.3 63.9L560.9 65.1L560.5 66.5L560.7 67.5L562.2 67.8L561.5 67.6L561.4 69L560.6 69L561.3 70L561.3 70.4L561.3 70.7L562.1 72.1L560.6 73.4L560.8 74L561.5 74.7L562.9 75.6L563 76.6L562.8 77.8L561.6 78L562.5 79.3L563 80.1L562.3 80.2L563.4 80.4L561.2 81.6L562.2 81.9L563.1 81.9L563.6 83.4L563.3 82.2L562.8 83.5L562.9 84.9L563.1 84.3L564 83.3L563.8 82.6L563.7 82.4L563.8 82.4L564.7 80.3L563.1 79.3L564.2 80L565.3 79.7L564.1 79.2L565 78.3L565.5 78.4L565.7 77.6L565.6 77.2L565.1 76L566.1 74.9L565.4 73.5L566.2 73.7L565.7 72.7L565.9 71.5L566 71.3L566 70.6L566 69.3L566.6 68.5L566.7 68.8L567.4 69.8L568 69.6L567.6 67.9L568.4 66.5L568.3 66.4L568.1 65.5L569 65.2L569.7 64.9L569 66.1L570 66.1L569.9 66.9L570.7 67.6L569.8 68.4L569.6 69.6L570.7 68.9L571 68.9L569.9 70.2L570.9 71.4L570.1 71L570.3 72.5L571.2 74.2L572.4 74.6L572.3 75.7L571.2 76.4L572.1 77.4L571 78.1L571.2 78.3L571.9 79.9L571.7 80.5L572 81.4L573.3 82.6L572.9 83.6L571.2 84.8L571.9 86.6L572.2 86.8L570.7 86.8L571.2 88.2L571.8 88.4L572.5 88.1L572.8 87.3L572.6 86.9L572.2 85.2L573.3 84.8L573.7 84.6L572.6 83.2L573.5 82.6L573.5 81.6L573.8 80.8L575.5 80.4L574.8 80.4L573.9 79.2L573.9 78.9L575.1 78.2L576.2 79.3L575.1 79.3L575.2 80.1L574.2 81.4L576.3 81.1L575.3 81.6L576 81.4L575.9 82.8L575.7 84L576.3 83.7L576.3 85.3L576.1 85.6L575.2 87L575.4 87.7L577.1 87.1L576.2 89.5L576.6 90L577.3 91.1L577.7 91.4L576.3 93.2L577.1 93.3L576.3 93.7L577.2 93.9L577 94.7L577.3 96.2L577.7 96.9L577.1 97.1L578.2 98.1L577.9 99.4L577.2 100L577.4 99.6L577.9 100.5L577.9 101L576.9 102.2L577.8 103.6L577 103.9L578.4 103.9L577 104.5L578.2 105L577.6 106.1L577.5 106.8L577.3 107.3L577.7 107.8L577.1 108.8L578.6 109.2L578.2 110L579.1 110.8L578.7 110.3L579.6 110.3L578.2 111.2L579.7 110.5L580.7 111L579.8 112.1L580.2 113.8L580 114.3L580.7 114.2L580 115.6L580.4 115.5L579.3 116.6L580.9 115.7L581.4 117.5L581 118.4L581.5 119L582 118L581.7 119.3L582.8 120.2L583 120.3L582.6 121.3L582.6 122.6L582 123.3L582.5 124L582.3 125L582.8 125.7L582.7 126.8L581.5 127.7L582.7 128.7L582.8 128.3L584.5 127.6L584.1 128.6L584.4 130L583.8 131.2L584.6 130.8L584.1 132.4L583.9 133.4L585.2 133.8L584.4 134.9L584.3 136.3L585.4 134.8L584.6 133.4L584 132.7L584.3 131.4L584 131.3L584.5 130.2L585.5 128.7L585.3 128.1L584.9 127.1L585.8 126.4L584.5 126L585.4 125.6L586.4 125L584.6 123.4L585.5 123L586.3 123.3L586.2 122.2L585.1 120.9L585.9 120.9L585.6 120.9L586.7 119.9L585.7 118.8L585.2 117.5L586.3 116.4L586.7 116.1L586.4 115.2L587.6 114.1L587 113.5L587.1 113.5L586.9 112.8L587.5 111.4L586.8 110.8L587 110.7L587.4 110.5L587.3 110.2L587.9 108.8L587.9 109.8L587.4 107.4L587.3 107.4L588.5 105.5L587.1 106.1L587.6 105.6L587.8 104.5L588 105.4L587.9 105.7L588.6 106.1L587.5 105.9L588 105.8L588.3 107.5L588.7 108.5L588.5 110.3L588.2 111L588.9 111L589.2 111.2L589.6 112.4L590.4 113.6L589.7 114.3L590.2 114.5L589.7 115.3L589.6 116.1L589.7 116.9L590.5 118.1L590.3 118.5L590.1 119.3L591.4 118.9L590.3 119.6L590.5 121.7L589.5 121.6L589.5 121.7L589.7 122.8L590.8 123.8L590.6 123.9L590.9 123.5L590.6 125.1L589.8 125.3L590.3 126.6L591 127.3L589.3 128.9L591.7 128.6L590.6 128.8L591.5 129.3L591.4 131L591.3 130.7L591.1 131L592.7 130L592.7 129.5L591.6 127.4L592.1 126.6L592.3 126.4L592.4 124.5L592.5 124.3L592.4 123.2L592.1 122.3L591.1 122.3L591.5 121.4L591.7 121.5L592.8 121L592.2 120.7L591.9 120L592.7 119L593 117.3L593.6 116.6L592.7 115.3L592.2 114.9L592 114.4L593 113.8L593.9 112.8L592.6 113.3L593.8 113.6L593 111.4L593.7 110.2L592.6 110L594.5 109.3L592.8 107.9L593.2 106.6L593.4 105.3L592.8 105.1L593.3 104.4L594.2 104.3L593.5 103.8L593.2 103.6L594.5 103.7L593.7 102.8L593.4 102L594.7 100.9L594.5 100L596.5 99.3L594.7 97.8L594.2 97.7L594.2 96.7L594.7 95.3L595.3 95.9L595.9 96.1L596.1 95.2L595.8 94.7L596.2 93.9L597.5 93.5L596.9 92.4L596.9 91.1L596.8 90.9L596.8 91.1L596.6 90.1L596.3 89.2L596.8 88.9L597.1 88.2L597.7 88.9L597.2 89L596.7 90.5L596.9 90.6L596.1 90.3L597.9 91.5L597.6 92.7L598.1 93.7L597.2 94.4L598.2 95.5L597.4 96L598.2 96.2L598.7 96.3L598.4 98L598 98.3L598.8 99.2L599.7 99.4L598.5 99.8L598.7 100.1L597.3 100.9L599.1 101L599.7 101.8L598.9 103L598.1 104.4L599.8 105.6L599 106.3L599 107.1L599.6 107.7L599.1 108L598.7 109.7L600 110.7L599.5 111L599.2 111.3L599.3 110.7L599.6 112.7L599.2 113.9L599.1 114.2L600 115.4L600 116.3L600.1 116.6L600.1 117.2L600.6 117L601.4 116L601.1 114.2L601.1 113.9L601.6 113.4L601.7 113.1L601.5 112.6L602.1 112.4L602.2 112.2L602.4 111.4L601.2 109.4L602.1 108.9L602.5 108.4L603.6 108.2L602.3 107.4L601.5 106.2L602.7 106.6L602.5 105.2L601.8 104.3L603.1 103.1L602.8 102.8L603.7 102.3L604 100.8L604.7 100.8L605.1 100.9L604.9 102L604.9 103.1L605.9 103.5L605.9 104.1L605.7 105L606 104L605.8 106.4L606.5 107.1L607.3 107.8L607.6 106.1L608.1 106.5L609.2 106.8L609.2 106.4L608 105.3L608.5 103.8L607.2 102.6L608 101.5L607.6 100.5L608.6 100.9L608.7 100.3L607.6 98.3L609.7 97.9L609.7 98.3L608.4 97L608.5 95L609.2 95.1L610.1 93.9L610.1 93.7L609.1 93.5L609.1 93.1L608.3 92.1L609.5 91.8L608.8 91.2L609.2 90.3L609.6 89.1L610.2 88.7L609.6 88.6L609.3 87.4L608.9 87.4L610.6 86.5L611 86L610.4 84.3L611.1 83L610.9 83.2L611 83.6L610.7 82.2L609.6 81.3L611.4 81.2L611 79.9L611.2 79.4L611.1 78.6L611 77.7L611.4 77.1L612.2 75.6L611.8 75.4L611 75.3L611.3 74.9L611.9 74.9L612.8 73.2L612.7 72.2L611.7 71.4L611.3 72.2L612.9 73.1L613.1 72.9L612.1 74L611.2 74.8L611.4 75.3L610.7 76.2L611.1 77.1L611.2 78L612.6 78L612.5 78.3L610.8 79.5L611.1 80.5L612.6 80.9L612.5 81.8L613.1 83.7L612.5 83.8L613.3 84.9L611.4 85.3L612.5 86.9L613 86.7L612.7 87.6L613.2 88.5L612.7 88.7L613.6 90.2L612.5 90.2L611.8 90.2L612.5 92.4L613.2 91.6L613.2 90.5L614.1 91.1L614.4 89.3L613.4 88.5L613.8 88.9L613.6 89.8L612.6 88.3L614.7 87.5L614.5 86.3L615.4 85.7L613.7 84.2L612.7 82.9L613.3 82.8L614 80.7L614 80.8L616.4 79.8L614.6 78.1L614.6 78L615 78.5L615 79.5L614.7 77.8L613.8 76.9L613.8 76.3L613.6 75.2L613.8 75L614.1 74L614.2 73.4L614.3 71.6L614.2 70.9L615.1 70.1L616.4 69.8L615.5 68.9L614.9 67.5L615.1 67.8L615 67.9L615.8 67.6L615.3 67.5L615.1 65.6L614.1 64.4L614.1 63.6L615.2 63.8L614.8 63.1L615.3 62.2L614.6 61.1L614.8 61.2L615.7 60.7L615.4 59.4L616.4 59.1L616.3 58.2L615.8 56.5L616.6 56L616.4 55.3L616 54.2L614.3 53.6L616.3 53.5L616.3 52.6L615.3 51L617.1 51.6L616.8 50.1L617.1 49.6L615.9 49.3L615.8 48L614.5 48.2L616.7 46.8L617.3 46.4L616.8 46.4L616.7 45.9L617 45.8L616.9 44.5L616.7 45.7L616 45L616.9 43.9L617.7 46.1L618.1 47.6L617 48.2L617.9 49.1L617.4 51.1L617.1 51.1L616.9 52.2L617 52.9L618 52.6L617.8 53.2L617.6 53.1L618.9 53.4L618.6 53.8L618.2 54.9L618 54.9L617.6 55.8L617.8 57.4L617.9 56.6L617.5 56.1L617.8 55.4L617.4 54.8L617.5 54.2L618.1 52.5L617.9 52.9L618.8 52.5L618 52.6L618.9 51.2L618.7 50.2L618 50.4L617.1 49.4L618.3 48.7L618.9 47.7L619.3 46.5L620.2 46.1L619.2 44.7L618.8 44.4L618.8 43.7L619.1 42.8L619.4 42L619 40.9L619.3 40L619.7 40L620.1 40.1L620.1 39.4L620 38.5L619.9 37.9L618.8 37.4L620.2 36.2L620 34.9L619.7 33.9L621.4 33.1L621.1 32.3L620.8 31.2L621.2 31.2L621.6 30.5L621.5 29.6L621.3 29.7L621.4 28L620.7 27.5L621.5 26.9L621.2 26.8L620.7 27.2L622.1 27L621.1 28.1L621.6 30.1L622.3 32.1L621.6 31.6L622.1 32.1L621.7 32.9L621.3 34.6L622.3 34.4L622.3 34.7L621.6 35.4L622.7 36.8L621.9 38.1L623 37.7L623.1 38.3L622.9 39.7L622.7 39.7L622.7 41.5L623.4 43.1L623.7 43.2L623.1 43.9L622.3 44.5L622.3 44.5L622.9 44.9L622.6 45.6L623.7 46.5L623.8 47.1L624.4 47.8L624.1 47.9L623.3 47.7L624 47.7L624.1 49.3L626 49.5L624.6 50.8L624.9 52.2L625.6 52.9L625.4 53.6L625.9 54.1L625.1 54.3L625.9 55.3L627 55.3L626.9 56.4L626 57.5L626.7 58L626.6 58L626 60.8L627.1 61.5L625.8 62L626.3 62.6L625.3 62.4L626.2 63.2L626.9 63.8L626.8 62.8L627.9 63.4L627.4 62.1L628 61.3L627.6 61L627.5 60.2L627.1 59.7L627.6 59L628.1 58.1L629.2 58.1L629.2 57L629.5 56.4L628.8 55.1L629.8 54.2L629.6 54.6L629.7 53.7L630 53L629.2 52.3L629.7 51.3L632 51L630.7 50.5L629.9 49.8L630.3 49.3L631.5 48.1L631.9 48.2L632.7 47L630.9 46L632 45.5L631.9 44.9L631.9 44.6L631.9 43.4L631.6 42.8L630.8 42.1L632 42.4L631.8 40.7L630.9 39.8L632.3 38.8L633.5 38.8L631.5 39.4L631.9 40.3L633 40.6L632.5 41.6L633.9 42.4L632.5 43.4L634 42.2L633.3 42.7L633 44.6L632.2 45.4L633.1 45.8L633.3 46.9L633.4 47.8L633.2 49.1L633.3 49.8L633 50.2L634.1 50.9L633.1 51.1L633.6 51.8L634.1 52.5L633.3 53.4L633.8 54.4L634.3 55.3L633.1 56.1L633.7 57.3L633.4 58.4L633.3 58L632.9 58.7L633.1 59.1L633.2 58.4L634.9 59.8L633.9 61.3L633.8 61.2L633.6 62.6L634 63.7L633.4 64.1L634.3 65.7L633.8 66.5L634.7 66.7L634.2 66.1L635.4 65.8L635.4 64.7L635.4 63.6L635.3 62.9L635.4 62.3L635.7 61.7L636.4 61L636.7 60.3L636.2 58.7L636.2 58.9L636.8 58.4L637.1 57.1L636.9 57L637.4 56.3L637.4 54.9L637.5 54.7L637.3 54.1L637.2 53.3L637.4 53.3L637 52.2L637.5 51.1L637.6 49.3L637.7 48L637.3 48.5L637.6 48.7L637.6 51L637.6 51.3L638 52.2L638.3 51.9L638 53.4L637.9 53.9L638.9 53.8L639.6 54.8L639.2 55.2L638.8 55.6L638.7 56.6L639.5 57.5L639.2 57.7L639.1 58L639 59.4L640.1 58.9L639.3 59.6L639.2 60.8L639.6 61.8L638.5 62L639.7 61.6L638.6 63.8L639 66.1L639.2 66.1L639.4 67.4L639.9 68.5L640 68.1L641.2 69.2L641.1 69.8L642.1 69.5L641 70.2L640.7 70.6L640.3 71.4L640.8 72.8L640.9 73.5L641.3 73L641.5 73.5L642.6 73.4L641.8 72.1L642.5 71.1L642.5 70.1L642.6 68.5L641.1 68.1L643.1 67.8L642.7 66.9L642.6 65.2L643.3 66.5L643.5 67.2L643.5 67.7L643.2 68.9L643.4 68.9L642.8 69.5L643.1 70.3L642.7 70.4L643.7 72.4L644.6 72.9L644.1 72.3L644.1 72.8L645 72.7L643.6 74.2L644.6 74.9L643 76.1L645.4 75.9L643.9 76.5L644.6 78.5L644.7 79.6L645.1 79.8L643.7 79.5L644.6 81.2L643.6 82.5L644.5 82L644.8 83L644.7 83.2L645.2 84.9L643.9 85.3L644.3 86.4L645.1 86.2L645.9 86.8L645.3 88L645.6 89.1L646.4 89.1L645.7 89.7L645.8 91.5L645.2 92.3L645.6 92.3L645.8 93L646.4 92.4L647.1 91.6L647.6 91L648.2 89.3L647.1 88.8L648.5 88.3L648 86.9L649.8 85.9L648.8 84.6L648.1 85.7L650.1 84.9L649.8 83.9L649 83.3L648.8 82.4L648.3 82.3L648 82.7L648.9 83.3L649.8 83.4L649.6 84.5L648.5 86.8L649.9 86.3L649 87.8L650.3 88.6L651.2 89.7L651.2 90.5L650.1 91.5L650.3 92.3L650.8 91.8L650.2 92.7L651.2 92.7L650.8 92.5L650.1 94.6L650.8 95.7L650.6 96.7L650.9 97.3L649.9 97.8L650.5 98.8L651.2 99.7L652.1 101L651.5 102L651.3 102.1L650.9 103.4L651.7 103.1L651.3 103.9L652.1 104.1L652.6 104.4L652.1 105.2L653 106.3L654.2 106.5L653.7 108.3L653.2 108L653.1 109.5L653.1 110.4L654.4 111L653.7 112.8L653.8 113L654.8 112.2L654.8 113.9L653.6 113.8L653.8 114.4L654.3 115.6L654.6 116.8L654.1 117.2L654.4 117.5L655 118.3L655.2 119.8L656.2 119.8L655.5 120.5L656.2 122.1L656 121.4L657.1 120.7L657.3 122.2L656.9 122.9L657.9 123.5L657.8 124L656.6 125.6L657.4 126.5L656.5 127.2L656.7 127.7L656.4 128.5L656.7 129.4L656.5 130.2L658.1 129.6L657.7 130.1L657.9 130.4L657.6 130.7L658.9 131.8L658.4 133.1L657.5 133.8L658.6 134.2L658.4 135.5L659.4 136.1L658.8 137.2L659 137.6L660 139.2L660.6 140.1L659.8 140.4L659.5 140.3L659.5 141.2L659.5 141L660.6 141.6L659.8 142.7L660.9 141.9L660.4 142.4L660.3 144.1L659.6 145.1L660.6 144.7L661.8 146.4L661.2 145.7L661.1 144.8L661.5 145L661.3 144.1L660.9 143.2L661.8 143.1L661.9 142.5L662.4 141.7L662.9 141.5L663 139.5L663.8 139.9L663 139.2L662.8 139L662.7 137.4L662.8 136.7L663.4 135.9L664.3 136.7L663.5 135.3L663.9 134.4L664.2 132.9L663.8 132.4L663.6 131.7L663 131.8L663.9 132.1L663.9 130.3L664.2 128.9L664.3 127.7L664.6 127.4L664.9 127.8L664.3 128.5L665.9 129.2L666.2 127.6L667.2 127.4L665.5 126.4L667.2 125.8L666.2 125.9L666.3 124.5L666.5 124.7L667 124.3L666.9 123.8L667.2 123.5L666.9 122.4L667.5 121.4L667.9 120.2L668.5 120.2L668.5 118.5L668.2 118.6L667.5 117.4L667.1 116.2L668.3 116.1L668.5 115.8L668.3 113.8L668.9 112.6L670.5 112.2L670.4 112.4L669.3 112.2L669.7 111.8L670.6 111.8L671.2 112.3L670.6 113.9L670.3 115.9L671.1 116.4L671.1 117L671.3 117.3L671 118.9L671.8 120.1L672.4 120.3L672.6 120L672.1 120.3L672.7 120.7L674 121.5L672.6 122.2L673.1 122.8L672.6 123.1L672.7 123.7L673.3 123.8L672.2 125.1L672.6 126.5L673.7 127L672.9 126L673.9 125.9L673.7 126.1L673.8 124.7L675.6 125.4L675.3 122.9L675.7 121.5L674.7 121.5L674.7 121.1L674.7 120.4L675.7 120L675.5 119.1L675.3 120.3L676.2 120.7L677 121.2L676.2 122.3L675.8 123.3L676.6 123L676.9 123.5L677.5 124.7L678 124.5L677.9 126.6L679.3 126.8L678.3 127.1L677.8 127.9L678.4 128.2L678.7 129.1L678.9 130.4L679.1 130.5L678.4 132.9L679 132.5L679.7 133.1L678.5 133.5L678.6 133.3L680.1 134L679.5 135.5L679.2 137.4L679.5 137.4L679.8 138.6L680 139.8L679.7 139.8L679 140.1L679.8 141.3L679.3 142.2L679 142.4L679.9 143.1L680.3 142.6L680 143.6L680.2 144.4L680.6 145L680.7 145.5L681.4 145.6L680.2 147.2L680.7 148.6L681.1 149.7L679.3 150.7L681 150.9L681.6 151L681 151.1L682.6 151.4L681.2 152.2L681 153.4L681.9 154.1L681.1 155L681.9 155.5L682.3 156.4L681.8 157.7L681.8 158.4L682.8 158.1L683.1 159.1L683.1 159.5L683.3 160.5L683.8 161.9L683.3 162L683.8 162.3L683.1 163.9L682.5 164.4L681.8 165.9L682.9 166L683.1 165.9L684 166L684.6 168L683.7 167.6L684.9 168.1L683.8 169.3L684.3 169.4L684.3 170.2L684.5 171.9L684.2 171.1L685.3 170.4L683.8 171.7L684.3 172.5L683.6 173.8L684.6 174.6L684 173.9L684 174.6L684.6 174.2L685.5 173.5L684.5 173.2L685.3 171.9L685.8 169.6L685.4 169.5L685.8 169.2L686.2 168.3L686.2 165.4L687.2 164.1L686.4 164.7L685.6 164L686.1 163.2L686 163L685.2 163.4L686.5 163.4L688.1 163.3L686.3 161.8L686.2 161.3L685.7 160.3L687.6 160.2L687.5 158.3L686.3 158.7L687 158L687.2 158.6L686.9 160L687.6 160.2L687 161.8L688.4 161.6L689 162.5L689.2 163.1L688.5 163.5L688.9 162.8L689.2 163.2L688.7 163.6L688.9 164.2L689.9 164.4L689.6 163.4L690 163.5L690.1 162.2L690.6 161.7L690.8 161.9L690.7 161.8L692 162.6L691 162L691.5 160L691.5 159.4L690.9 157.2L691.9 156.9L692 157L692.5 157.1L692.8 158.7L692.2 160.1L693 160.4L693 161.6L693.1 162.6L694.6 161.3L694.6 162.7L693.5 163.2L694.8 163.6L693.5 164.4L694.3 166L694.1 165.8L694.6 166.9L695 167.3L694.1 166.5L694.5 165.4L693.9 165.3L695.2 164.5L695.8 163.4L696.6 164.1L695.1 163.2L694.8 162.6L695.2 162.1L695.6 161.7L694.8 161.2L696.6 160.1L694.6 159.6L696.9 158.2L695.8 157.1L695.6 156.5L695.4 155.6L695.8 155.6L695.8 154.6L696.4 153.7L696 152.1L696.4 152L696.4 150.8L696.5 150.9L697.3 149.2L696 147.9L696.1 147.7L695.6 146.7L697.4 146.2L695.6 145.3L696.2 145.3L695.5 144.7L696 144.1L696.8 143.5L696.7 142L696.7 140L696.7 138.6L697 139.8L696.7 139.6L697.3 139.9L696.4 139.3L697.7 138.7L697 138.5L697.7 137.3L698.8 136.8L698 135.3L698.2 135.1L697.3 134.4L697.9 133.4L697.5 133.4L698.1 132.4L698.7 131.4L699.3 131.3L700.2 131.3L699.9 130.7L699.9 129.8L700 127.8L699.3 127L699.3 126.4L699.2 125.5L699.5 124.5L699.4 124L699.7 122.9L700 122.4L699.4 122.7L699.9 121.9L699.9 121.8L701.2 121.6L699.4 119.3L700.3 118.6L701.2 117.4L700.9 116L701.6 116.5L701.6 116.5L701.5 114.7L701.5 114.5L701.6 114.8L702 115.3L702.4 113.5L703.6 114.3L701.7 115.4L702.2 115.2L703.3 115.9L703.4 116.6L702.7 117.9L703.3 118.4L703.4 118.7L703.3 119.4L702.5 119.6L703.2 120.4L704.1 120.7L702.8 121.9L703.2 123L703.6 122.8L704.1 123.2L703.5 124.5L703.6 125.5L704.5 123.9L704.6 123.6L704.3 123.3L703.9 121.8L704.8 122L703.9 121.4L704.7 120.2L705.7 120.5L705.3 119L705.3 118L705.5 116.8L704.8 117.1L705.7 117.3L705.1 115.5L705.7 115.1L705.2 114.4L705.8 113.4L705.4 111.9L705.6 111.1L706 110.9L705.8 111L705.4 109L706.8 108.4L706.5 108.6L706.7 108.7L707.3 110.1L708.1 110.8L707.7 112.5L707.4 112.9L708.5 112.6L708.7 114.4L707.3 114.9L709.3 116L708.5 116.4L709.6 116.3L709.6 116.9L710 117.9L710.5 118L710.3 118.1L711.5 117.2L710.7 115.5L710.4 114.5L710.8 114.1L710.4 113.4L710.8 113.6L711 112.1L711.1 112.4L711.4 111.8L712.5 110.8L711.5 110L711.4 109.3L712.6 108.3L711.6 108.1L712.1 105.9L712.5 105.2L712 105.4L712.4 105.4L712.5 105.2L712.6 103.9L712.4 102.9L714 102.7L712.2 102.2L713 101.3L713.7 101.2L713.2 99.9L712.6 98.8L714.2 97.5L713.8 97.5L714.2 97.2L713.9 95.7L714.5 95.5L715.2 95.1L714.1 94.2L714.4 94.2L714.5 96.1L714.3 96.4L714.9 97.2L715 98L715.5 98.3L715.6 98.1L715.9 99.6L715 99.8L715.6 100.7L715.3 101L715.8 102L714.2 103.1L715 104.6L715.5 106L715.5 106.1L715.3 106.5L715.8 106.9L715.2 108.1L715.4 108.4L715.9 108L715.2 108.7L715.8 109.7L716.2 110.8L716.5 111.6L718.3 111.7L717.3 112.1L717.7 112.7L717.5 113.6L718.2 114.3L718.8 114.4L717.3 114.9L718.1 115.3L718.7 116.5L718.9 116.8L720.2 117.4L719 118.6L719.4 118.4L720.2 119.7L720.7 118.7L720.2 118.9L722.1 118.4L721.6 118.9L719.8 117L720.4 116.3L721 116.6L720.4 116.4L720.4 114.9L721.4 113.7L721 113.7L721.3 113L721.6 113.2L721.8 113.8L721.1 112.4L721.3 112.4L721.8 111.1L722.1 109.3L724 108.2L722 107.4L721.6 106.9L722.6 106.2L722.7 105.4L722 103.7L722.2 103.1L722.6 103.2L722.7 102.9L722.7 101.7L722.9 101.3L724 100.4L723 99L722.5 96.7L722.7 95.8L724.2 96.6L725.3 94.9L724.8 95L725.1 95.3L724.3 94.9L724.8 94.2L725.6 94.6L725.7 92.8L726.2 93.2L727.4 92.1L726.7 91.4L727.2 91.4L727 90.3L727.9 89.3L729.3 89.8L727.3 89.9L727.4 87.9L726.8 88.4L727.9 88.3L729 87.1L727.6 85.9L728.1 85.4L729 86.8L729.8 86.1L729.5 86.1L730 86.8L730.2 88.9L729.1 90.1L729.7 90.5L730.1 90.4L730.5 91.8L730.2 92.6L730.6 93.8L731 93L731 92.3L731.2 92.1L731.2 91.9L732.5 90.9L733 90.2L733.2 89.3L734 88.8L734.1 87.6L732.8 87.4L734.3 86.5L734 86.7L734.6 86.4L734.7 87.8L735.5 87.6L735.3 89L735.3 90.5L735.2 91.1L735.2 91.8L734.5 92.7L735.5 93.3L736.5 93.6L735.8 95.5L735.9 95.9L736.6 96.2L736.3 96.2L735.1 97L735.3 98L736.5 99.2L736.4 99.8L736.1 99.7L735.8 100.5L736.8 101.1L736.8 102.1L736.1 103.7L737.3 103.8L736.9 104.7L736.9 105.4L736.8 106.1L738 106.2L737.2 106.2L737.9 107.9L737.7 106.3L738.4 106.3L739.1 106.6L739 105.1L740 103.8L740 103.7L739.8 102.8L739.5 102.8L740 103.3L740.3 103.8L739.8 103L739.8 101.9L741.6 101.8L740.9 99.8L740.9 99L743 99.4L741.2 97.7L741.8 96.2L741.2 94L741.4 94.9L743.1 94.6L741.6 93.4L741 92.7L742.2 92.5L743.2 92.8L743.3 94.3L743.4 94.2L744.1 94L744.4 93.3L744 91.7L745.3 91.6L745 90.5L745.4 89.8L745 89.5L745.5 89.8L745.1 87.8L745.9 87.1L745.7 86.8L746.3 87.7L746.4 87.7L746.4 88.6L746.8 90L747.3 89.6L747.4 90.8L747.4 90.1L746.6 91L747.2 90.4L748.1 90.6L747.6 93L746.9 93.5L748 94.7L748.5 95.4L748.1 96.4L747.7 96.6L748.9 97.9L748.3 98.8L748.9 98.2L749.1 97.7L747.6 97.7L748.8 97.8L749.1 97L749.8 95.2L749.8 93.7L749.9 93.7L749.1 93.6L749.6 92.4L750.2 92.2L750.3 92.1L750.7 91.6L750.8 90.5L750.8 89.6L751.5 89.6L751 88.5L751.4 87.8L751.7 88L752.8 86.9L752.4 86.6L752.6 85.9L752.8 85L753 84L754.1 83.6L753.9 83.3L753.3 82L753.9 80.8L755.2 81.1L754.4 80.1L755.1 79.9L755.5 80.6L756.1 81.2L756.8 81.3L756.4 79.8L757.4 79.9L758.3 78.6L758.4 79.3L759.1 78.7L759 79.6L760.5 80.3L759.7 80.9L761.1 81.2L759.3 82.8L759.2 84.4L759.9 85.6L760.6 85.3L760.4 85.4L758.8 85.5L759.1 86.3L760.3 87.4L760.1 87.2L761 88.8L759.2 89.8L760.8 90.8L762.1 92.2L760.1 92.3L761 92L760.7 93.1L760.3 93.6L760.4 94.9L760.5 96.9L760.5 97.3L760.5 97.8L761.5 97.4L762.3 99.1L762.2 99.5L763.1 99.1L762.4 100L763.1 101.5L763.1 101.3L764.3 100.5L763 99.9L763.7 99.9L763.6 97.9L763.5 97.3L764.4 95.8L764.1 94.7L764.1 93.4L764.5 92.1L765.3 93.1L765.4 91.1L765.8 91.8L765.1 90.6L765.2 91.1L765.6 89L766.4 88.9L766.5 88.7L766.7 88.7L766.8 87.7L767 86.8L767.5 86L766.3 85.3L766.8 85.6L767.3 84.8L767.8 83.5L767.1 82.8L767.6 82.6L767.9 81.5L768.1 81.1L768.4 80.4L769.4 80.8L769.1 79.6L768.5 77.9L768.3 77.5L767.7 76.8L768.1 75.7L769.4 75.2L768.6 76.7L769.6 77.2L769.4 78.6L770.1 77.7L770.3 78.6L769.8 78.9L770 80.3L770.3 80.5L770.7 81.1L770.4 81.9L770.3 82.2L771.6 83L771 82.3L772.3 81.2L772.2 80.7L771.5 79.7L772.7 79.7L772.9 77.7L773 76.6L773.1 76.2L773.6 74.7L773.3 74.8L773.3 75.4L772.8 74.2L773.7 73.9L774.1 72.5L772.2 72.7L773.1 71.6L774.2 71.5L773.6 72.9L774.9 73.8L774.6 73.4L774.9 72.6L774.6 71.7L775.8 70.9L775.6 70.8L776.3 72.1L776.6 71.5L776.4 72L776.7 71.7L776.1 70.9L776.3 71.1L776.1 69.9L776.9 67.9L777.1 67.3L777.9 67L778.3 66.5L779.8 68.2L777.9 69.4L778.4 69.9L777.7 70.7L778.1 71L778.7 70.7L778.6 71.4L779.1 71.5L779.3 72.3L780.5 72.2L780.9 73.2L780.1 73.9L780.6 75.1L780.9 76.2L780.2 76.7L780.3 77.1L780.4 77.5L780.7 79.1L779.3 79.9L782.1 80.2L781 79.9L780.1 81L782.5 81.5L782 82.3L781.5 83.5L780.4 83.7L782 84.9L782 85.2L783.6 85.8L781.9 86.8L781.1 87.2L781.7 87.4L782.5 87.5L782.5 86.5L783.6 87.4L783.5 87.9L782 87.7L782.5 86.9L782 86.3L784.5 86.2L784.2 84.5L784.7 83.8L783.3 82.3L783 81.5L785.2 80.8L784.7 79.8L784.7 79.4L785.6 79.3L784.8 78.2L785.5 78.4L785.9 79L787.4 79.7L786.6 80.1L787.7 81.2L787 82.1L787.6 81.7L788.3 82.1L788.4 82.2L788.7 82.9L788.4 83.9L788.9 83.9L788.8 85L789.6 85.6L790.1 85.9L789.9 86.9L789.8 88.1L789.6 88.7L790.3 88.7L791.1 88.6L792.3 88.3L791.3 87.6L792.4 88.6L791.6 88.8L791.1 88.8L791.8 89.2L792.4 90.4L793.1 91.4L792.9 93.4L793.5 93.9L792.9 94.5L792.4 93.4L793.4 92.5L794.1 92.9L793.7 92.9L792.5 91.3L793.5 90.2L794.1 89.9L794.5 88.8L794.5 88.7L794.2 86.8L795.6 87.1L795.1 87.8L796.4 87.6L795.2 86.8L796 85.4L795.8 84.4L796.2 84.1L796.6 83L796.1 81.6L797.4 80.4L797.5 80L797.4 79.5L797.4 80L797.4 78.8L797.9 78.5L797.5 77.3L797.8 76L797.3 75.6L798 75.4L798.2 74.2L798.4 73.7L798.7 73.8L798.7 72.3L798.5 71.4L798.1 70.8L798.6 70L798.6 69.5L798.8 67.8L799.3 66.9L800.1 67.2L799.4 65.3L799.3 65.9L799.6 64.7L800.9 63.7L800.4 64.4L800.4 65.3L801 66.2L800.7 66L800 67.3L800.1 67.1L801.4 68.4L801.9 68.6L802.2 69.7L802.5 71.7L801.7 71.5L801.6 72L801.3 73.2L801.3 74L800.3 75.8L801.8 76.5L801 77L801.5 76.8L801.8 77.9L803.1 78.4L801.6 79.6L801.6 80.1L802.3 81.1L801.9 81.7L801.2 82.1L802.1 82.9L802.5 84.4L801.6 85.2L802.9 86.7L801.8 86.2L803.2 86.1L802.2 87.4L801.7 87.5L802 88.6L802.3 89.2L802.3 89.4L804.3 89.7L803.2 91L802.5 93L802.7 94.8L801.7 95.3L802.7 96L802.5 97.3L802.9 96.7L803.1 96.7L801.8 97.3L803.7 97.2L802.2 98.2L802.7 98.5L802.2 99.5L802.7 101.1L802.5 101.4L803.5 103.2L803.4 102.2L804.3 102.4L803.3 103.4L802.8 103.9L803.2 104.6L803 104.9L802.6 106L805.3 107.3L802.5 107.3L803.2 108.2L802.6 109.6L802.2 109.5L803.9 110.1L804 109.3L803.6 109.3L803.4 107.7L803.5 107.1L803.3 106.3L803.3 106.8L804.7 106.1L802.6 105.3L803.8 104.3L804.5 103.8L804.1 102.8L802.6 102.3L802.3 102.7L803.3 101.8L804 100.4L804.1 99.3L804.6 98L803.6 97.5L804 96.3L804.3 97L804 96.2L802.8 94.9L804.3 95.3L804.2 93.8L804.6 92.7L804.1 92.3L803.9 91.5L803.7 91L803.1 90.1L805.2 89.5L804.6 89.1L805.1 88.5L803.2 88.2L804.2 87.7L803 86.6L804 86.2L803.7 85.8L803.4 84L803.3 84.4L803.7 83.1L804.7 80.7L802.5 80.6L804.3 80.1L804.8 80L804.4 78.9L804.7 78.5L804.4 77.5L803.3 76.9L803.4 77L804.1 75.9L805.1 75.8L803.4 75.4L803.7 73.1L804.2 72.9L804.4 72.2L804.5 71.3L803.6 70.4L803.5 70.2L804.1 69.2L804.3 69L803.3 67.4L803.2 67.2L805.1 66.8L804.9 65.7L804.6 65.1L804.8 64.7L803.3 64L803.8 62.9L802.9 62.3L804.2 62L804.5 61.4L803.9 60L805.3 58.7L804.2 58.2L804.6 57.7L805.2 56.9L804 56.8L805.2 56.2L803.7 55.2L804.4 55.3L804.8 54.4L804.2 54.1L804 53.3L805.2 53.1L804.8 52.4L805.3 51L805.6 49.8L804.2 49.5L804 49.5L804.9 48.4L805.6 47.6L805.1 46.8L804.5 46.3L804.2 45.2L805.1 44L805.2 44.4L805.8 43.1L805.4 42.6L805.3 41.5L804.6 40.9L804.6 40.7L804.8 40.4L804.9 39.5L804 39.3L805.1 37.6L805 35.6L804.1 34L804.7 34.5L804.9 33.6L805.5 33.2L805.2 32.2L805.3 32.9L804.5 34.6L805.7 34.8L805.4 34.8L804.7 36.5L806.1 37L804.2 37.4L804.8 37.6L804.9 37.9L804.7 38.7L804.2 39.1L805.8 40.2L805.3 40.5L805.5 40.3L806.1 41.8L804.9 42.1L804.8 43.2L805.6 44.8L806.4 46L806.5 46.5L805.4 46.8L806 47.2L805.4 48.1L805.7 49L806.3 48.8L805.2 50.1L805.8 52.2L806 52.6L806.3 52.9L806.2 53.4L805.7 52.7L806.7 53.2L806.3 53.7L805.8 54.3L805 56.1L806.3 57.4L805.3 58.6L806 59.3L806.6 59.6L805.3 59.4L805.7 60.5L805.8 60.6L808.2 61.1L807.4 62.8L806.6 62.8L805.4 63.9L807.5 64.3L806.2 64L806.6 64.7L806 65.9L807.6 66.8L806.5 67.5L806.9 68.8L807.4 69.1L806.8 70.5L806.1 69.6L806.7 68.7L807.5 67.8L806.3 66.9L807.5 66.3L806.8 64.8L807.5 63.4L807.9 63.4L807 62.7L806.7 62.3L807.9 61.7L807.3 60.8L807.2 60.3L806.7 59.4L807.5 59.7L806 59.7L807 58.5L807.5 58.2L807.6 57L806.4 56.2L808 54.9L806.7 54.4L808.5 55.1L807.6 53.3L807.8 52.4L808.1 53L808.8 53.3L808 54.5L808.7 55.7L808.9 56.3L808.7 57.2L810 57.9L809.5 58.5L809.5 59.4L809.9 60.5L809.7 60L809.6 60.2L811.6 61.1L810.4 62.4L809.8 62.8L810.1 63L810.4 63.6L810.5 64.7L809.6 65.6L809.2 67.3L809.4 67L810.5 67.8L810.3 67.3L810.8 67L811.2 64.8L811.3 64.3L810.8 64.4L812.2 64L811.2 63.2L810.9 62.1L812.1 62.6L811.6 61.2L810.6 60L811.7 58.4L811.4 57.5L812.4 57.3L812.8 56.9L813.5 56.9L812.7 56.1L812.8 56.2L812.1 56.5L813.4 57.7L812.7 59L813.5 59.2L813.5 59.9L813.2 61.1L812.9 62.1L813.7 63.3L813.2 65.4L814.1 64.3L815.4 65.7L814.7 66.3L815.5 65.9L816.6 68L815.7 68.6L815.6 68.7L815 68.8L815.4 70.3L816.1 70.7L816.5 71.9L816.8 71.6L816 72.3L816.5 72.2L817 73.1L816.7 73.4L816.3 74L816.3 74.3L817.1 75.1L816 75.7L817 76.4L816.2 76.9L816.6 78.7L815.4 79.2L816.8 79.9L816.4 81.1L816.2 82.3L815.9 83.5L816.9 82.8L817.9 82.5L817.2 84.2L817.4 85.2L817.5 86.2L816.6 87L817.4 87.3L817.2 87.5L816.5 87.7L816 88L817.3 88.9L817.4 90.3L817 91.1L817.8 91.5L816.1 92.7L817.1 93.8L817.3 93.8L817.6 95.1L817.2 95.7L817.3 97L817 97.7L818 98.6L818.4 98L817.8 96.3L817.4 95.5L817.6 95.3L818.6 95.3L819.2 94.6L819.1 94.1L818.9 92.4L819.1 91.6L818.7 90.7L818.5 90.6L819.5 89.8L819 89.4L819.8 88.9L819.6 88.8L821.5 88L820.1 86.5L820.4 86.5L820.7 85.3L821.5 85.4L821 86.3L820.1 87.3L821.7 87.8L821.7 88.6L821.7 88.9L821.8 89.2L821.9 89.9L821.4 90.4L822.9 91L823.3 91.7L823.1 93.4L822.6 94.2L822.6 95.1L824.8 95.4L823.8 96.6L824.6 98.6L824 99.1L824.5 99.3L824.1 99.5L823.7 100.8L824.5 100.7L824.9 100.7L824 102.4L824.1 104.2L824.3 104.7L824.4 104.9L824.2 105.8L824.5 106.2L824.4 107L824.9 107L824.2 106.6L824.6 108.1L825.3 109L825.4 109.4L826.8 109.9L826.4 111.3L825.1 111L826.7 112.5L825.6 113.4L827 114.3L826.1 115.4L825.3 113.8L824.5 114.5L825.5 115L826.1 114.9L826 116.2L826 117L826.5 117.9L826.5 119.1L826.9 118.8L826.3 119.4L825.6 120.6L826.3 120.7L826.5 122.7L827.3 124.3L827.3 124.5L827.2 125.8L825.9 127.5L825.8 128L827.4 128.1L827.3 128.1L827.1 130.2L827.4 129.2L828.2 130.1L827.4 130.5L828.2 130.7L828.7 131.5L828.8 133.6L828.7 133.5L828.6 134.5L829 134.5L828.6 134.9L830.1 135.1L830 137L830.1 137.5L830.6 137.7L830.2 137.8L831.3 136.7L831.8 135.8L830.9 134.9L830.6 133.8L830.6 132.9L831.6 132.2L831.6 132.3L831.8 131.5L832 130.7L832.3 130.9L831.5 129.2L832.3 128.5L831.9 127.7L831.8 126.8L832.3 125.9L832.8 125.8L833.6 125.7L833.1 123.7L832.8 122.9L833 121.9L833.6 122.3L834.2 121.8L834.8 121.3L834.2 120.8L834.4 120.8L834.5 120.1L834.5 119.7L834 118.3L834.8 119L835.8 119.6L835.1 120.1L836.2 121.2L836.3 122.9L835.7 123L835 123.6L836.2 123.9L835.6 124.2L836.6 124.5L836 126L835.1 126.4L836.4 127.2L836.5 126.1L837 126.6L837.1 127.9L837.4 129.1L837.4 130.2L836.9 129.2L837.7 128.3L837.2 127.8L837.3 129.1L838.3 128.3L837.9 126.9L838 126.7L838.2 125.1L838.5 124.4L839.1 123.7L839.8 121.8L839.4 121.5L839 121L839.1 120.3L839.8 119.8L838.5 120L840 121L839.5 122L839.7 122.9L839.7 122.9L839.7 123.1L840.7 124.2L841.1 124.6L841.5 125.3L841.1 126.8L841.3 127.2L841 127.4L842.2 127.7L841.6 128.4L841.8 129.2L842.2 130.1L841.3 131.5L841.2 131L841.9 132.2L841.1 133.4L842.4 134L842.6 135.1L842.7 135L842.6 136.7L842.6 137.3L842.3 137.6L842.3 138.1L843 138.9L843.2 138.1L842.7 137.6L843.8 136.8L844.4 136.6L844.4 136.6L844.7 137L843.9 137.3L844.4 139L845.2 139.9L846.7 141.3L845.5 141.6L845 142.5L845.8 143.7L846 145L846.1 144.5L846.4 145.5L846 146.3L846.1 147.5L846.7 147.2L845.8 148L846.6 148.4L848.6 149.5L846.5 151L847.6 151.1L847.2 152.3L847 153.3L847 154L847.3 153.5L847.9 154.3L847.4 155.4L847.5 155.7L847.7 155.5L847.9 155L848.2 156.3L847.9 158.1L848.5 159.2L849.1 160.7L849.9 161.8L849.6 162.5L849.4 162.4L849.3 162.2L850.8 162.3L850.6 162.7L850 163.2L849.8 164.5L850 163.5L850.2 161.6L851.4 163.1L850.8 161.2L851.8 161.2L851.3 161L850.9 160.5L851.1 159.5L851.5 157.9L852 158.3L852.1 157.6L853.2 159.5L853.5 157.4L853.3 156.2L853 155.1L852.4 154.7L852.9 154.3L854.7 154.4L853.9 152.5L854.6 152.6L854.5 151.5L854 150.8L853.7 149.8L854.6 149.3L856 148.9L855.1 147.3L855.8 147.6L856.2 147.5L856.2 148.9L856.7 150.3L856.5 150.8L856.7 150.6L856.7 151L857.6 151.4L856.6 152.8L856.2 153.5L857.4 154.3L856.9 154.8L858.2 155.2L858.5 155.5L858.3 156.5L858.1 156.9L857.7 155.9L858.1 156L859.1 154.9L857.3 153.4L857.9 152.9L858.8 152.8L859 152.1L858.2 151.4L857.4 150.4L859 151L859.7 150.8L859.3 150.1L859.3 149L858.5 148L859.7 147.5L859.6 146.5L859.8 145.9L859.9 146.8L860 145.9L860.6 144.7L860.4 144.2L861 143.7L860.9 142.3L860.2 141.4L859.2 141.9L860.6 141.3L860.6 139.6L860.9 140.1L860.8 138.9L861 138.9L861.2 138.1L861.1 136.3L861.9 135.7L862.6 134.5L862.4 133.4L863.1 133.1L863.3 132.2L864 132L863.5 131.6L862.2 130.6L863.9 130.9L863.8 128.9L864 129.6L864 129.5L862.9 131.6L862.6 132.1L864.1 132.8L864.4 133.2L864.1 133.3L864.3 134.3L865.4 134.9L864.8 135L863.9 136.4L864.9 137.4L865.2 138.9L865.1 138.9L864.9 140.5L864.7 140.8L865.2 141.2L866 141.4L864.7 142.5L866 143.1L864.9 143.5L866.6 144.8L866.5 145.6L866.6 145.1L867.1 146L865.6 146.6L866.3 146.7L866.8 147L866.5 147.9L866.9 147.1L867.2 146.3L868.6 146.8L867.2 147.5L867.2 147.6L868.1 148.2L868.2 149.3L868.4 148.1L868.7 148.4L868.7 149.1L868.1 150.2L870 149.5L870.7 150.5L869.6 152.1L869.2 153L869.7 154.2L869.8 155.6L869.8 155.5L870.8 155.4L870.4 156.2L870.2 156.4L870.9 157.6L871.6 157.2L871.2 158.8L872.3 159.8L871.8 160.8L872.2 161.1L871.1 162.5L872.1 162.8L873.2 163L873.5 163L873.3 161.5L873.3 160.7L875.1 161.4L873 158.6L872.5 157.2L873.9 157.1L874.3 157.4L876.1 156.8L874.5 155.7L873.8 155.3L875.4 155.6L875.1 154.6L874.8 153.2L874.6 152.4L875.3 152.7L875.2 152.2L875.8 151.3L874.6 150L875.3 148.4L875.2 149L875.3 147.7L874.9 147L874.5 146.2L876.6 146.3L876.1 145.4L876.3 144.3L875.4 142.3L875 140.5L875.7 140.5L876.6 140L875.9 139.6L875.5 139.8L876.8 138.9L877.5 139.5L876.4 140L876.5 140.9L876.4 141L876.8 143.6L876.3 143.9L876.8 143.4L876 144.2L877 145"/>
</g>
<g stroke="#fc0a16" stroke-width="2.2" stroke-dasharray="8 6" fill="none">
<path d="M403.8 33.9V364.3"/>
<path d="M441 33.9V364.3"/>
<path d="M501.9 33.9V364.3"/>
<path d="M557.9 33.9V364.3"/>
</g>
<g font-family="Liberation Sans, sans-serif" font-size="16" fill="#000">
<text x="60.8" y="15.5" text-anchor="end">8.00</text>
<text x="60.8" y="51" text-anchor="end">7.80</text>
<text x="60.8" y="86.4" text-anchor="end">7.60</text>
<text x="60.8" y="121.8" text-anchor="end">7.40</text>
<text x="60.8" y="157.3" text-anchor="end">7.20</text>
<text x="60.8" y="192.8" text-anchor="end">7.00</text>
<text x="60.8" y="228.2" text-anchor="end">6.80</text>
<text x="60.8" y="263.6" text-anchor="end">6.60</text>
<text x="60.8" y="299.1" text-anchor="end">6.40</text>
<text x="60.8" y="334.6" text-anchor="end">6.20</text>
<text x="60.8" y="370" text-anchor="end">6.00</text>
<text x="894.2" y="15.5" font-size="15.7">105.00</text>
<text x="894.2" y="66.1" font-size="15.7">100.00</text>
<text x="894.2" y="116.8" font-size="15.7">95.00</text>
<text x="894.2" y="167.4" font-size="15.7">90.00</text>
<text x="894.2" y="218.1" font-size="15.7">85.00</text>
<text x="894.2" y="268.7" font-size="15.7">80.00</text>
<text x="894.2" y="319.4" font-size="15.7">75.00</text>
<text x="894.2" y="370" font-size="15.7">70.00</text>
</g>
<g font-family="Liberation Sans, sans-serif" font-size="16" fill="#000">
<text transform="translate(85.5 386.7) rotate(-49)" text-anchor="end">2007-06-25</text>
<text transform="translate(114 386.7) rotate(-49)" text-anchor="end">2007-12-25</text>
<text transform="translate(142.6 386.7) rotate(-49)" text-anchor="end">2008-06-25</text>
<text transform="translate(171.1 386.7) rotate(-49)" text-anchor="end">2008-12-25</text>
<text transform="translate(199.5 386.7) rotate(-49)" text-anchor="end">2009-06-25</text>
<text transform="translate(228 386.7) rotate(-49)" text-anchor="end">2009-12-25</text>
<text transform="translate(256.4 386.7) rotate(-49)" text-anchor="end">2010-06-25</text>
<text transform="translate(284.9 386.7) rotate(-49)" text-anchor="end">2010-12-25</text>
<text transform="translate(313.2 386.7) rotate(-49)" text-anchor="end">2011-06-25</text>
<text transform="translate(341.8 386.7) rotate(-49)" text-anchor="end">2011-12-25</text>
<text transform="translate(370.3 386.7) rotate(-49)" text-anchor="end">2012-06-25</text>
<text transform="translate(398.8 386.7) rotate(-49)" text-anchor="end">2012-12-25</text>
<text transform="translate(427.2 386.7) rotate(-49)" text-anchor="end">2013-06-25</text>
<text transform="translate(455.7 386.7) rotate(-49)" text-anchor="end">2013-12-25</text>
<text transform="translate(484.1 386.7) rotate(-49)" text-anchor="end">2014-06-25</text>
<text transform="translate(512.6 386.7) rotate(-49)" text-anchor="end">2014-12-25</text>
<text transform="translate(541 386.7) rotate(-49)" text-anchor="end">2015-06-25</text>
<text transform="translate(569.5 386.7) rotate(-49)" text-anchor="end">2015-12-25</text>
<text transform="translate(598.1 386.7) rotate(-49)" text-anchor="end">2016-06-25</text>
<text transform="translate(626.6 386.7) rotate(-49)" text-anchor="end">2016-12-25</text>
<text transform="translate(655 386.7) rotate(-49)" text-anchor="end">2017-06-25</text>
<text transform="translate(683.5 386.7) rotate(-49)" text-anchor="end">2017-12-25</text>
<text transform="translate(711.8 386.7) rotate(-49)" text-anchor="end">2018-06-25</text>
<text transform="translate(740.4 386.7) rotate(-49)" text-anchor="end">2018-12-25</text>
<text transform="translate(768.7 386.7) rotate(-49)" text-anchor="end">2019-06-25</text>
<text transform="translate(797.3 386.7) rotate(-49)" text-anchor="end">2019-12-25</text>
<text transform="translate(825.8 386.7) rotate(-49)" text-anchor="end">2020-06-25</text>
<text transform="translate(854.3 386.7) rotate(-49)" text-anchor="end">2020-12-25</text>
<text transform="translate(882.7 386.7) rotate(-49)" text-anchor="end">2021-06-25</text>
</g>
<text x="115" y="21.5" font-family="Liberation Serif, Noto Serif CJK SC, serif" font-size="18.4" font-weight="bold" fill="#000">美联储货币政策正常化过程中的汇市表现</text>
<rect x="211.4" y="41.5" width="151.1" height="36.8" fill="none" stroke="#000" stroke-width="1.1"/>
<rect x="191.5" y="98.4" width="151.2" height="36.8" fill="none" stroke="#000" stroke-width="1.1"/>
<rect x="585.2" y="2.4" width="100.2" height="36.9" fill="none" stroke="#000" stroke-width="1.1"/>
<rect x="572.5" y="149.5" width="99.2" height="36.7" fill="none" stroke="#000" stroke-width="1.1"/>
<text x="228.2" y="67.6" font-family="Liberation Sans, Noto Sans CJK SC, sans-serif" font-size="18" fill="#1c1c1c">正式启动</text>
<text x="305" y="68.3" font-family="Liberation Sans, sans-serif" font-size="15.6" fill="#1c1c1c" text-anchor="start" textLength="41.2" lengthAdjust="spacingAndGlyphs">Taper</text>
<text x="204.7" y="124.8" font-family="Liberation Sans, Noto Sans CJK SC, sans-serif" font-size="18" fill="#1c1c1c">释放</text>
<text x="245.5" y="125.5" font-family="Liberation Sans, sans-serif" font-size="15.6" fill="#1c1c1c" text-anchor="start" textLength="41.2" lengthAdjust="spacingAndGlyphs">Taper</text>
<text x="292.2" y="124.8" font-family="Liberation Sans, Noto Sans CJK SC, sans-serif" font-size="18" fill="#1c1c1c">信号</text>
<text x="599.2" y="28.6" font-family="Liberation Sans, Noto Sans CJK SC, sans-serif" font-size="18" fill="#1c1c1c">正式加息</text>
<text x="587.3" y="174" font-family="Liberation Sans, sans-serif" font-size="15.8" fill="#1c1c1c" text-anchor="start" textLength="31" lengthAdjust="spacingAndGlyphs">8.11</text>
<text x="618.4" y="174.5" font-family="Liberation Sans, Noto Sans CJK SC, sans-serif" font-size="18" fill="#1c1c1c">汇改</text>
<path d="M362.4 60L430.3 88.9" stroke="#000" stroke-width="1.1" fill="none" stroke-dasharray="4 3"/>
<path d="M440 93L428.8 92.5L431.9 85.3Z" fill="#000"/>
<path d="M342.7 116.6L394.8 151.2" stroke="#000" stroke-width="1.1" fill="none" stroke-dasharray="4 3"/>
<path d="M403.5 157L392.6 154.4L396.9 147.9Z" fill="#000"/>
<path d="M585.2 25L569.1 39.9" stroke="#000" stroke-width="1.1" fill="none" stroke-dasharray="4 3"/>
<path d="M561.4 47L566.5 37L571.8 42.7Z" fill="#000"/>
<path d="M606.9 186.2L551.7 318.7" stroke="#000" stroke-width="1.05" fill="none" />
<path d="M547.7 328.4L548 317.2L555.4 320.2Z" fill="#000"/>
<path d="M77 477.2H110.3" stroke="#c0504d" stroke-width="1.8" fill="none"/>
<text x="112.7" y="483.6" font-family="Liberation Sans, Noto Sans CJK SC, sans-serif" font-size="17.6" fill="#0a0a0a">美元兑人民币</text>
<text x="218.5" y="483.6" font-family="Liberation Sans, Noto Sans CJK SC, sans-serif" font-size="17.6" fill="#262626">：</text>
<text x="234.5" y="483.6" font-family="Liberation Sans, Noto Sans CJK SC, sans-serif" font-size="17.6" fill="#0a0a0a">中间价</text>
<path d="M362 477.2H395.5" stroke="#00b050" stroke-width="1.8" fill="none"/>
<text x="398.2" y="482.1" font-family="Liberation Sans, sans-serif" font-size="15.4" fill="#111" text-anchor="start" textLength="61.4" lengthAdjust="spacingAndGlyphs">USDCNH</text>
<path d="M534.4 477.2H567.4" stroke="#ff0000" stroke-width="1.8" fill="none"/>
<text x="570.6" y="482.1" font-family="Liberation Sans, sans-serif" font-size="15.4" fill="#111" text-anchor="start" textLength="58.4" lengthAdjust="spacingAndGlyphs">USDCNY</text>
<path d="M703.6 477.2H735.7" stroke="#000" stroke-width="1.8" fill="none"/>
<text x="739" y="483.6" font-family="Liberation Sans, Noto Sans CJK SC, sans-serif" font-size="17.6" fill="#0a0a0a">美元指数（右轴</text>
<text x="864.8" y="483.6" font-family="Liberation Sans, Noto Sans CJK SC, sans-serif" font-size="17.6" fill="#0a0a0a">）</text>
<g>
<g fill="#6b6b6b" opacity="0.55" transform="translate(1.2 1.2)">
<ellipse cx="802.7" cy="450.7" rx="12.3" ry="10.3"/><path d="M795.7 458.7l-2.5 5.5 7-3.5z"/>
<ellipse cx="814.7" cy="459.5" rx="11" ry="9.2"/><path d="M820 466.5l3.5 4-7.5-2z"/>
</g>
<g fill="#f4f9fa">
<ellipse cx="802.7" cy="450.7" rx="12.3" ry="10.3"/><path d="M795.7 458.7l-2.5 5.5 7-3.5z"/>
</g>
<ellipse cx="814.7" cy="459.5" rx="12" ry="10.2" fill="#9fcbd6"/>
<g fill="#fbfdfd">
<ellipse cx="814.7" cy="459.5" rx="11" ry="9.2"/><path d="M820 466.5l3.5 4-7.5-2z"/>
</g>
<g fill="#a9d3de"><circle cx="799.6" cy="447.3" r="1.5"/><circle cx="807" cy="447.3" r="1.5"/><circle cx="811" cy="456.5" r="1.3"/><circle cx="818.4" cy="456.5" r="1.3"/></g>
<text x="833" y="465" transform="translate(1.3 1.3)" font-family="Liberation Sans, Noto Sans CJK SC, sans-serif" font-size="23" fill="#4a4a4a" opacity="0.75">涛动宏观</text>
<text x="833" y="465" font-family="Liberation Sans, Noto Sans CJK SC, sans-serif" font-size="23" fill="#fff">涛动宏观</text>
</g>
</svg>
</body></html>
